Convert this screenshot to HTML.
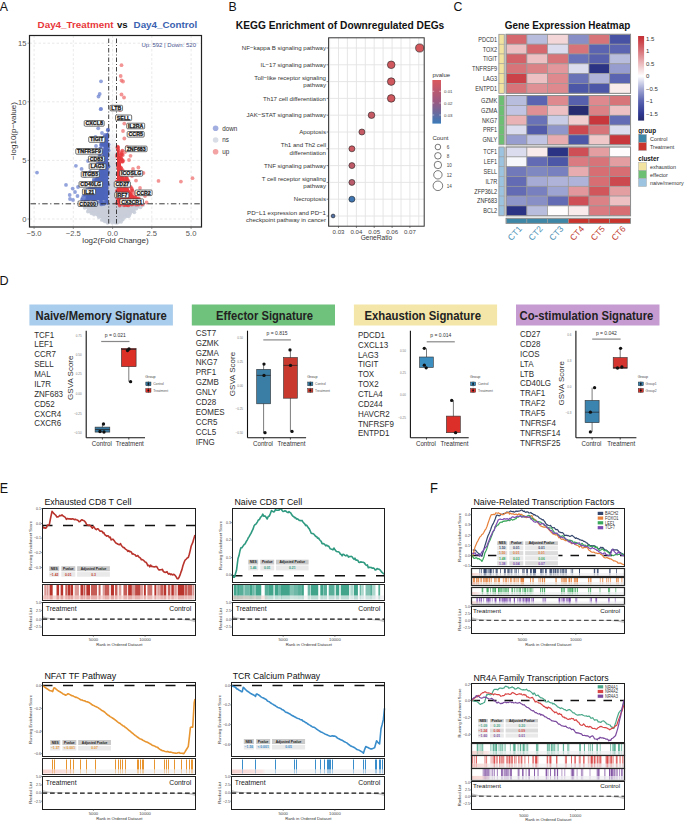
<!DOCTYPE html>
<html><head><meta charset="utf-8"><style>
html,body{margin:0;padding:0;background:#fff;width:685px;height:821px;overflow:hidden}
svg{display:block}
text{font-family:"Liberation Sans", sans-serif}
</style></head><body>
<svg width="685" height="821" viewBox="0 0 685 821" font-family="Liberation Sans, sans-serif">
<rect width="685" height="821" fill="#fff"/>
<text transform="translate(-0.3 10.9) scale(1 1.0)" font-size="12.3" fill="#111">A</text>
<text x="37.6" y="28.1" font-size="9.82" fill="#e8373a" font-weight="bold">Day4_Treatment</text>
<text x="116.9" y="28.1" font-size="9.62" fill="#111" font-weight="bold">vs</text>
<text x="133.6" y="28.1" font-size="9.81" fill="#3a62b0" font-weight="bold">Day4_Control</text>
<line x1="34.1" y1="35.5" x2="34.1" y2="227" stroke="#dadada" stroke-width="0.6" stroke-dasharray="2.5,2"/>
<line x1="73.3" y1="35.5" x2="73.3" y2="227" stroke="#dadada" stroke-width="0.6" stroke-dasharray="2.5,2"/>
<line x1="112.6" y1="35.5" x2="112.6" y2="227" stroke="#dadada" stroke-width="0.6" stroke-dasharray="2.5,2"/>
<line x1="151.8" y1="35.5" x2="151.8" y2="227" stroke="#dadada" stroke-width="0.6" stroke-dasharray="2.5,2"/>
<line x1="191.1" y1="35.5" x2="191.1" y2="227" stroke="#dadada" stroke-width="0.6" stroke-dasharray="2.5,2"/>
<line x1="29.5" y1="219" x2="201.5" y2="219" stroke="#dadada" stroke-width="0.6" stroke-dasharray="2.5,2"/>
<line x1="29.5" y1="160.4" x2="201.5" y2="160.4" stroke="#dadada" stroke-width="0.6" stroke-dasharray="2.5,2"/>
<line x1="29.5" y1="101.8" x2="201.5" y2="101.8" stroke="#dadada" stroke-width="0.6" stroke-dasharray="2.5,2"/>
<line x1="29.5" y1="43.2" x2="201.5" y2="43.2" stroke="#dadada" stroke-width="0.6" stroke-dasharray="2.5,2"/>
<polygon points="86,204.5 141,204.5 139,208 131,214 121,219.5 112.5,221 103,219.5 93,214 88,209" fill="#c9ced9" />
<defs><linearGradient id="bandg" x1="0" y1="1" x2="0" y2="0"><stop offset="0" stop-color="#ccd1dc"/><stop offset="0.55" stop-color="#d6dae3"/><stop offset="1" stop-color="#ffffff" stop-opacity="0"/></linearGradient></defs>
<polygon points="109.3,120 116,120 116,205 109.3,205" fill="url(#bandg)" />
<polygon points="108.3,132 108.3,205 86,205 84,200 87,194 91,188 95,181 98,173 100.5,165 102.5,155 104,143 105.5,134" fill="#4d64bb" />
<polygon points="117,150 117,205 140,205 135,198 129.5,190 125,181 122,171 120,160 119,150" fill="#e8393d" />
<g fill="#c9ced9" fill-opacity="0.9"><circle cx="102.8" cy="204.9" r="1.9"/><circle cx="122.7" cy="203.1" r="1.9"/><circle cx="87.3" cy="203.5" r="1.9"/><circle cx="108.9" cy="220.1" r="1.9"/><circle cx="90.6" cy="206.5" r="1.9"/><circle cx="135.4" cy="208" r="1.9"/><circle cx="91.8" cy="204.2" r="1.9"/><circle cx="101.8" cy="219.9" r="1.9"/><circle cx="94" cy="214.6" r="1.9"/><circle cx="116.4" cy="202.9" r="1.9"/><circle cx="86.6" cy="206.1" r="1.9"/><circle cx="97.9" cy="214.4" r="1.9"/><circle cx="115" cy="221.2" r="1.9"/><circle cx="108.5" cy="218.5" r="1.9"/><circle cx="92.3" cy="212.5" r="1.9"/><circle cx="129.6" cy="214.4" r="1.9"/><circle cx="136.4" cy="208.6" r="1.9"/><circle cx="125.4" cy="214.9" r="1.9"/><circle cx="93.3" cy="204.1" r="1.9"/><circle cx="90.9" cy="207.1" r="1.9"/><circle cx="106.8" cy="221.1" r="1.9"/><circle cx="87.9" cy="211.6" r="1.9"/><circle cx="116.5" cy="221.4" r="1.9"/><circle cx="104.9" cy="221.4" r="1.9"/><circle cx="141.4" cy="204.9" r="1.9"/><circle cx="93.7" cy="206.7" r="1.9"/><circle cx="118.9" cy="207.4" r="1.9"/><circle cx="124.2" cy="202.7" r="1.9"/><circle cx="86.8" cy="203" r="1.9"/><circle cx="95.7" cy="205.2" r="1.9"/><circle cx="103.7" cy="202.7" r="1.9"/><circle cx="89.2" cy="209.7" r="1.9"/><circle cx="120.5" cy="204.8" r="1.9"/><circle cx="105.2" cy="204.3" r="1.9"/><circle cx="88.2" cy="203.8" r="1.9"/><circle cx="103.9" cy="207.5" r="1.9"/><circle cx="133.6" cy="205.1" r="1.9"/><circle cx="115.2" cy="204.8" r="1.9"/><circle cx="116.1" cy="202.1" r="1.9"/><circle cx="115.5" cy="219" r="1.9"/><circle cx="103.1" cy="206.5" r="1.9"/><circle cx="96.8" cy="213.1" r="1.9"/><circle cx="104.7" cy="202.2" r="1.9"/><circle cx="84.7" cy="207.8" r="1.9"/><circle cx="98.8" cy="217.1" r="1.9"/><circle cx="96.4" cy="206.6" r="1.9"/><circle cx="95" cy="206.1" r="1.9"/><circle cx="121.1" cy="221.8" r="1.9"/><circle cx="134.3" cy="212.3" r="1.9"/><circle cx="122.8" cy="219.5" r="1.9"/><circle cx="128.8" cy="212.3" r="1.9"/><circle cx="103.3" cy="219.5" r="1.9"/><circle cx="107.5" cy="222.8" r="1.9"/><circle cx="127.2" cy="205.3" r="1.9"/><circle cx="90.7" cy="204.9" r="1.9"/><circle cx="91" cy="201.8" r="1.9"/><circle cx="115.1" cy="222.5" r="1.9"/><circle cx="109.5" cy="221.1" r="1.9"/><circle cx="133.4" cy="206.2" r="1.9"/><circle cx="97.7" cy="214.7" r="1.9"/><circle cx="118.6" cy="221.8" r="1.9"/><circle cx="108.7" cy="222.1" r="1.9"/><circle cx="114.9" cy="201.9" r="1.9"/><circle cx="109.8" cy="205.6" r="1.9"/><circle cx="93.5" cy="212.2" r="1.9"/><circle cx="127.2" cy="214" r="1.9"/><circle cx="116.9" cy="219.1" r="1.9"/><circle cx="130.1" cy="212.9" r="1.9"/><circle cx="117.3" cy="218.6" r="1.9"/><circle cx="112.2" cy="222.7" r="1.9"/><circle cx="140.5" cy="207.3" r="1.9"/><circle cx="117.1" cy="222.7" r="1.9"/><circle cx="134.2" cy="204.6" r="1.9"/><circle cx="90.4" cy="211.4" r="1.9"/><circle cx="87.4" cy="206.9" r="1.9"/><circle cx="123.3" cy="204.7" r="1.9"/><circle cx="92.8" cy="211.2" r="1.9"/><circle cx="127.1" cy="201.9" r="1.9"/><circle cx="89.4" cy="207.5" r="1.9"/><circle cx="99.5" cy="204.4" r="1.9"/><circle cx="108.8" cy="222" r="1.9"/><circle cx="133" cy="207.3" r="1.9"/><circle cx="117.8" cy="217.3" r="1.9"/><circle cx="88.5" cy="202.8" r="1.9"/><circle cx="121.7" cy="219.5" r="1.9"/><circle cx="116.7" cy="222.4" r="1.9"/><circle cx="99.3" cy="204.4" r="1.9"/><circle cx="115.1" cy="206.9" r="1.9"/><circle cx="89.7" cy="205.1" r="1.9"/><circle cx="86.1" cy="206" r="1.9"/><circle cx="113.5" cy="205.5" r="1.9"/><circle cx="104.2" cy="201.9" r="1.9"/><circle cx="98.3" cy="201.8" r="1.9"/><circle cx="127.7" cy="213.9" r="1.9"/><circle cx="94.6" cy="212.2" r="1.9"/><circle cx="133" cy="211.2" r="1.9"/><circle cx="113.2" cy="220.3" r="1.9"/><circle cx="103.9" cy="220.2" r="1.9"/><circle cx="126.1" cy="215.8" r="1.9"/><circle cx="98.6" cy="205.2" r="1.9"/><circle cx="100.2" cy="206.9" r="1.9"/><circle cx="92.6" cy="211.5" r="1.9"/><circle cx="95.3" cy="212.9" r="1.9"/><circle cx="88.5" cy="210.5" r="1.9"/><circle cx="101.6" cy="206.7" r="1.9"/><circle cx="128.8" cy="216.3" r="1.9"/><circle cx="143.1" cy="204.9" r="1.9"/><circle cx="127.2" cy="216" r="1.9"/><circle cx="91.5" cy="213.3" r="1.9"/><circle cx="113.8" cy="220.3" r="1.9"/><circle cx="118.6" cy="221.6" r="1.9"/><circle cx="124.7" cy="217.1" r="1.9"/><circle cx="97" cy="202.2" r="1.9"/><circle cx="91.1" cy="209.6" r="1.9"/><circle cx="121.2" cy="216.8" r="1.9"/><circle cx="112.8" cy="201.6" r="1.9"/><circle cx="123.2" cy="203" r="1.9"/><circle cx="127.9" cy="207.2" r="1.9"/><circle cx="87.5" cy="207.5" r="1.9"/><circle cx="127.5" cy="206.1" r="1.9"/></g>
<g fill="#5067bd" fill-opacity="0.7"><circle cx="95.5" cy="183.2" r="1.9"/><circle cx="103.8" cy="152.9" r="1.9"/><circle cx="101.6" cy="151.8" r="1.9"/><circle cx="108.5" cy="144.4" r="1.9"/><circle cx="87.1" cy="204.1" r="1.9"/><circle cx="106.2" cy="169.2" r="1.9"/><circle cx="108.3" cy="184.8" r="1.9"/><circle cx="106.8" cy="138.1" r="1.9"/><circle cx="83.7" cy="195.3" r="1.9"/><circle cx="89.4" cy="203.3" r="1.9"/><circle cx="92.2" cy="205" r="1.9"/><circle cx="108.2" cy="193.5" r="1.9"/><circle cx="100.2" cy="201.6" r="1.9"/><circle cx="103.4" cy="164.6" r="1.9"/><circle cx="89.8" cy="187.6" r="1.9"/><circle cx="101" cy="152.6" r="1.9"/><circle cx="87" cy="201" r="1.9"/><circle cx="104" cy="161.5" r="1.9"/><circle cx="96.3" cy="178.9" r="1.9"/><circle cx="107.5" cy="145.8" r="1.9"/><circle cx="107.8" cy="130.2" r="1.9"/><circle cx="108.5" cy="166.4" r="1.9"/><circle cx="92.8" cy="202.6" r="1.9"/><circle cx="106.3" cy="196.9" r="1.9"/><circle cx="96.9" cy="183.1" r="1.9"/><circle cx="94.8" cy="172.6" r="1.9"/><circle cx="87.8" cy="202.1" r="1.9"/><circle cx="100.7" cy="152.8" r="1.9"/><circle cx="96.9" cy="175.1" r="1.9"/><circle cx="108.2" cy="166.5" r="1.9"/><circle cx="96.1" cy="182.5" r="1.9"/><circle cx="101.4" cy="202.5" r="1.9"/><circle cx="101.9" cy="144.3" r="1.9"/><circle cx="105.4" cy="187.6" r="1.9"/><circle cx="106.2" cy="147" r="1.9"/><circle cx="87.4" cy="189.3" r="1.9"/><circle cx="89.7" cy="204.7" r="1.9"/><circle cx="101.3" cy="204.4" r="1.9"/><circle cx="86.3" cy="203.4" r="1.9"/><circle cx="101.3" cy="158.8" r="1.9"/><circle cx="106.2" cy="163.1" r="1.9"/><circle cx="92.2" cy="202.1" r="1.9"/><circle cx="105.6" cy="187.6" r="1.9"/><circle cx="106.3" cy="190.3" r="1.9"/><circle cx="99.5" cy="154.7" r="1.9"/><circle cx="105" cy="134.8" r="1.9"/><circle cx="102.7" cy="164.3" r="1.9"/><circle cx="106.8" cy="152" r="1.9"/><circle cx="103.6" cy="144.4" r="1.9"/><circle cx="85.3" cy="199.2" r="1.9"/><circle cx="105.8" cy="180.8" r="1.9"/><circle cx="106.8" cy="201.7" r="1.9"/><circle cx="107.6" cy="164.4" r="1.9"/><circle cx="88.6" cy="190.7" r="1.9"/><circle cx="99.2" cy="178.1" r="1.9"/><circle cx="100.9" cy="144.8" r="1.9"/><circle cx="101.7" cy="143.3" r="1.9"/><circle cx="105.4" cy="172.3" r="1.9"/><circle cx="90.1" cy="204.8" r="1.9"/><circle cx="103.3" cy="144.8" r="1.9"/><circle cx="96.8" cy="202.5" r="1.9"/><circle cx="106.3" cy="141.3" r="1.9"/><circle cx="105.1" cy="146.3" r="1.9"/><circle cx="106.5" cy="143.1" r="1.9"/><circle cx="106.7" cy="137.9" r="1.9"/><circle cx="99.3" cy="172.5" r="1.9"/><circle cx="100.1" cy="153" r="1.9"/><circle cx="93.8" cy="181.2" r="1.9"/><circle cx="95.9" cy="205" r="1.9"/><circle cx="105.2" cy="202.9" r="1.9"/><circle cx="104.2" cy="141.2" r="1.9"/><circle cx="108.6" cy="150.5" r="1.9"/><circle cx="106" cy="140" r="1.9"/><circle cx="96.2" cy="202.1" r="1.9"/><circle cx="85.5" cy="203.4" r="1.9"/><circle cx="85.8" cy="191.3" r="1.9"/><circle cx="100.4" cy="157.3" r="1.9"/><circle cx="107.8" cy="172.9" r="1.9"/><circle cx="100.2" cy="160" r="1.9"/><circle cx="105.5" cy="149.7" r="1.9"/><circle cx="91.8" cy="189.7" r="1.9"/><circle cx="106.2" cy="148.8" r="1.9"/><circle cx="99.8" cy="163.1" r="1.9"/><circle cx="100" cy="166.5" r="1.9"/><circle cx="84.7" cy="203.4" r="1.9"/><circle cx="107.8" cy="191.1" r="1.9"/><circle cx="100.7" cy="164" r="1.9"/><circle cx="96.4" cy="179.8" r="1.9"/><circle cx="106" cy="142.5" r="1.9"/><circle cx="82" cy="199.6" r="1.9"/><circle cx="105" cy="185.7" r="1.9"/><circle cx="103.7" cy="164.7" r="1.9"/><circle cx="91" cy="188.5" r="1.9"/><circle cx="102.8" cy="149.8" r="1.9"/><circle cx="97.8" cy="163.4" r="1.9"/><circle cx="105.2" cy="170.4" r="1.9"/><circle cx="108" cy="129.7" r="1.9"/><circle cx="103.8" cy="204.1" r="1.9"/><circle cx="103.9" cy="154.6" r="1.9"/><circle cx="108" cy="154.8" r="1.9"/><circle cx="94.2" cy="186.5" r="1.9"/><circle cx="82.9" cy="201.4" r="1.9"/><circle cx="83.8" cy="202.8" r="1.9"/><circle cx="106.2" cy="199.8" r="1.9"/><circle cx="82.6" cy="197.9" r="1.9"/><circle cx="107" cy="193.5" r="1.9"/><circle cx="100.3" cy="151.5" r="1.9"/><circle cx="104.2" cy="144.9" r="1.9"/><circle cx="89.3" cy="185.8" r="1.9"/><circle cx="107.1" cy="178" r="1.9"/><circle cx="91.4" cy="184.9" r="1.9"/><circle cx="107.5" cy="135.8" r="1.9"/><circle cx="106.2" cy="142.1" r="1.9"/><circle cx="88.7" cy="204" r="1.9"/><circle cx="102.4" cy="168.4" r="1.9"/><circle cx="100.2" cy="156.9" r="1.9"/><circle cx="85.4" cy="195.9" r="1.9"/><circle cx="108.2" cy="147.5" r="1.9"/><circle cx="103.5" cy="163.3" r="1.9"/><circle cx="102.2" cy="168.5" r="1.9"/><circle cx="100.3" cy="165.6" r="1.9"/><circle cx="93.2" cy="187.8" r="1.9"/><circle cx="107.2" cy="182.9" r="1.9"/><circle cx="100.6" cy="164.8" r="1.9"/><circle cx="105" cy="185.6" r="1.9"/><circle cx="100.2" cy="148.5" r="1.9"/><circle cx="100" cy="161.2" r="1.9"/><circle cx="101.6" cy="202.9" r="1.9"/><circle cx="104.9" cy="159.6" r="1.9"/><circle cx="85.5" cy="191" r="1.9"/><circle cx="96.5" cy="179.6" r="1.9"/><circle cx="106.4" cy="170.2" r="1.9"/><circle cx="93.3" cy="204.3" r="1.9"/><circle cx="92.8" cy="189.5" r="1.9"/><circle cx="93.7" cy="184.4" r="1.9"/><circle cx="87.4" cy="192.6" r="1.9"/><circle cx="105.8" cy="179.2" r="1.9"/><circle cx="95.2" cy="173.5" r="1.9"/><circle cx="106.1" cy="193.8" r="1.9"/><circle cx="106.6" cy="156.9" r="1.9"/><circle cx="107.1" cy="149.9" r="1.9"/><circle cx="93.9" cy="179.5" r="1.9"/><circle cx="101.1" cy="157.5" r="1.9"/><circle cx="84.9" cy="195" r="1.9"/><circle cx="101" cy="148.5" r="1.9"/><circle cx="87.8" cy="190.6" r="1.9"/><circle cx="85.8" cy="199.8" r="1.9"/><circle cx="105.2" cy="195.6" r="1.9"/><circle cx="95.1" cy="173.5" r="1.9"/><circle cx="101.9" cy="203" r="1.9"/><circle cx="96.5" cy="167.3" r="1.9"/><circle cx="106.4" cy="151.9" r="1.9"/><circle cx="106.4" cy="160.8" r="1.9"/><circle cx="108.2" cy="172.1" r="1.9"/><circle cx="101.8" cy="145.5" r="1.9"/><circle cx="101.4" cy="165.1" r="1.9"/><circle cx="104.4" cy="136.6" r="1.9"/><circle cx="104.7" cy="201.6" r="1.9"/><circle cx="101" cy="158" r="1.9"/><circle cx="106.2" cy="191.4" r="1.9"/></g>
<g fill="#e8393d" fill-opacity="0.7"><circle cx="122.6" cy="172.7" r="1.9"/><circle cx="123.1" cy="173.2" r="1.9"/><circle cx="132.8" cy="204.4" r="1.9"/><circle cx="131.3" cy="204.6" r="1.9"/><circle cx="118.1" cy="147.5" r="1.9"/><circle cx="117.4" cy="147.6" r="1.9"/><circle cx="134.9" cy="199.5" r="1.9"/><circle cx="132.4" cy="190.5" r="1.9"/><circle cx="127.3" cy="204.3" r="1.9"/><circle cx="118.5" cy="199.9" r="1.9"/><circle cx="124.5" cy="182.1" r="1.9"/><circle cx="126.7" cy="188.5" r="1.9"/><circle cx="117.8" cy="195.9" r="1.9"/><circle cx="124.4" cy="186.5" r="1.9"/><circle cx="134.6" cy="197.8" r="1.9"/><circle cx="123.5" cy="184.1" r="1.9"/><circle cx="126.4" cy="201.6" r="1.9"/><circle cx="131.6" cy="202.1" r="1.9"/><circle cx="126.2" cy="182.9" r="1.9"/><circle cx="138" cy="201.5" r="1.9"/><circle cx="137.9" cy="200.3" r="1.9"/><circle cx="134" cy="203.2" r="1.9"/><circle cx="130.1" cy="195.9" r="1.9"/><circle cx="119.5" cy="193" r="1.9"/><circle cx="131.7" cy="188.5" r="1.9"/><circle cx="130.9" cy="202.1" r="1.9"/><circle cx="127.8" cy="183" r="1.9"/><circle cx="119.2" cy="158.4" r="1.9"/><circle cx="118.9" cy="190" r="1.9"/><circle cx="124.4" cy="181.5" r="1.9"/><circle cx="125.6" cy="178.6" r="1.9"/><circle cx="118" cy="149.3" r="1.9"/><circle cx="119.5" cy="157.7" r="1.9"/><circle cx="127.2" cy="205.2" r="1.9"/><circle cx="121.2" cy="168.3" r="1.9"/><circle cx="140.6" cy="202.6" r="1.9"/><circle cx="136.1" cy="204.7" r="1.9"/><circle cx="131.2" cy="193.5" r="1.9"/><circle cx="121.2" cy="154.2" r="1.9"/><circle cx="120.7" cy="155.4" r="1.9"/><circle cx="120.1" cy="204.4" r="1.9"/><circle cx="139.5" cy="201.6" r="1.9"/><circle cx="117.7" cy="174.2" r="1.9"/><circle cx="117.8" cy="200.5" r="1.9"/><circle cx="121.5" cy="172" r="1.9"/><circle cx="118.2" cy="163.3" r="1.9"/><circle cx="118.5" cy="176.9" r="1.9"/><circle cx="123" cy="202.5" r="1.9"/><circle cx="121.2" cy="159" r="1.9"/><circle cx="117.7" cy="146.6" r="1.9"/><circle cx="119.1" cy="173.5" r="1.9"/><circle cx="118.9" cy="194.3" r="1.9"/><circle cx="121.7" cy="159.3" r="1.9"/><circle cx="131.9" cy="190.4" r="1.9"/><circle cx="138.8" cy="200.1" r="1.9"/><circle cx="119.1" cy="198.1" r="1.9"/><circle cx="124.6" cy="183.4" r="1.9"/><circle cx="126.9" cy="178.5" r="1.9"/><circle cx="117.1" cy="190.8" r="1.9"/><circle cx="138" cy="200.2" r="1.9"/><circle cx="119" cy="152.9" r="1.9"/><circle cx="121.9" cy="154.1" r="1.9"/><circle cx="117.9" cy="182" r="1.9"/><circle cx="138.3" cy="204.6" r="1.9"/><circle cx="125.2" cy="172.6" r="1.9"/><circle cx="125.4" cy="204.9" r="1.9"/><circle cx="120.7" cy="167.3" r="1.9"/><circle cx="137.6" cy="203.1" r="1.9"/><circle cx="138" cy="199.1" r="1.9"/><circle cx="142.2" cy="204.4" r="1.9"/><circle cx="121" cy="172.7" r="1.9"/><circle cx="126.5" cy="177.8" r="1.9"/><circle cx="137.8" cy="201.3" r="1.9"/><circle cx="129.8" cy="203.8" r="1.9"/><circle cx="117.1" cy="183.3" r="1.9"/><circle cx="121.6" cy="175.4" r="1.9"/><circle cx="117.2" cy="154.6" r="1.9"/><circle cx="122.3" cy="171.7" r="1.9"/><circle cx="122.1" cy="161.6" r="1.9"/><circle cx="130.6" cy="186.8" r="1.9"/><circle cx="119.5" cy="190.5" r="1.9"/><circle cx="127.3" cy="180.5" r="1.9"/><circle cx="122.8" cy="161.5" r="1.9"/><circle cx="120.1" cy="178.3" r="1.9"/><circle cx="125" cy="182.8" r="1.9"/><circle cx="118.3" cy="150.6" r="1.9"/><circle cx="118.1" cy="167.4" r="1.9"/><circle cx="137" cy="200.6" r="1.9"/><circle cx="125.2" cy="180.9" r="1.9"/><circle cx="137.1" cy="199.2" r="1.9"/><circle cx="119" cy="165.4" r="1.9"/><circle cx="117.8" cy="182.2" r="1.9"/><circle cx="138.8" cy="198.5" r="1.9"/><circle cx="126.3" cy="203" r="1.9"/><circle cx="124.2" cy="183.4" r="1.9"/><circle cx="124" cy="205.3" r="1.9"/><circle cx="125.5" cy="181.3" r="1.9"/><circle cx="126.7" cy="185.2" r="1.9"/><circle cx="118.6" cy="166.2" r="1.9"/><circle cx="118.2" cy="164.5" r="1.9"/><circle cx="119.1" cy="157.8" r="1.9"/><circle cx="128.4" cy="180.8" r="1.9"/><circle cx="117.1" cy="156.2" r="1.9"/><circle cx="131.9" cy="196.5" r="1.9"/><circle cx="118.6" cy="163" r="1.9"/><circle cx="126.7" cy="185" r="1.9"/><circle cx="122.9" cy="202.2" r="1.9"/><circle cx="128.4" cy="205.4" r="1.9"/><circle cx="120.8" cy="170.7" r="1.9"/><circle cx="120.8" cy="157.3" r="1.9"/><circle cx="117.2" cy="197.7" r="1.9"/><circle cx="119.2" cy="164.1" r="1.9"/><circle cx="118.2" cy="190.3" r="1.9"/><circle cx="119.7" cy="205.5" r="1.9"/><circle cx="125" cy="187.3" r="1.9"/><circle cx="118.8" cy="199.3" r="1.9"/><circle cx="116.8" cy="181.3" r="1.9"/><circle cx="124.3" cy="177.5" r="1.9"/><circle cx="122.4" cy="150.6" r="1.9"/><circle cx="122.8" cy="160.5" r="1.9"/><circle cx="117.3" cy="190.9" r="1.9"/><circle cx="122" cy="171.5" r="1.9"/><circle cx="117.5" cy="163.6" r="1.9"/><circle cx="125.9" cy="187.4" r="1.9"/><circle cx="117" cy="203.1" r="1.9"/><circle cx="118.4" cy="158.8" r="1.9"/><circle cx="122.6" cy="170.1" r="1.9"/><circle cx="126.5" cy="188.9" r="1.9"/><circle cx="116.8" cy="195.6" r="1.9"/><circle cx="119.8" cy="203.2" r="1.9"/><circle cx="135.9" cy="197.9" r="1.9"/><circle cx="121.9" cy="152.1" r="1.9"/><circle cx="135.7" cy="198" r="1.9"/><circle cx="126.4" cy="178.2" r="1.9"/><circle cx="134.6" cy="196.5" r="1.9"/><circle cx="121.3" cy="180.4" r="1.9"/><circle cx="122.8" cy="155" r="1.9"/><circle cx="120.6" cy="161.5" r="1.9"/><circle cx="117.8" cy="181.4" r="1.9"/><circle cx="129.9" cy="193.7" r="1.9"/></g>
<g fill="#6f84d0" fill-opacity="0.75"><circle cx="101" cy="81.3" r="1.9"/><circle cx="99.7" cy="94" r="1.9"/><circle cx="98.5" cy="96.5" r="1.9"/><circle cx="101" cy="108.8" r="1.9"/><circle cx="100.7" cy="109.2" r="1.9"/><circle cx="98.2" cy="128.3" r="1.9"/><circle cx="102" cy="133" r="1.9"/><circle cx="95.5" cy="137" r="1.9"/><circle cx="94" cy="124" r="1.9"/><circle cx="75.9" cy="165.8" r="1.9"/><circle cx="81.6" cy="168.9" r="1.9"/><circle cx="37" cy="172.6" r="1.9"/><circle cx="66" cy="184.9" r="1.9"/><circle cx="72.7" cy="188.6" r="1.9"/><circle cx="69.7" cy="195" r="1.9"/><circle cx="77.5" cy="196" r="1.9"/><circle cx="73" cy="200" r="1.9"/><circle cx="85" cy="176" r="1.9"/><circle cx="88" cy="161" r="1.9"/><circle cx="92" cy="150" r="1.9"/><circle cx="75" cy="192" r="1.9"/><circle cx="78" cy="187" r="1.9"/><circle cx="70" cy="199" r="1.9"/><circle cx="80" cy="203" r="1.9"/><circle cx="84" cy="198" r="1.9"/><circle cx="90" cy="172" r="1.9"/><circle cx="93" cy="158" r="1.9"/><circle cx="96" cy="146" r="1.9"/></g>
<g fill="#ef7272" fill-opacity="0.75"><circle cx="121.5" cy="65.2" r="1.9"/><circle cx="120.7" cy="76" r="1.9"/><circle cx="121.5" cy="80.5" r="1.9"/><circle cx="123" cy="81.5" r="1.9"/><circle cx="121.5" cy="94.5" r="1.9"/><circle cx="124" cy="97.5" r="1.9"/><circle cx="124.3" cy="123.6" r="1.9"/><circle cx="123" cy="131" r="1.9"/><circle cx="124.3" cy="138.5" r="1.9"/><circle cx="130.5" cy="155.8" r="1.9"/><circle cx="138.4" cy="167.5" r="1.9"/><circle cx="133" cy="169" r="1.9"/><circle cx="143.4" cy="173" r="1.9"/><circle cx="136" cy="180.6" r="1.9"/><circle cx="158.5" cy="180.9" r="1.9"/><circle cx="180.9" cy="181.6" r="1.9"/><circle cx="192.5" cy="178.2" r="1.9"/><circle cx="146.6" cy="202.5" r="1.9"/><circle cx="120" cy="110" r="1.9"/><circle cx="119" cy="118" r="1.9"/><circle cx="127" cy="147" r="1.9"/><circle cx="129" cy="160" r="1.9"/><circle cx="132" cy="176" r="1.9"/><circle cx="140" cy="188" r="1.9"/><circle cx="145" cy="196" r="1.9"/><circle cx="128" cy="186" r="1.9"/><circle cx="134" cy="193" r="1.9"/><circle cx="125" cy="152" r="1.9"/></g>
<line x1="108.7" y1="38.5" x2="108.7" y2="224" stroke="#2a2a2a" stroke-width="0.9" stroke-dasharray="4.5,2,1,2"/>
<line x1="116.5" y1="38.5" x2="116.5" y2="224" stroke="#2a2a2a" stroke-width="0.9" stroke-dasharray="4.5,2,1,2"/>
<line x1="30.5" y1="203.8" x2="200.5" y2="203.8" stroke="#222" stroke-width="0.9" stroke-dasharray="5.5,2.5,1.2,2.5"/>
<rect x="29.50" y="35.50" width="172.00" height="191.50" fill="none" stroke="#222" stroke-width="1.2"/>
<line x1="27.5" y1="219" x2="29.5" y2="219" stroke="#555" stroke-width="0.6" />
<text x="26.5" y="221.7" font-size="7.60" fill="#555" text-anchor="end">0</text>
<line x1="27.5" y1="160.4" x2="29.5" y2="160.4" stroke="#555" stroke-width="0.6" />
<text x="26.5" y="163.1" font-size="7.60" fill="#555" text-anchor="end">5</text>
<line x1="27.5" y1="101.8" x2="29.5" y2="101.8" stroke="#555" stroke-width="0.6" />
<text x="26.5" y="104.5" font-size="7.60" fill="#555" text-anchor="end">10</text>
<line x1="27.5" y1="43.2" x2="29.5" y2="43.2" stroke="#555" stroke-width="0.6" />
<text x="26.5" y="45.9" font-size="7.60" fill="#555" text-anchor="end">15</text>
<line x1="34.1" y1="227" x2="34.1" y2="229" stroke="#555" stroke-width="0.6" />
<text x="34.1" y="235.9" font-size="7.60" fill="#555" text-anchor="middle">−5.0</text>
<line x1="73.3" y1="227" x2="73.3" y2="229" stroke="#555" stroke-width="0.6" />
<text x="73.3" y="235.9" font-size="7.60" fill="#555" text-anchor="middle">−2.5</text>
<line x1="112.6" y1="227" x2="112.6" y2="229" stroke="#555" stroke-width="0.6" />
<text x="112.6" y="235.9" font-size="7.60" fill="#555" text-anchor="middle">0.0</text>
<line x1="151.8" y1="227" x2="151.8" y2="229" stroke="#555" stroke-width="0.6" />
<text x="151.8" y="235.9" font-size="7.60" fill="#555" text-anchor="middle">2.5</text>
<line x1="191.1" y1="227" x2="191.1" y2="229" stroke="#555" stroke-width="0.6" />
<text x="191.1" y="235.9" font-size="7.60" fill="#555" text-anchor="middle">5.0</text>
<text x="115.5" y="242.7" font-size="8.00" fill="#333" text-anchor="middle">log2(Fold Change)</text>
<text x="16.3" y="131" font-size="8.00" fill="#333" text-anchor="middle" transform="rotate(-90 16.3 131)">−log10(p−value)</text>
<text x="196" y="46.6" font-size="6.00" fill="#4a5590" text-anchor="end">Up: 592 | Down: 520</text>
<rect x="110.05" y="105.30" width="12.51" height="5.60" fill="#fff" stroke="#333" stroke-width="0.7" rx="1"/>
<text x="116.3" y="110" font-size="5.30" fill="#1a1a1a" text-anchor="middle" font-weight="bold" stroke="#1a1a1a" stroke-width="0.3">LTB</text>
<rect x="115.53" y="115.00" width="16.14" height="5.60" fill="#fff" stroke="#333" stroke-width="0.7" rx="1"/>
<text x="123.6" y="119.7" font-size="5.30" fill="#1a1a1a" text-anchor="middle" font-weight="bold" stroke="#1a1a1a" stroke-width="0.3">SELL</text>
<rect x="126.74" y="123.20" width="17.91" height="5.60" fill="#fff" stroke="#333" stroke-width="0.7" rx="1"/>
<text x="135.7" y="127.9" font-size="5.30" fill="#1a1a1a" text-anchor="middle" font-weight="bold" stroke="#1a1a1a" stroke-width="0.3">IL2RA</text>
<rect x="127.18" y="131.50" width="17.03" height="5.60" fill="#fff" stroke="#333" stroke-width="0.7" rx="1"/>
<text x="135.7" y="136.2" font-size="5.30" fill="#1a1a1a" text-anchor="middle" font-weight="bold" stroke="#1a1a1a" stroke-width="0.3">CCR5</text>
<rect x="84.21" y="120.60" width="19.97" height="5.60" fill="#fff" stroke="#333" stroke-width="0.7" rx="1"/>
<text x="94.2" y="125.3" font-size="5.30" fill="#1a1a1a" text-anchor="middle" font-weight="bold" stroke="#1a1a1a" stroke-width="0.3">CXCL8</text>
<rect x="88.73" y="136.70" width="16.14" height="5.60" fill="#fff" stroke="#333" stroke-width="0.7" rx="1"/>
<text x="96.8" y="141.4" font-size="5.30" fill="#1a1a1a" text-anchor="middle" font-weight="bold" stroke="#1a1a1a" stroke-width="0.3">TIGIT</text>
<rect x="125.33" y="146.10" width="21.74" height="5.60" fill="#fff" stroke="#333" stroke-width="0.7" rx="1"/>
<text x="136.2" y="150.8" font-size="5.30" fill="#1a1a1a" text-anchor="middle" font-weight="bold" stroke="#1a1a1a" stroke-width="0.3">ZNF683</text>
<rect x="75.78" y="148.60" width="26.45" height="5.60" fill="#fff" stroke="#333" stroke-width="0.7" rx="1"/>
<text x="89" y="153.3" font-size="5.30" fill="#1a1a1a" text-anchor="middle" font-weight="bold" stroke="#1a1a1a" stroke-width="0.3">TNFRSF9</text>
<rect x="88.43" y="156.20" width="16.15" height="5.60" fill="#fff" stroke="#333" stroke-width="0.7" rx="1"/>
<text x="96.5" y="160.9" font-size="5.30" fill="#1a1a1a" text-anchor="middle" font-weight="bold" stroke="#1a1a1a" stroke-width="0.3">CD83</text>
<rect x="89.13" y="163.70" width="16.73" height="5.60" fill="#fff" stroke="#333" stroke-width="0.7" rx="1"/>
<text x="97.5" y="168.4" font-size="5.30" fill="#1a1a1a" text-anchor="middle" font-weight="bold" stroke="#1a1a1a" stroke-width="0.3">LAG3</text>
<rect x="119.74" y="170.60" width="22.92" height="5.60" fill="#fff" stroke="#333" stroke-width="0.7" rx="1"/>
<text x="131.2" y="175.3" font-size="5.30" fill="#1a1a1a" text-anchor="middle" font-weight="bold" stroke="#1a1a1a" stroke-width="0.3">ICOSLG</text>
<rect x="81.20" y="171.60" width="18.21" height="5.60" fill="#fff" stroke="#333" stroke-width="0.7" rx="1"/>
<text x="90.3" y="176.3" font-size="5.30" fill="#1a1a1a" text-anchor="middle" font-weight="bold" stroke="#1a1a1a" stroke-width="0.3">ITGB5</text>
<rect x="79.05" y="181.60" width="23.51" height="5.60" fill="#fff" stroke="#333" stroke-width="0.7" rx="1"/>
<text x="90.8" y="186.3" font-size="5.30" fill="#1a1a1a" text-anchor="middle" font-weight="bold" stroke="#1a1a1a" stroke-width="0.3">CD40LG</text>
<rect x="114.23" y="181.60" width="16.15" height="5.60" fill="#fff" stroke="#333" stroke-width="0.7" rx="1"/>
<text x="122.3" y="186.3" font-size="5.30" fill="#1a1a1a" text-anchor="middle" font-weight="bold" stroke="#1a1a1a" stroke-width="0.3">CD27</text>
<rect x="82.40" y="189.00" width="13.20" height="5.60" fill="#fff" stroke="#333" stroke-width="0.7" rx="1"/>
<text x="89" y="193.7" font-size="5.30" fill="#1a1a1a" text-anchor="middle" font-weight="bold" stroke="#1a1a1a" stroke-width="0.3">IL21</text>
<rect x="135.08" y="190.00" width="17.03" height="5.60" fill="#fff" stroke="#333" stroke-width="0.7" rx="1"/>
<text x="143.6" y="194.7" font-size="5.30" fill="#1a1a1a" text-anchor="middle" font-weight="bold" stroke="#1a1a1a" stroke-width="0.3">CCR2</text>
<rect x="114.76" y="192.20" width="14.08" height="5.60" fill="#fff" stroke="#333" stroke-width="0.7" rx="1"/>
<text x="121.8" y="196.9" font-size="5.30" fill="#1a1a1a" text-anchor="middle" font-weight="bold" stroke="#1a1a1a" stroke-width="0.3">IRF7</text>
<rect x="119.94" y="198.90" width="23.51" height="5.60" fill="#fff" stroke="#333" stroke-width="0.7" rx="1"/>
<text x="131.7" y="203.6" font-size="5.30" fill="#1a1a1a" text-anchor="middle" font-weight="bold" stroke="#1a1a1a" stroke-width="0.3">CX3CR1</text>
<rect x="78.05" y="200.90" width="19.10" height="5.60" fill="#fff" stroke="#333" stroke-width="0.7" rx="1"/>
<text x="87.6" y="205.6" font-size="5.30" fill="#1a1a1a" text-anchor="middle" font-weight="bold" stroke="#1a1a1a" stroke-width="0.3">CD200</text>
<circle cx="215.6" cy="128.2" r="2.80" fill="#a3aee0"/>
<text x="222.3" y="130.5" font-size="6.30" fill="#333">down</text>
<circle cx="215.6" cy="140" r="2.80" fill="#d9dde6"/>
<text x="222.3" y="142.3" font-size="6.30" fill="#333">ns</text>
<circle cx="215.6" cy="151.7" r="2.80" fill="#f3a3a3"/>
<text x="222.3" y="154" font-size="6.30" fill="#333">up</text>
<text transform="translate(228.6 10.6) scale(1 1.0)" font-size="12.3" fill="#111">B</text>
<text x="235.8" y="28.8" font-size="10.20" fill="#111" font-weight="bold" textLength="208.5" lengthAdjust="spacingAndGlyphs">KEGG Enrichment of Downregulated DEGs</text>
<rect x="328.60" y="37.80" width="95.60" height="188.40" fill="#ffffff"/>
<line x1="329.6" y1="37.8" x2="329.6" y2="226.2" stroke="#e3e3e3" stroke-width="0.9" />
<line x1="338.5" y1="37.8" x2="338.5" y2="226.2" stroke="#e3e3e3" stroke-width="0.9" />
<line x1="347.4" y1="37.8" x2="347.4" y2="226.2" stroke="#e3e3e3" stroke-width="0.9" />
<line x1="356.4" y1="37.8" x2="356.4" y2="226.2" stroke="#e3e3e3" stroke-width="0.9" />
<line x1="365.3" y1="37.8" x2="365.3" y2="226.2" stroke="#e3e3e3" stroke-width="0.9" />
<line x1="374.2" y1="37.8" x2="374.2" y2="226.2" stroke="#e3e3e3" stroke-width="0.9" />
<line x1="383.1" y1="37.8" x2="383.1" y2="226.2" stroke="#e3e3e3" stroke-width="0.9" />
<line x1="392.1" y1="37.8" x2="392.1" y2="226.2" stroke="#e3e3e3" stroke-width="0.9" />
<line x1="401" y1="37.8" x2="401" y2="226.2" stroke="#e3e3e3" stroke-width="0.9" />
<line x1="409.9" y1="37.8" x2="409.9" y2="226.2" stroke="#e3e3e3" stroke-width="0.9" />
<line x1="418.8" y1="37.8" x2="418.8" y2="226.2" stroke="#e3e3e3" stroke-width="0.9" />
<line x1="328.6" y1="48" x2="424.2" y2="48" stroke="#e3e3e3" stroke-width="0.9" />
<line x1="328.6" y1="64.8" x2="424.2" y2="64.8" stroke="#e3e3e3" stroke-width="0.9" />
<line x1="328.6" y1="81.6" x2="424.2" y2="81.6" stroke="#e3e3e3" stroke-width="0.9" />
<line x1="328.6" y1="98.4" x2="424.2" y2="98.4" stroke="#e3e3e3" stroke-width="0.9" />
<line x1="328.6" y1="115.2" x2="424.2" y2="115.2" stroke="#e3e3e3" stroke-width="0.9" />
<line x1="328.6" y1="132" x2="424.2" y2="132" stroke="#e3e3e3" stroke-width="0.9" />
<line x1="328.6" y1="148.8" x2="424.2" y2="148.8" stroke="#e3e3e3" stroke-width="0.9" />
<line x1="328.6" y1="165.6" x2="424.2" y2="165.6" stroke="#e3e3e3" stroke-width="0.9" />
<line x1="328.6" y1="182.4" x2="424.2" y2="182.4" stroke="#e3e3e3" stroke-width="0.9" />
<line x1="328.6" y1="199.2" x2="424.2" y2="199.2" stroke="#e3e3e3" stroke-width="0.9" />
<line x1="328.6" y1="216" x2="424.2" y2="216" stroke="#e3e3e3" stroke-width="0.9" />
<circle cx="419.7" cy="48" r="4.10" fill="#d4575c" stroke="#222" stroke-width="0.6"/>
<circle cx="391.2" cy="64.8" r="3.80" fill="#cf585f" stroke="#222" stroke-width="0.6"/>
<circle cx="391.2" cy="81.6" r="3.80" fill="#cf585f" stroke="#222" stroke-width="0.6"/>
<circle cx="391.2" cy="98.4" r="3.80" fill="#cf585f" stroke="#222" stroke-width="0.6"/>
<circle cx="371.5" cy="115.2" r="3.30" fill="#c55a65" stroke="#222" stroke-width="0.6"/>
<circle cx="361.9" cy="132" r="3.00" fill="#c55a65" stroke="#222" stroke-width="0.6"/>
<circle cx="351.9" cy="148.8" r="3.00" fill="#ca5962" stroke="#222" stroke-width="0.6"/>
<circle cx="351.9" cy="165.6" r="3.00" fill="#bf5b68" stroke="#222" stroke-width="0.6"/>
<circle cx="351.9" cy="182.4" r="3.00" fill="#ba5c6b" stroke="#222" stroke-width="0.6"/>
<circle cx="351.9" cy="199.2" r="3.00" fill="#3f76b2" stroke="#222" stroke-width="0.6"/>
<circle cx="333.1" cy="216" r="1.90" fill="#5472a6" stroke="#222" stroke-width="0.6"/>
<rect x="328.60" y="37.80" width="95.60" height="188.40" fill="none" stroke="#333" stroke-width="1.0"/>
<line x1="326.6" y1="48" x2="328.6" y2="48" stroke="#333" stroke-width="0.6" />
<text x="326" y="50.2" font-size="6.10" fill="#333" text-anchor="end">NF−kappa B signaling pathway</text>
<line x1="326.6" y1="64.8" x2="328.6" y2="64.8" stroke="#333" stroke-width="0.6" />
<text x="326" y="67" font-size="6.10" fill="#333" text-anchor="end">IL−17 signaling pathway</text>
<line x1="326.6" y1="81.6" x2="328.6" y2="81.6" stroke="#333" stroke-width="0.6" />
<text x="326" y="80.2" font-size="6.10" fill="#333" text-anchor="end">Toll−like receptor signaling</text>
<text x="326" y="87.4" font-size="6.10" fill="#333" text-anchor="end">pathway</text>
<line x1="326.6" y1="98.4" x2="328.6" y2="98.4" stroke="#333" stroke-width="0.6" />
<text x="326" y="100.6" font-size="6.10" fill="#333" text-anchor="end">Th17 cell differentiation</text>
<line x1="326.6" y1="115.2" x2="328.6" y2="115.2" stroke="#333" stroke-width="0.6" />
<text x="326" y="117.4" font-size="6.10" fill="#333" text-anchor="end">JAK−STAT signaling pathway</text>
<line x1="326.6" y1="132" x2="328.6" y2="132" stroke="#333" stroke-width="0.6" />
<text x="326" y="134.2" font-size="6.10" fill="#333" text-anchor="end">Apoptosis</text>
<line x1="326.6" y1="148.8" x2="328.6" y2="148.8" stroke="#333" stroke-width="0.6" />
<text x="326" y="147.4" font-size="6.10" fill="#333" text-anchor="end">Th1 and Th2 cell</text>
<text x="326" y="154.6" font-size="6.10" fill="#333" text-anchor="end">differentiation</text>
<line x1="326.6" y1="165.6" x2="328.6" y2="165.6" stroke="#333" stroke-width="0.6" />
<text x="326" y="167.8" font-size="6.10" fill="#333" text-anchor="end">TNF signaling pathway</text>
<line x1="326.6" y1="182.4" x2="328.6" y2="182.4" stroke="#333" stroke-width="0.6" />
<text x="326" y="181" font-size="6.10" fill="#333" text-anchor="end">T cell receptor signaling</text>
<text x="326" y="188.2" font-size="6.10" fill="#333" text-anchor="end">pathway</text>
<line x1="326.6" y1="199.2" x2="328.6" y2="199.2" stroke="#333" stroke-width="0.6" />
<text x="326" y="201.4" font-size="6.10" fill="#333" text-anchor="end">Necroptosis</text>
<line x1="326.6" y1="216" x2="328.6" y2="216" stroke="#333" stroke-width="0.6" />
<text x="326" y="214.6" font-size="6.10" fill="#333" text-anchor="end">PD−L1 expression and PD−1</text>
<text x="326" y="221.8" font-size="6.10" fill="#333" text-anchor="end">checkpoint pathway in cancer</text>
<line x1="338.5" y1="226.2" x2="338.5" y2="228" stroke="#333" stroke-width="0.6" />
<text x="338.5" y="233.5" font-size="6.10" fill="#444" text-anchor="middle">0.03</text>
<line x1="356.4" y1="226.2" x2="356.4" y2="228" stroke="#333" stroke-width="0.6" />
<text x="356.4" y="233.5" font-size="6.10" fill="#444" text-anchor="middle">0.04</text>
<line x1="374.2" y1="226.2" x2="374.2" y2="228" stroke="#333" stroke-width="0.6" />
<text x="374.2" y="233.5" font-size="6.10" fill="#444" text-anchor="middle">0.05</text>
<line x1="392.1" y1="226.2" x2="392.1" y2="228" stroke="#333" stroke-width="0.6" />
<text x="392.1" y="233.5" font-size="6.10" fill="#444" text-anchor="middle">0.06</text>
<line x1="409.9" y1="226.2" x2="409.9" y2="228" stroke="#333" stroke-width="0.6" />
<text x="409.9" y="233.5" font-size="6.10" fill="#444" text-anchor="middle">0.07</text>
<text x="376.4" y="240.3" font-size="6.60" fill="#333" text-anchor="middle">GeneRatio</text>
<text x="432.4" y="77.2" font-size="6.00" fill="#333">pvalue</text>
<defs><linearGradient id="pvg" x1="0" y1="0" x2="0" y2="1"><stop offset="0" stop-color="#d9585d"/><stop offset="0.5" stop-color="#9b5a82"/><stop offset="1" stop-color="#3a7ab8"/></linearGradient></defs>
<rect x="432.40" y="80.00" width="8.60" height="43.60" fill="url(#pvg)"/>
<line x1="432.4" y1="91.3" x2="434.2" y2="91.3" stroke="#fff" stroke-width="0.5" />
<line x1="439.2" y1="91.3" x2="441" y2="91.3" stroke="#fff" stroke-width="0.5" />
<text x="444" y="92.9" font-size="4.40" fill="#444">0.01</text>
<line x1="432.4" y1="103" x2="434.2" y2="103" stroke="#fff" stroke-width="0.5" />
<line x1="439.2" y1="103" x2="441" y2="103" stroke="#fff" stroke-width="0.5" />
<text x="444" y="104.6" font-size="4.40" fill="#444">0.02</text>
<line x1="432.4" y1="115" x2="434.2" y2="115" stroke="#fff" stroke-width="0.5" />
<line x1="439.2" y1="115" x2="441" y2="115" stroke="#fff" stroke-width="0.5" />
<text x="444" y="116.6" font-size="4.40" fill="#444">0.03</text>
<text x="432.4" y="139.6" font-size="6.00" fill="#333">Count</text>
<circle cx="437.9" cy="147" r="2.80" fill="#fff" stroke="#222" stroke-width="0.6"/>
<text x="446.7" y="148.7" font-size="4.60" fill="#444">6</text>
<circle cx="437.9" cy="155.8" r="3.25" fill="#fff" stroke="#222" stroke-width="0.6"/>
<text x="446.7" y="157.5" font-size="4.60" fill="#444">8</text>
<circle cx="437.9" cy="165" r="3.70" fill="#fff" stroke="#222" stroke-width="0.6"/>
<text x="446.7" y="166.7" font-size="4.60" fill="#444">10</text>
<circle cx="437.9" cy="174.8" r="4.20" fill="#fff" stroke="#222" stroke-width="0.6"/>
<text x="446.7" y="176.5" font-size="4.60" fill="#444">12</text>
<circle cx="437.9" cy="185.8" r="4.80" fill="#fff" stroke="#222" stroke-width="0.6"/>
<text x="446.7" y="187.5" font-size="4.60" fill="#444">14</text>
<text transform="translate(453.6 10.7) scale(1 1.0)" font-size="12.3" fill="#111">C</text>
<text x="504.7" y="28.8" font-size="10.20" fill="#111" font-weight="bold" textLength="125.5" lengthAdjust="spacingAndGlyphs">Gene Expression Heatmap</text>
<rect x="499.00" y="34.40" width="5.10" height="9.80" fill="#f3e3a0" stroke="#9a9a9a" stroke-width="0.5"/>
<rect x="499.00" y="44.20" width="5.10" height="9.80" fill="#f3e3a0" stroke="#9a9a9a" stroke-width="0.5"/>
<rect x="499.00" y="54.00" width="5.10" height="9.80" fill="#f3e3a0" stroke="#9a9a9a" stroke-width="0.5"/>
<rect x="499.00" y="63.80" width="5.10" height="9.80" fill="#f3e3a0" stroke="#9a9a9a" stroke-width="0.5"/>
<rect x="499.00" y="73.60" width="5.10" height="9.80" fill="#f3e3a0" stroke="#9a9a9a" stroke-width="0.5"/>
<rect x="499.00" y="83.40" width="5.10" height="9.80" fill="#f3e3a0" stroke="#9a9a9a" stroke-width="0.5"/>
<rect x="499.00" y="95.70" width="5.10" height="9.80" fill="#6cbf73" stroke="#9a9a9a" stroke-width="0.5"/>
<rect x="499.00" y="105.50" width="5.10" height="9.80" fill="#6cbf73" stroke="#9a9a9a" stroke-width="0.5"/>
<rect x="499.00" y="115.30" width="5.10" height="9.80" fill="#6cbf73" stroke="#9a9a9a" stroke-width="0.5"/>
<rect x="499.00" y="125.10" width="5.10" height="9.80" fill="#6cbf73" stroke="#9a9a9a" stroke-width="0.5"/>
<rect x="499.00" y="134.90" width="5.10" height="9.80" fill="#6cbf73" stroke="#9a9a9a" stroke-width="0.5"/>
<rect x="499.00" y="147.10" width="5.10" height="9.80" fill="#9cc3e0" stroke="#9a9a9a" stroke-width="0.5"/>
<rect x="499.00" y="156.90" width="5.10" height="9.80" fill="#9cc3e0" stroke="#9a9a9a" stroke-width="0.5"/>
<rect x="499.00" y="166.70" width="5.10" height="9.80" fill="#9cc3e0" stroke="#9a9a9a" stroke-width="0.5"/>
<rect x="499.00" y="176.50" width="5.10" height="9.80" fill="#9cc3e0" stroke="#9a9a9a" stroke-width="0.5"/>
<rect x="499.00" y="186.30" width="5.10" height="9.80" fill="#9cc3e0" stroke="#9a9a9a" stroke-width="0.5"/>
<rect x="499.00" y="196.10" width="5.10" height="9.80" fill="#9cc3e0" stroke="#9a9a9a" stroke-width="0.5"/>
<rect x="499.00" y="205.90" width="5.10" height="9.80" fill="#9cc3e0" stroke="#9a9a9a" stroke-width="0.5"/>
<rect x="506.20" y="34.40" width="20.70" height="9.80" fill="#d4686e" stroke="#999999" stroke-width="0.7"/>
<rect x="526.90" y="34.40" width="20.70" height="9.80" fill="#b8bcdd" stroke="#999999" stroke-width="0.7"/>
<rect x="547.60" y="34.40" width="20.70" height="9.80" fill="#f3d6d7" stroke="#999999" stroke-width="0.7"/>
<rect x="568.30" y="34.40" width="20.70" height="9.80" fill="#888fc6" stroke="#999999" stroke-width="0.7"/>
<rect x="589.00" y="34.40" width="20.70" height="9.80" fill="#d7747a" stroke="#999999" stroke-width="0.7"/>
<rect x="609.70" y="34.40" width="20.70" height="9.80" fill="#4852a4" stroke="#999999" stroke-width="0.7"/>
<text transform="translate(497.2 41.7) scale(1 1.18)" font-size="5.60" fill="#333" text-anchor="end">PDCD1</text>
<rect x="506.20" y="44.20" width="20.70" height="9.80" fill="#edc1c4" stroke="#999999" stroke-width="0.7"/>
<rect x="526.90" y="44.20" width="20.70" height="9.80" fill="#d4686e" stroke="#999999" stroke-width="0.7"/>
<rect x="547.60" y="44.20" width="20.70" height="9.80" fill="#dbddee" stroke="#999999" stroke-width="0.7"/>
<rect x="568.30" y="44.20" width="20.70" height="9.80" fill="#d7747a" stroke="#999999" stroke-width="0.7"/>
<rect x="589.00" y="44.20" width="20.70" height="9.80" fill="#5a64b0" stroke="#999999" stroke-width="0.7"/>
<rect x="609.70" y="44.20" width="20.70" height="9.80" fill="#5a64b0" stroke="#999999" stroke-width="0.7"/>
<text transform="translate(497.2 51.5) scale(1 1.18)" font-size="5.60" fill="#333" text-anchor="end">TOX2</text>
<rect x="506.20" y="54.00" width="20.70" height="9.80" fill="#d26267" stroke="#999999" stroke-width="0.7"/>
<rect x="526.90" y="54.00" width="20.70" height="9.80" fill="#edc1c4" stroke="#999999" stroke-width="0.7"/>
<rect x="547.60" y="54.00" width="20.70" height="9.80" fill="#d7747a" stroke="#999999" stroke-width="0.7"/>
<rect x="568.30" y="54.00" width="20.70" height="9.80" fill="#6972b7" stroke="#999999" stroke-width="0.7"/>
<rect x="589.00" y="54.00" width="20.70" height="9.80" fill="#5660ad" stroke="#999999" stroke-width="0.7"/>
<rect x="609.70" y="54.00" width="20.70" height="9.80" fill="#b8bcdd" stroke="#999999" stroke-width="0.7"/>
<text transform="translate(497.2 61.3) scale(1 1.18)" font-size="5.60" fill="#333" text-anchor="end">TIGIT</text>
<rect x="506.20" y="63.80" width="20.70" height="9.80" fill="#d7747a" stroke="#999999" stroke-width="0.7"/>
<rect x="526.90" y="63.80" width="20.70" height="9.80" fill="#db8287" stroke="#999999" stroke-width="0.7"/>
<rect x="547.60" y="63.80" width="20.70" height="9.80" fill="#e1979c" stroke="#999999" stroke-width="0.7"/>
<rect x="568.30" y="63.80" width="20.70" height="9.80" fill="#dbddee" stroke="#999999" stroke-width="0.7"/>
<rect x="589.00" y="63.80" width="20.70" height="9.80" fill="#2b3384" stroke="#999999" stroke-width="0.7"/>
<rect x="609.70" y="63.80" width="20.70" height="9.80" fill="#979dce" stroke="#999999" stroke-width="0.7"/>
<text transform="translate(497.2 71.1) scale(1 1.18)" font-size="5.60" fill="#333" text-anchor="end">TNFRSF9</text>
<rect x="506.20" y="73.60" width="20.70" height="9.80" fill="#cb4348" stroke="#999999" stroke-width="0.7"/>
<rect x="526.90" y="73.60" width="20.70" height="9.80" fill="#edc1c4" stroke="#999999" stroke-width="0.7"/>
<rect x="547.60" y="73.60" width="20.70" height="9.80" fill="#dd898e" stroke="#999999" stroke-width="0.7"/>
<rect x="568.30" y="73.60" width="20.70" height="9.80" fill="#6972b7" stroke="#999999" stroke-width="0.7"/>
<rect x="589.00" y="73.60" width="20.70" height="9.80" fill="#afb3d9" stroke="#999999" stroke-width="0.7"/>
<rect x="609.70" y="73.60" width="20.70" height="9.80" fill="#5a64b0" stroke="#999999" stroke-width="0.7"/>
<text transform="translate(497.2 80.9) scale(1 1.18)" font-size="5.60" fill="#333" text-anchor="end">LAG3</text>
<rect x="506.20" y="83.40" width="20.70" height="9.80" fill="#d7747a" stroke="#999999" stroke-width="0.7"/>
<rect x="526.90" y="83.40" width="20.70" height="9.80" fill="#df9095" stroke="#999999" stroke-width="0.7"/>
<rect x="547.60" y="83.40" width="20.70" height="9.80" fill="#dd898e" stroke="#999999" stroke-width="0.7"/>
<rect x="568.30" y="83.40" width="20.70" height="9.80" fill="#4d57a7" stroke="#999999" stroke-width="0.7"/>
<rect x="589.00" y="83.40" width="20.70" height="9.80" fill="#4d57a7" stroke="#999999" stroke-width="0.7"/>
<rect x="609.70" y="83.40" width="20.70" height="9.80" fill="#f9eaeb" stroke="#999999" stroke-width="0.7"/>
<text transform="translate(497.2 90.7) scale(1 1.18)" font-size="5.60" fill="#333" text-anchor="end">ENTPD1</text>
<rect x="506.20" y="95.70" width="20.70" height="9.80" fill="#b8bcdd" stroke="#999999" stroke-width="0.7"/>
<rect x="526.90" y="95.70" width="20.70" height="9.80" fill="#5a64b0" stroke="#999999" stroke-width="0.7"/>
<rect x="547.60" y="95.70" width="20.70" height="9.80" fill="#dd898e" stroke="#999999" stroke-width="0.7"/>
<rect x="568.30" y="95.70" width="20.70" height="9.80" fill="#5660ad" stroke="#999999" stroke-width="0.7"/>
<rect x="589.00" y="95.70" width="20.70" height="9.80" fill="#dd898e" stroke="#999999" stroke-width="0.7"/>
<rect x="609.70" y="95.70" width="20.70" height="9.80" fill="#d7747a" stroke="#999999" stroke-width="0.7"/>
<text transform="translate(497.2 103) scale(1 1.18)" font-size="5.60" fill="#333" text-anchor="end">GZMK</text>
<rect x="506.20" y="105.50" width="20.70" height="9.80" fill="#c1c4e2" stroke="#999999" stroke-width="0.7"/>
<rect x="526.90" y="105.50" width="20.70" height="9.80" fill="#df9095" stroke="#999999" stroke-width="0.7"/>
<rect x="547.60" y="105.50" width="20.70" height="9.80" fill="#edc1c4" stroke="#999999" stroke-width="0.7"/>
<rect x="568.30" y="105.50" width="20.70" height="9.80" fill="#272c70" stroke="#999999" stroke-width="0.7"/>
<rect x="589.00" y="105.50" width="20.70" height="9.80" fill="#db8287" stroke="#999999" stroke-width="0.7"/>
<rect x="609.70" y="105.50" width="20.70" height="9.80" fill="#edc1c4" stroke="#999999" stroke-width="0.7"/>
<text transform="translate(497.2 112.8) scale(1 1.18)" font-size="5.60" fill="#333" text-anchor="end">GZMA</text>
<rect x="506.20" y="115.30" width="20.70" height="9.80" fill="#e9b3b6" stroke="#999999" stroke-width="0.7"/>
<rect x="526.90" y="115.30" width="20.70" height="9.80" fill="#6972b7" stroke="#999999" stroke-width="0.7"/>
<rect x="547.60" y="115.30" width="20.70" height="9.80" fill="#cacde6" stroke="#999999" stroke-width="0.7"/>
<rect x="568.30" y="115.30" width="20.70" height="9.80" fill="#f1cfd1" stroke="#999999" stroke-width="0.7"/>
<rect x="589.00" y="115.30" width="20.70" height="9.80" fill="#c8373c" stroke="#999999" stroke-width="0.7"/>
<rect x="609.70" y="115.30" width="20.70" height="9.80" fill="#626bb4" stroke="#999999" stroke-width="0.7"/>
<text transform="translate(497.2 122.6) scale(1 1.18)" font-size="5.60" fill="#333" text-anchor="end">NKG7</text>
<rect x="506.20" y="125.10" width="20.70" height="9.80" fill="#dbddee" stroke="#999999" stroke-width="0.7"/>
<rect x="526.90" y="125.10" width="20.70" height="9.80" fill="#515baa" stroke="#999999" stroke-width="0.7"/>
<rect x="547.60" y="125.10" width="20.70" height="9.80" fill="#8f96ca" stroke="#999999" stroke-width="0.7"/>
<rect x="568.30" y="125.10" width="20.70" height="9.80" fill="#cc494f" stroke="#999999" stroke-width="0.7"/>
<rect x="589.00" y="125.10" width="20.70" height="9.80" fill="#d7747a" stroke="#999999" stroke-width="0.7"/>
<rect x="609.70" y="125.10" width="20.70" height="9.80" fill="#dbddee" stroke="#999999" stroke-width="0.7"/>
<text transform="translate(497.2 132.4) scale(1 1.18)" font-size="5.60" fill="#333" text-anchor="end">PRF1</text>
<rect x="506.20" y="134.90" width="20.70" height="9.80" fill="#979dce" stroke="#999999" stroke-width="0.7"/>
<rect x="526.90" y="134.90" width="20.70" height="9.80" fill="#c1c4e2" stroke="#999999" stroke-width="0.7"/>
<rect x="547.60" y="134.90" width="20.70" height="9.80" fill="#e7acb0" stroke="#999999" stroke-width="0.7"/>
<rect x="568.30" y="134.90" width="20.70" height="9.80" fill="#4d57a7" stroke="#999999" stroke-width="0.7"/>
<rect x="589.00" y="134.90" width="20.70" height="9.80" fill="#efc8ca" stroke="#999999" stroke-width="0.7"/>
<rect x="609.70" y="134.90" width="20.70" height="9.80" fill="#c8373c" stroke="#999999" stroke-width="0.7"/>
<text transform="translate(497.2 142.2) scale(1 1.18)" font-size="5.60" fill="#333" text-anchor="end">GNLY</text>
<rect x="506.20" y="147.10" width="20.70" height="9.80" fill="#dbddee" stroke="#999999" stroke-width="0.7"/>
<rect x="526.90" y="147.10" width="20.70" height="9.80" fill="#f9eaeb" stroke="#999999" stroke-width="0.7"/>
<rect x="547.60" y="147.10" width="20.70" height="9.80" fill="#2b3384" stroke="#999999" stroke-width="0.7"/>
<rect x="568.30" y="147.10" width="20.70" height="9.80" fill="#ce4f55" stroke="#999999" stroke-width="0.7"/>
<rect x="589.00" y="147.10" width="20.70" height="9.80" fill="#e39ea2" stroke="#999999" stroke-width="0.7"/>
<rect x="609.70" y="147.10" width="20.70" height="9.80" fill="#fefcfc" stroke="#999999" stroke-width="0.7"/>
<text transform="translate(497.2 154.4) scale(1 1.18)" font-size="5.60" fill="#333" text-anchor="end">TCF1</text>
<rect x="506.20" y="156.90" width="20.70" height="9.80" fill="#f6f7fb" stroke="#999999" stroke-width="0.7"/>
<rect x="526.90" y="156.90" width="20.70" height="9.80" fill="#626bb4" stroke="#999999" stroke-width="0.7"/>
<rect x="547.60" y="156.90" width="20.70" height="9.80" fill="#4d57a7" stroke="#999999" stroke-width="0.7"/>
<rect x="568.30" y="156.90" width="20.70" height="9.80" fill="#d97b81" stroke="#999999" stroke-width="0.7"/>
<rect x="589.00" y="156.90" width="20.70" height="9.80" fill="#d7747a" stroke="#999999" stroke-width="0.7"/>
<rect x="609.70" y="156.90" width="20.70" height="9.80" fill="#e39ea2" stroke="#999999" stroke-width="0.7"/>
<text transform="translate(497.2 164.2) scale(1 1.18)" font-size="5.60" fill="#333" text-anchor="end">LEF1</text>
<rect x="506.20" y="166.70" width="20.70" height="9.80" fill="#7179bb" stroke="#999999" stroke-width="0.7"/>
<rect x="526.90" y="166.70" width="20.70" height="9.80" fill="#8088c2" stroke="#999999" stroke-width="0.7"/>
<rect x="547.60" y="166.70" width="20.70" height="9.80" fill="#7880bf" stroke="#999999" stroke-width="0.7"/>
<rect x="568.30" y="166.70" width="20.70" height="9.80" fill="#e7acb0" stroke="#999999" stroke-width="0.7"/>
<rect x="589.00" y="166.70" width="20.70" height="9.80" fill="#d66e74" stroke="#999999" stroke-width="0.7"/>
<rect x="609.70" y="166.70" width="20.70" height="9.80" fill="#d66e74" stroke="#999999" stroke-width="0.7"/>
<text transform="translate(497.2 174) scale(1 1.18)" font-size="5.60" fill="#333" text-anchor="end">SELL</text>
<rect x="506.20" y="176.50" width="20.70" height="9.80" fill="#626bb4" stroke="#999999" stroke-width="0.7"/>
<rect x="526.90" y="176.50" width="20.70" height="9.80" fill="#a6abd5" stroke="#999999" stroke-width="0.7"/>
<rect x="547.60" y="176.50" width="20.70" height="9.80" fill="#afb3d9" stroke="#999999" stroke-width="0.7"/>
<rect x="568.30" y="176.50" width="20.70" height="9.80" fill="#afb3d9" stroke="#999999" stroke-width="0.7"/>
<rect x="589.00" y="176.50" width="20.70" height="9.80" fill="#d66e74" stroke="#999999" stroke-width="0.7"/>
<rect x="609.70" y="176.50" width="20.70" height="9.80" fill="#cc494f" stroke="#999999" stroke-width="0.7"/>
<text transform="translate(497.2 183.8) scale(1 1.18)" font-size="5.60" fill="#333" text-anchor="end">IL7R</text>
<rect x="506.20" y="186.30" width="20.70" height="9.80" fill="#626bb4" stroke="#999999" stroke-width="0.7"/>
<rect x="526.90" y="186.30" width="20.70" height="9.80" fill="#7880bf" stroke="#999999" stroke-width="0.7"/>
<rect x="547.60" y="186.30" width="20.70" height="9.80" fill="#9ea4d1" stroke="#999999" stroke-width="0.7"/>
<rect x="568.30" y="186.30" width="20.70" height="9.80" fill="#e1979c" stroke="#999999" stroke-width="0.7"/>
<rect x="589.00" y="186.30" width="20.70" height="9.80" fill="#d0565b" stroke="#999999" stroke-width="0.7"/>
<rect x="609.70" y="186.30" width="20.70" height="9.80" fill="#e39ea2" stroke="#999999" stroke-width="0.7"/>
<text transform="translate(497.2 193.6) scale(1 1.18)" font-size="5.60" fill="#333" text-anchor="end">ZFP36L2</text>
<rect x="506.20" y="196.10" width="20.70" height="9.80" fill="#8f96ca" stroke="#999999" stroke-width="0.7"/>
<rect x="526.90" y="196.10" width="20.70" height="9.80" fill="#888fc6" stroke="#999999" stroke-width="0.7"/>
<rect x="547.60" y="196.10" width="20.70" height="9.80" fill="#626bb4" stroke="#999999" stroke-width="0.7"/>
<rect x="568.30" y="196.10" width="20.70" height="9.80" fill="#ce4f55" stroke="#999999" stroke-width="0.7"/>
<rect x="589.00" y="196.10" width="20.70" height="9.80" fill="#db8287" stroke="#999999" stroke-width="0.7"/>
<rect x="609.70" y="196.10" width="20.70" height="9.80" fill="#edc1c4" stroke="#999999" stroke-width="0.7"/>
<text transform="translate(497.2 203.4) scale(1 1.18)" font-size="5.60" fill="#333" text-anchor="end">ZNF683</text>
<rect x="506.20" y="205.90" width="20.70" height="9.80" fill="#2b3384" stroke="#999999" stroke-width="0.7"/>
<rect x="526.90" y="205.90" width="20.70" height="9.80" fill="#b8bcdd" stroke="#999999" stroke-width="0.7"/>
<rect x="547.60" y="205.90" width="20.70" height="9.80" fill="#fefcfc" stroke="#999999" stroke-width="0.7"/>
<rect x="568.30" y="205.90" width="20.70" height="9.80" fill="#f9eaeb" stroke="#999999" stroke-width="0.7"/>
<rect x="589.00" y="205.90" width="20.70" height="9.80" fill="#d97b81" stroke="#999999" stroke-width="0.7"/>
<rect x="609.70" y="205.90" width="20.70" height="9.80" fill="#d66e74" stroke="#999999" stroke-width="0.7"/>
<text transform="translate(497.2 213.2) scale(1 1.18)" font-size="5.60" fill="#333" text-anchor="end">BCL2</text>
<rect x="506.00" y="34.20" width="124.60" height="59.20" fill="none" stroke="#8a8a8a" stroke-width="0.9"/>
<rect x="498.80" y="34.20" width="5.50" height="59.20" fill="none" stroke="#9a9a9a" stroke-width="0.6"/>
<rect x="506.00" y="95.50" width="124.60" height="49.40" fill="none" stroke="#8a8a8a" stroke-width="0.9"/>
<rect x="498.80" y="95.50" width="5.50" height="49.40" fill="none" stroke="#9a9a9a" stroke-width="0.6"/>
<rect x="506.00" y="146.90" width="124.60" height="69.00" fill="none" stroke="#8a8a8a" stroke-width="0.9"/>
<rect x="498.80" y="146.90" width="5.50" height="69.00" fill="none" stroke="#9a9a9a" stroke-width="0.6"/>
<rect x="506.20" y="218.40" width="20.70" height="4.80" fill="#3d86a6" stroke="#999" stroke-width="0.6"/>
<rect x="526.90" y="218.40" width="20.70" height="4.80" fill="#3d86a6" stroke="#999" stroke-width="0.6"/>
<rect x="547.60" y="218.40" width="20.70" height="4.80" fill="#3d86a6" stroke="#999" stroke-width="0.6"/>
<rect x="568.30" y="218.40" width="20.70" height="4.80" fill="#c9352d" stroke="#999" stroke-width="0.6"/>
<rect x="589.00" y="218.40" width="20.70" height="4.80" fill="#c9352d" stroke="#999" stroke-width="0.6"/>
<rect x="609.70" y="218.40" width="20.70" height="4.80" fill="#c9352d" stroke="#999" stroke-width="0.6"/>
<rect x="506.00" y="218.20" width="124.60" height="5.20" fill="none" stroke="#8a8a8a" stroke-width="0.8"/>
<text x="522.5" y="229.2" font-size="8.60" fill="#4a90b5" text-anchor="end" transform="rotate(-48 522.5 229.2)">CT1</text>
<text x="543.2" y="229.2" font-size="8.60" fill="#4a90b5" text-anchor="end" transform="rotate(-48 543.2 229.2)">CT2</text>
<text x="564" y="229.2" font-size="8.60" fill="#4a90b5" text-anchor="end" transform="rotate(-48 564 229.2)">CT3</text>
<text x="584.6" y="229.2" font-size="8.60" fill="#c0392b" text-anchor="end" transform="rotate(-48 584.6 229.2)">CT4</text>
<text x="605.4" y="229.2" font-size="8.60" fill="#c0392b" text-anchor="end" transform="rotate(-48 605.4 229.2)">CT5</text>
<text x="626.1" y="229.2" font-size="8.60" fill="#c0392b" text-anchor="end" transform="rotate(-48 626.1 229.2)">CT6</text>
<defs><linearGradient id="hmg" x1="0" y1="0" x2="0" y2="1"><stop offset="0.000" stop-color="#c23238"/><stop offset="0.032" stop-color="#c8373c"/><stop offset="0.179" stop-color="#d7747a"/><stop offset="0.326" stop-color="#ebbabd"/><stop offset="0.474" stop-color="#ffffff"/><stop offset="0.621" stop-color="#a6abd5"/><stop offset="0.768" stop-color="#5a64b0"/><stop offset="0.915" stop-color="#2e3891"/><stop offset="1.000" stop-color="#262a6b"/></linearGradient></defs>
<rect x="638.10" y="36.00" width="6.00" height="84.60" fill="url(#hmg)"/>
<text x="646" y="40.9" font-size="6.00" fill="#333">1.5</text>
<text x="646" y="53.4" font-size="6.00" fill="#333">1</text>
<text x="646" y="65.8" font-size="6.00" fill="#333">0.5</text>
<text x="646" y="78.3" font-size="6.00" fill="#333">0</text>
<text x="646" y="90.7" font-size="6.00" fill="#333">−0.5</text>
<text x="646" y="103.2" font-size="6.00" fill="#333">−1</text>
<text x="646" y="115.6" font-size="6.00" fill="#333">−1.5</text>
<text x="638.2" y="133.3" font-size="6.30" fill="#111" font-weight="bold">group</text>
<rect x="638.50" y="134.50" width="8.00" height="8.00" fill="#3d86a6" stroke="#aaa" stroke-width="0.5"/>
<rect x="638.50" y="142.50" width="8.00" height="8.00" fill="#c9352d" stroke="#aaa" stroke-width="0.5"/>
<text transform="translate(650 140.8) scale(1 1.15)" font-size="5.40" fill="#333">Control</text>
<text transform="translate(650 149.2) scale(1 1.15)" font-size="5.40" fill="#333">Treatment</text>
<text x="638.2" y="161.3" font-size="6.30" fill="#111" font-weight="bold">cluster</text>
<rect x="638.50" y="162.50" width="8.00" height="8.00" fill="#f3e3a0" stroke="#aaa" stroke-width="0.5"/>
<text transform="translate(650 169) scale(1 1.15)" font-size="5.40" fill="#333">exhaustion</text>
<rect x="638.50" y="170.50" width="8.00" height="8.00" fill="#6cbf73" stroke="#aaa" stroke-width="0.5"/>
<text transform="translate(650 177) scale(1 1.15)" font-size="5.40" fill="#333">effector</text>
<rect x="638.50" y="178.50" width="8.00" height="8.00" fill="#9cc3e0" stroke="#aaa" stroke-width="0.5"/>
<text transform="translate(650 185) scale(1 1.15)" font-size="5.40" fill="#333">naive/memory</text>
<text transform="translate(-0.6 284.5) scale(1 1.0)" font-size="12.6" fill="#111">D</text>
<rect x="29.40" y="304.50" width="143.50" height="21.00" fill="#a9cdec"/>
<text transform="translate(35.5 319.8) scale(1 1.18)" font-size="11.27" fill="#222" font-weight="bold">Naive/Memory Signature</text>
<text transform="translate(34.2 337.5) scale(1 1.22)" font-size="8.00" fill="#2e2e2e">TCF1</text>
<text transform="translate(34.2 347.4) scale(1 1.22)" font-size="8.00" fill="#2e2e2e">LEF1</text>
<text transform="translate(34.2 357.3) scale(1 1.22)" font-size="8.00" fill="#2e2e2e">CCR7</text>
<text transform="translate(34.2 367.1) scale(1 1.22)" font-size="8.00" fill="#2e2e2e">SELL</text>
<text transform="translate(34.2 377) scale(1 1.22)" font-size="8.00" fill="#2e2e2e">MAL</text>
<text transform="translate(34.2 386.9) scale(1 1.22)" font-size="8.00" fill="#2e2e2e">IL7R</text>
<text transform="translate(34.2 396.7) scale(1 1.22)" font-size="8.00" fill="#2e2e2e">ZNF683</text>
<text transform="translate(34.2 406.6) scale(1 1.22)" font-size="8.00" fill="#2e2e2e">CD52</text>
<text transform="translate(34.2 416.5) scale(1 1.22)" font-size="8.00" fill="#2e2e2e">CXCR4</text>
<text transform="translate(34.2 426.3) scale(1 1.22)" font-size="8.00" fill="#2e2e2e">CXCR6</text>
<line x1="86.2" y1="330.7" x2="86.2" y2="437.7" stroke="#111" stroke-width="1.1" />
<line x1="86.2" y1="437.7" x2="145" y2="437.7" stroke="#111" stroke-width="1.1" />
<text x="81.7" y="336.8" font-size="3.00" fill="#777" text-anchor="end">0.75</text>
<text x="81.7" y="355.7" font-size="3.00" fill="#777" text-anchor="end">0.50</text>
<text x="81.7" y="375.4" font-size="3.00" fill="#777" text-anchor="end">0.25</text>
<text x="81.7" y="395.1" font-size="3.00" fill="#777" text-anchor="end">0.00</text>
<text x="81.7" y="414.8" font-size="3.00" fill="#777" text-anchor="end">−0.25</text>
<text x="81.7" y="434" font-size="3.00" fill="#777" text-anchor="end">−0.50</text>
<text x="73.3" y="377.7" font-size="8.00" fill="#333" text-anchor="middle" transform="rotate(-90 73.3 377.7)">GSVA Score</text>
<line x1="102.4" y1="423.7" x2="102.4" y2="432.1" stroke="#222" stroke-width="0.6" />
<rect x="95.10" y="427.10" width="14.70" height="5.00" fill="#35779f" stroke="#333" stroke-width="0.6"/>
<line x1="95.1" y1="429.5" x2="109.8" y2="429.5" stroke="#222" stroke-width="0.7" />
<circle cx="103.5" cy="424" r="1.65" fill="#111"/>
<circle cx="100" cy="431.5" r="1.65" fill="#111"/>
<circle cx="104" cy="432" r="1.65" fill="#111"/>
<line x1="128.8" y1="348" x2="128.8" y2="381.7" stroke="#222" stroke-width="0.6" />
<rect x="121.40" y="348.30" width="14.70" height="18.40" fill="#dc3027" stroke="#333" stroke-width="0.6"/>
<line x1="121.4" y1="349.5" x2="136.1" y2="349.5" stroke="#222" stroke-width="0.7" />
<circle cx="129" cy="349" r="1.65" fill="#111"/>
<circle cx="127.5" cy="350.5" r="1.65" fill="#111"/>
<circle cx="130.6" cy="381.7" r="1.65" fill="#111"/>
<line x1="101.2" y1="341.5" x2="129.5" y2="341.5" stroke="#888" stroke-width="1.2" />
<text x="115.3" y="337" font-size="5.00" fill="#333" text-anchor="middle">p = 0.021</text>
<line x1="102.4" y1="437.7" x2="102.4" y2="439.6" stroke="#222" stroke-width="0.8" />
<line x1="128.8" y1="437.7" x2="128.8" y2="439.6" stroke="#222" stroke-width="0.8" />
<text transform="translate(101.8 446.4) scale(1 1.12)" font-size="6.20" fill="#333" text-anchor="middle">Control</text>
<text transform="translate(129.8 446.4) scale(1 1.12)" font-size="6.20" fill="#333" text-anchor="middle">Treatment</text>
<text x="145.3" y="378.2" font-size="3.70" fill="#444">Group</text>
<rect x="145.80" y="382.00" width="5.20" height="3.80" fill="#35779f" stroke="#222" stroke-width="0.4"/>
<line x1="148.4" y1="381.3" x2="148.4" y2="386.5" stroke="#111" stroke-width="0.4" />
<circle cx="148.4" cy="383.9" r="0.90" fill="#111"/>
<text x="153.2" y="385.1" font-size="3.30" fill="#555">Control</text>
<rect x="145.80" y="388.50" width="5.20" height="3.80" fill="#dc3027" stroke="#222" stroke-width="0.4"/>
<line x1="148.4" y1="387.8" x2="148.4" y2="393" stroke="#111" stroke-width="0.4" />
<circle cx="148.4" cy="390.4" r="0.90" fill="#111"/>
<text x="153.2" y="391.6" font-size="3.30" fill="#555">Treatment</text>
<rect x="191.80" y="304.50" width="143.20" height="21.00" fill="#6fc27c"/>
<text transform="translate(216 319.8) scale(1 1.18)" font-size="11.21" fill="#222" font-weight="bold">Effector Signature</text>
<text transform="translate(195.7 335.7) scale(1 1.22)" font-size="8.00" fill="#2e2e2e">CST7</text>
<text transform="translate(195.7 345.6) scale(1 1.22)" font-size="8.00" fill="#2e2e2e">GZMK</text>
<text transform="translate(195.7 355.5) scale(1 1.22)" font-size="8.00" fill="#2e2e2e">GZMA</text>
<text transform="translate(195.7 365.4) scale(1 1.22)" font-size="8.00" fill="#2e2e2e">NKG7</text>
<text transform="translate(195.7 375.3) scale(1 1.22)" font-size="8.00" fill="#2e2e2e">PRF1</text>
<text transform="translate(195.7 385.2) scale(1 1.22)" font-size="8.00" fill="#2e2e2e">GZMB</text>
<text transform="translate(195.7 395.1) scale(1 1.22)" font-size="8.00" fill="#2e2e2e">GNLY</text>
<text transform="translate(195.7 405) scale(1 1.22)" font-size="8.00" fill="#2e2e2e">CD28</text>
<text transform="translate(195.7 414.9) scale(1 1.22)" font-size="8.00" fill="#2e2e2e">EOMES</text>
<text transform="translate(195.7 424.8) scale(1 1.22)" font-size="8.00" fill="#2e2e2e">CCR5</text>
<text transform="translate(195.7 434.7) scale(1 1.22)" font-size="8.00" fill="#2e2e2e">CCL5</text>
<text transform="translate(195.7 444.6) scale(1 1.22)" font-size="8.00" fill="#2e2e2e">IFNG</text>
<line x1="247.5" y1="330.7" x2="247.5" y2="437.7" stroke="#111" stroke-width="1.1" />
<line x1="247.5" y1="437.7" x2="306.1" y2="437.7" stroke="#111" stroke-width="1.1" />
<text x="243" y="339.2" font-size="3.00" fill="#777" text-anchor="end">0.50</text>
<text x="243" y="362.6" font-size="3.00" fill="#777" text-anchor="end">0.25</text>
<text x="243" y="386.5" font-size="3.00" fill="#777" text-anchor="end">0.00</text>
<text x="243" y="410.1" font-size="3.00" fill="#777" text-anchor="end">−0.25</text>
<text x="243" y="434.3" font-size="3.00" fill="#777" text-anchor="end">−0.50</text>
<text x="234.6" y="374" font-size="8.00" fill="#333" text-anchor="middle" transform="rotate(-90 234.6 374)">GSVA Score</text>
<line x1="263.6" y1="364.1" x2="263.6" y2="432.7" stroke="#222" stroke-width="0.6" />
<rect x="256.70" y="369.30" width="13.90" height="34.50" fill="#3a7ea6" stroke="#333" stroke-width="0.6"/>
<line x1="256.7" y1="375.4" x2="270.6" y2="375.4" stroke="#222" stroke-width="0.7" />
<circle cx="264" cy="364.1" r="1.65" fill="#111"/>
<circle cx="264" cy="375.4" r="1.65" fill="#111"/>
<circle cx="265" cy="432.7" r="1.65" fill="#111"/>
<line x1="290.4" y1="349.9" x2="290.4" y2="431.4" stroke="#222" stroke-width="0.6" />
<rect x="283.50" y="357.50" width="13.90" height="40.70" fill="#c9382d" stroke="#333" stroke-width="0.6"/>
<line x1="283.5" y1="365.4" x2="297.4" y2="365.4" stroke="#222" stroke-width="0.7" />
<circle cx="290" cy="349.9" r="1.65" fill="#111"/>
<circle cx="290.5" cy="365.4" r="1.65" fill="#111"/>
<circle cx="292" cy="431.4" r="1.65" fill="#111"/>
<line x1="263.3" y1="339.9" x2="290.9" y2="339.9" stroke="#888" stroke-width="1.2" />
<text x="277.1" y="335.4" font-size="5.00" fill="#333" text-anchor="middle">p = 0.815</text>
<line x1="263.6" y1="437.7" x2="263.6" y2="439.6" stroke="#222" stroke-width="0.8" />
<line x1="290.4" y1="437.7" x2="290.4" y2="439.6" stroke="#222" stroke-width="0.8" />
<text transform="translate(263 446.4) scale(1 1.12)" font-size="6.20" fill="#333" text-anchor="middle">Control</text>
<text transform="translate(291.4 446.4) scale(1 1.12)" font-size="6.20" fill="#333" text-anchor="middle">Treatment</text>
<text x="307.2" y="378.2" font-size="3.70" fill="#444">Group</text>
<rect x="307.70" y="382.00" width="5.20" height="3.80" fill="#3a7ea6" stroke="#222" stroke-width="0.4"/>
<line x1="310.3" y1="381.3" x2="310.3" y2="386.5" stroke="#111" stroke-width="0.4" />
<circle cx="310.3" cy="383.9" r="0.90" fill="#111"/>
<text x="315.1" y="385.1" font-size="3.30" fill="#555">Control</text>
<rect x="307.70" y="388.50" width="5.20" height="3.80" fill="#c9382d" stroke="#222" stroke-width="0.4"/>
<line x1="310.3" y1="387.8" x2="310.3" y2="393" stroke="#111" stroke-width="0.4" />
<circle cx="310.3" cy="390.4" r="0.90" fill="#111"/>
<text x="315.1" y="391.6" font-size="3.30" fill="#555">Treatment</text>
<rect x="353.90" y="304.50" width="143.20" height="21.00" fill="#f3e6a8"/>
<text transform="translate(364.4 319.8) scale(1 1.18)" font-size="11.35" fill="#222" font-weight="bold">Exhaustion Signature</text>
<text transform="translate(357.9 337.8) scale(1 1.22)" font-size="8.00" fill="#2e2e2e">PDCD1</text>
<text transform="translate(357.9 347.7) scale(1 1.22)" font-size="8.00" fill="#2e2e2e">CXCL13</text>
<text transform="translate(357.9 357.5) scale(1 1.22)" font-size="8.00" fill="#2e2e2e">LAG3</text>
<text transform="translate(357.9 367.4) scale(1 1.22)" font-size="8.00" fill="#2e2e2e">TIGIT</text>
<text transform="translate(357.9 377.2) scale(1 1.22)" font-size="8.00" fill="#2e2e2e">TOX</text>
<text transform="translate(357.9 387.1) scale(1 1.22)" font-size="8.00" fill="#2e2e2e">TOX2</text>
<text transform="translate(357.9 396.9) scale(1 1.22)" font-size="8.00" fill="#2e2e2e">CTLA4</text>
<text transform="translate(357.9 406.8) scale(1 1.22)" font-size="8.00" fill="#2e2e2e">CD244</text>
<text transform="translate(357.9 416.6) scale(1 1.22)" font-size="8.00" fill="#2e2e2e">HAVCR2</text>
<text transform="translate(357.9 426.5) scale(1 1.22)" font-size="8.00" fill="#2e2e2e">TNFRSF9</text>
<text transform="translate(357.9 436.3) scale(1 1.22)" font-size="8.00" fill="#2e2e2e">ENTPD1</text>
<line x1="410.4" y1="330.7" x2="410.4" y2="437.7" stroke="#111" stroke-width="1.1" />
<line x1="410.4" y1="437.7" x2="468.7" y2="437.7" stroke="#111" stroke-width="1.1" />
<text x="405.9" y="351.5" font-size="3.00" fill="#777" text-anchor="end">0.50</text>
<text x="405.9" y="373.9" font-size="3.00" fill="#777" text-anchor="end">0.25</text>
<text x="405.9" y="396.2" font-size="3.00" fill="#777" text-anchor="end">0.00</text>
<text x="405.9" y="419.1" font-size="3.00" fill="#777" text-anchor="end">−0.25</text>
<line x1="426.5" y1="348.3" x2="426.5" y2="367.5" stroke="#222" stroke-width="0.6" />
<rect x="419.60" y="357.00" width="13.70" height="10.50" fill="#3b8ec0" stroke="#333" stroke-width="0.6"/>
<circle cx="424.3" cy="348.3" r="1.65" fill="#111"/>
<circle cx="424.3" cy="365.2" r="1.65" fill="#111"/>
<circle cx="426.2" cy="367.8" r="1.65" fill="#111"/>
<line x1="453.4" y1="400.4" x2="453.4" y2="432.7" stroke="#222" stroke-width="0.6" />
<rect x="446.40" y="416.10" width="13.90" height="16.60" fill="#dd2f2a" stroke="#333" stroke-width="0.6"/>
<circle cx="451.7" cy="400.4" r="1.65" fill="#111"/>
<circle cx="455.6" cy="432.7" r="1.65" fill="#111"/>
<line x1="426.7" y1="341.8" x2="454.8" y2="341.8" stroke="#888" stroke-width="1.2" />
<text x="440.8" y="337.3" font-size="5.00" fill="#333" text-anchor="middle">p = 0.014</text>
<line x1="426.5" y1="437.7" x2="426.5" y2="439.6" stroke="#222" stroke-width="0.8" />
<line x1="453.4" y1="437.7" x2="453.4" y2="439.6" stroke="#222" stroke-width="0.8" />
<text transform="translate(425.9 446.4) scale(1 1.12)" font-size="6.20" fill="#333" text-anchor="middle">Control</text>
<text transform="translate(454.4 446.4) scale(1 1.12)" font-size="6.20" fill="#333" text-anchor="middle">Treatment</text>
<text x="470" y="378.2" font-size="3.70" fill="#444">Group</text>
<rect x="470.50" y="382.00" width="5.20" height="3.80" fill="#3b8ec0" stroke="#222" stroke-width="0.4"/>
<line x1="473.1" y1="381.3" x2="473.1" y2="386.5" stroke="#111" stroke-width="0.4" />
<circle cx="473.1" cy="383.9" r="0.90" fill="#111"/>
<text x="477.9" y="385.1" font-size="3.30" fill="#555">Control</text>
<rect x="470.50" y="388.50" width="5.20" height="3.80" fill="#dd2f2a" stroke="#222" stroke-width="0.4"/>
<line x1="473.1" y1="387.8" x2="473.1" y2="393" stroke="#111" stroke-width="0.4" />
<circle cx="473.1" cy="390.4" r="0.90" fill="#111"/>
<text x="477.9" y="391.6" font-size="3.30" fill="#555">Treatment</text>
<rect x="516.00" y="304.50" width="143.50" height="21.00" fill="#c69bd1"/>
<text transform="translate(519.5 319.8) scale(1 1.18)" font-size="11.27" fill="#222" font-weight="bold">Co-stimulation Signature</text>
<text transform="translate(520 337) scale(1 1.22)" font-size="8.00" fill="#2e2e2e">CD27</text>
<text transform="translate(520 346.9) scale(1 1.22)" font-size="8.00" fill="#2e2e2e">CD28</text>
<text transform="translate(520 356.7) scale(1 1.22)" font-size="8.00" fill="#2e2e2e">ICOS</text>
<text transform="translate(520 366.6) scale(1 1.22)" font-size="8.00" fill="#2e2e2e">LTA</text>
<text transform="translate(520 376.5) scale(1 1.22)" font-size="8.00" fill="#2e2e2e">LTB</text>
<text transform="translate(520 386.3) scale(1 1.22)" font-size="8.00" fill="#2e2e2e">CD40LG</text>
<text transform="translate(520 396.2) scale(1 1.22)" font-size="8.00" fill="#2e2e2e">TRAF1</text>
<text transform="translate(520 406) scale(1 1.22)" font-size="8.00" fill="#2e2e2e">TRAF2</text>
<text transform="translate(520 415.9) scale(1 1.22)" font-size="8.00" fill="#2e2e2e">TRAF5</text>
<text transform="translate(520 425.8) scale(1 1.22)" font-size="8.00" fill="#2e2e2e">TNFRSF4</text>
<text transform="translate(520 435.6) scale(1 1.22)" font-size="8.00" fill="#2e2e2e">TNFRSF14</text>
<text transform="translate(520 445.5) scale(1 1.22)" font-size="8.00" fill="#2e2e2e">TNFRSF25</text>
<line x1="575.9" y1="330.7" x2="575.9" y2="437.7" stroke="#111" stroke-width="1.1" />
<line x1="575.9" y1="437.7" x2="636.4" y2="437.7" stroke="#111" stroke-width="1.1" />
<text x="571.4" y="335.8" font-size="3.00" fill="#777" text-anchor="end">0.6</text>
<text x="571.4" y="361.5" font-size="3.00" fill="#777" text-anchor="end">0.3</text>
<text x="571.4" y="388.3" font-size="3.00" fill="#777" text-anchor="end">0.0</text>
<text x="571.4" y="414.1" font-size="3.00" fill="#777" text-anchor="end">−0.3</text>
<text x="563.9" y="383.3" font-size="8.00" fill="#333" text-anchor="middle" transform="rotate(-90 563.9 383.3)">GSVA Score</text>
<line x1="592.1" y1="387.7" x2="592.1" y2="431.9" stroke="#222" stroke-width="0.6" />
<rect x="585.10" y="400.40" width="14.00" height="22.30" fill="#3c84b0" stroke="#333" stroke-width="0.6"/>
<line x1="585.1" y1="412.2" x2="599.1" y2="412.2" stroke="#222" stroke-width="0.7" />
<circle cx="594.6" cy="387.7" r="1.65" fill="#111"/>
<circle cx="590.4" cy="412.2" r="1.65" fill="#111"/>
<circle cx="590.4" cy="431.9" r="1.65" fill="#111"/>
<line x1="620.2" y1="348.3" x2="620.2" y2="368.3" stroke="#222" stroke-width="0.6" />
<rect x="613.20" y="357.50" width="14.00" height="10.80" fill="#d5332d" stroke="#333" stroke-width="0.6"/>
<line x1="613.2" y1="367.5" x2="627.2" y2="367.5" stroke="#222" stroke-width="0.7" />
<circle cx="620.6" cy="348.3" r="1.65" fill="#111"/>
<circle cx="617.5" cy="368" r="1.65" fill="#111"/>
<circle cx="621.9" cy="367" r="1.65" fill="#111"/>
<line x1="592.2" y1="339.1" x2="620.6" y2="339.1" stroke="#888" stroke-width="1.2" />
<text x="606.4" y="334.6" font-size="5.00" fill="#333" text-anchor="middle">p = 0.042</text>
<line x1="592.1" y1="437.7" x2="592.1" y2="439.6" stroke="#222" stroke-width="0.8" />
<line x1="620.2" y1="437.7" x2="620.2" y2="439.6" stroke="#222" stroke-width="0.8" />
<text transform="translate(591.5 446.4) scale(1 1.12)" font-size="6.20" fill="#333" text-anchor="middle">Control</text>
<text transform="translate(621.2 446.4) scale(1 1.12)" font-size="6.20" fill="#333" text-anchor="middle">Treatment</text>
<text x="637.7" y="378.2" font-size="3.70" fill="#444">Group</text>
<rect x="638.20" y="382.00" width="5.20" height="3.80" fill="#3c84b0" stroke="#222" stroke-width="0.4"/>
<line x1="640.8" y1="381.3" x2="640.8" y2="386.5" stroke="#111" stroke-width="0.4" />
<circle cx="640.8" cy="383.9" r="0.90" fill="#111"/>
<text x="645.6" y="385.1" font-size="3.30" fill="#555">Group1</text>
<rect x="638.20" y="388.50" width="5.20" height="3.80" fill="#d5332d" stroke="#222" stroke-width="0.4"/>
<line x1="640.8" y1="387.8" x2="640.8" y2="393" stroke="#111" stroke-width="0.4" />
<circle cx="640.8" cy="390.4" r="0.90" fill="#111"/>
<text x="645.6" y="391.6" font-size="3.30" fill="#555">Group2</text>
<text transform="translate(-0.2 492.8) scale(1 1.15)" font-size="12.5" fill="#111">E</text>
<text x="44.4" y="505.4" font-size="8.83" fill="#111">Exhausted CD8 T Cell</text>
<line x1="42.5" y1="525.4" x2="195.5" y2="525.4" stroke="#111" stroke-width="1.5" stroke-dasharray="10,10.5"/>
<polyline points="42.6,526 43.5,527.9 44.5,527.8 45.4,528.3 46.5,527.5 47.5,525 49.3,524.9 50.2,520 52,511.4 53,512.5 54,513.7 54.9,514.5 55.9,515.4 56.8,517 57.7,516.9 58.8,516.4 59.9,515.4 60.9,515.8 62,514.9 63.1,516 64.2,516.7 65.3,517.4 66.4,519.3 67.6,518.5 68.8,518.9 70,518.7 71.1,519.3 72.3,518.7 73.4,519.1 74.3,519.7 75.3,519.3 76.2,519.8 77.2,520 78.1,520.4 79.1,521.8 80,521.5 81,520.4 81.9,519.7 82.8,520.2 83.8,520.6 84.8,521.4 85.7,522.6 86.6,524.5 87.6,524.9 88.6,525.4 89.6,525 90.5,525.8 91.5,527.1 92.5,528.2 93.5,526.5 94.4,527.6 95.4,529 96.4,529.6 97.3,528.7 98.3,529.1 99.2,530.2 100.1,531.2 101,531.1 102,531.2 102.9,532.9 103.8,532.5 104.7,534.6 105.7,535.2 106.6,536.1 107.5,535.7 108.5,536.1 109.4,537.6 110.3,537.2 111.2,539.9 112.2,539.4 113.1,539.3 114,540.4 114.9,541.8 115.9,543.1 116.8,543.5 117.7,544 118.6,544.5 119.5,544.7 120.5,543.5 121.4,545.5 122.3,546.5 123.2,547.4 124.1,547.6 125,548.6 125.9,549.3 126.8,549.9 127.8,551.4 128.7,550.6 129.6,551.6 130.5,551.5 131.4,552.1 132.3,554.1 133.2,553.8 134.1,554.4 135.1,554.7 136,556.2 136.9,556 137.8,555.5 138.7,556.9 139.6,557.5 140.5,558.1 141.4,559.8 142.3,559.6 143.3,560.1 144.2,561 145.1,562 146,562.2 146.9,563.5 147.8,565.6 148.7,565.2 149.7,566.8 150.6,565 151.5,566.5 152.4,566.4 153.3,566.8 154.2,566.9 155.1,566.8 156,566.4 156.9,566.8 157.9,568.6 158.8,569.9 159.7,569.9 160.6,569.8 161.5,569.7 162.4,569.3 163.3,571.3 164.2,572.1 165.2,572.4 166.1,572.2 167,571.7 167.9,573.3 168.8,574.1 169.7,573.5 170.6,574.6 171.5,574 172.5,574.9 173.4,574.4 174.3,574.6 175.2,575.5 176.2,576.9 177.1,578.6 178.1,578.7 179.1,577.2 180,575.2 181,572.1 182,569.4 182.9,565.8 183.9,562.9 185,560.3 186.1,559.2 187.2,558 188.3,557.6 189.3,554.2 190.2,550.6 191.2,546 192.7,542.7 193.8,538.7 195,534.9" fill="none" stroke="#b8342d" stroke-width="1.6" stroke-linejoin="round" />
<rect x="48.70" y="565.70" width="61.70" height="11.10" fill="#fff"/>
<rect x="49.20" y="566.20" width="10.02" height="5.00" fill="#c9c9c9"/>
<text x="54.2" y="569.9" font-size="3.30" fill="#222" text-anchor="middle" font-weight="bold">NES</text>
<rect x="61.34" y="566.20" width="13.96" height="5.00" fill="#c9c9c9"/>
<text x="68.3" y="569.9" font-size="3.30" fill="#222" text-anchor="middle" font-weight="bold">Pvalue</text>
<rect x="77.12" y="566.20" width="32.78" height="5.00" fill="#c9c9c9"/>
<text x="93.5" y="569.9" font-size="3.30" fill="#222" text-anchor="middle" font-weight="bold">Adjusted Pvalue</text>
<rect x="49.20" y="572.10" width="10.02" height="4.60" fill="#e9e9e9"/>
<text x="54.2" y="575.6" font-size="3.40" fill="#c0392b" text-anchor="middle" font-weight="bold">−1.42</text>
<rect x="61.34" y="572.10" width="13.96" height="4.60" fill="#e9e9e9"/>
<text x="68.3" y="575.6" font-size="3.40" fill="#c0392b" text-anchor="middle" font-weight="bold">0.01</text>
<rect x="77.12" y="572.10" width="32.78" height="4.60" fill="#e9e9e9"/>
<text x="93.5" y="575.6" font-size="3.40" fill="#c0392b" text-anchor="middle" font-weight="bold">0.3</text>
<rect x="42.50" y="508.50" width="153.00" height="74.00" fill="none" stroke="#1e1e1e" stroke-width="1.0"/>
<line x1="41" y1="508.6" x2="42.5" y2="508.6" stroke="#444" stroke-width="0.5" />
<text x="41.1" y="509.9" font-size="3.60" fill="#444" text-anchor="end">0.1</text>
<line x1="41" y1="523.5" x2="42.5" y2="523.5" stroke="#444" stroke-width="0.5" />
<text x="41.1" y="524.8" font-size="3.60" fill="#444" text-anchor="end">0.0</text>
<line x1="41" y1="538.1" x2="42.5" y2="538.1" stroke="#444" stroke-width="0.5" />
<text x="41.1" y="539.4" font-size="3.60" fill="#444" text-anchor="end">−0.1</text>
<line x1="41" y1="552.6" x2="42.5" y2="552.6" stroke="#444" stroke-width="0.5" />
<text x="41.1" y="553.9" font-size="3.60" fill="#444" text-anchor="end">−0.2</text>
<line x1="41" y1="567.5" x2="42.5" y2="567.5" stroke="#444" stroke-width="0.5" />
<text x="41.1" y="568.8" font-size="3.60" fill="#444" text-anchor="end">−0.3</text>
<text x="31.7" y="545.5" font-size="4.10" fill="#333" text-anchor="middle" transform="rotate(-90 31.7 545.5)">Running Enrichment Score</text>
<rect x="42.50" y="584.50" width="153.00" height="16.00" fill="#fff"/>
<defs><linearGradient id="pg5845_42" x1="0" x2="1"><stop offset="0" stop-color="#f6d2cf"/><stop offset="0.99" stop-color="#f8e6e4"/><stop offset="1" stop-color="#f5f5f5"/><stop offset="1" stop-color="#f2f2f5"/></linearGradient></defs>
<rect x="43.00" y="595.50" width="152.00" height="4.00" fill="url(#pg5845_42)"/>
<path d="M44.27 585h1.97v10.5h-1.97zM46.61 585h1.97v10.5h-1.97zM74.64 585h4.30v10.5h-4.30zM102.67 585h2.55v10.5h-2.55zM118.77 585h2.55v10.5h-2.55zM131.61 585h3.72v10.5h-3.72zM140.96 585h1.97v10.5h-1.97zM157.31 585h2.55v10.5h-2.55zM174.24 585h2.55v10.5h-2.55zM192.34 585h1.97v10.5h-1.97z" fill="#b8342d" fill-opacity="0.5"/>
<path d="M44.27 595.5h1.97v4h-1.97zM46.61 595.5h1.97v4h-1.97zM74.64 595.5h4.30v4h-4.30zM102.67 595.5h2.55v4h-2.55zM118.77 595.5h2.55v4h-2.55zM131.61 595.5h3.72v4h-3.72zM140.96 595.5h1.97v4h-1.97zM157.31 595.5h2.55v4h-2.55zM174.24 595.5h2.55v4h-2.55zM192.34 595.5h1.97v4h-1.97z" fill="#b8342d" fill-opacity="0.15"/>
<path d="M147.38 585h4.89v10.5h-4.89z" fill="#b8342d" fill-opacity="0.7"/>
<path d="M147.38 595.5h4.89v4h-4.89z" fill="#b8342d" fill-opacity="0.21"/>
<path d="M65.29 585h1.97v10.5h-1.97zM83.40 585h1.97v10.5h-1.97zM90.99 585h1.97v10.5h-1.97zM92.74 585h4.30v10.5h-4.30zM98.58 585h1.97v10.5h-1.97zM105.00 585h4.30v10.5h-4.30zM114.93 585h2.55v10.5h-2.55zM123.44 585h3.72v10.5h-3.72zM160.23 585h3.14v10.5h-3.14zM167.82 585h2.55v10.5h-2.55zM184.75 585h2.55v10.5h-2.55zM187.67 585h4.30v10.5h-4.30z" fill="#b8342d" fill-opacity="0.8"/>
<path d="M65.29 595.5h1.97v4h-1.97zM83.40 595.5h1.97v4h-1.97zM90.99 595.5h1.97v4h-1.97zM92.74 595.5h4.30v4h-4.30zM98.58 595.5h1.97v4h-1.97zM105.00 595.5h4.30v4h-4.30zM114.93 595.5h2.55v4h-2.55zM123.44 595.5h3.72v4h-3.72zM160.23 595.5h3.14v4h-3.14zM167.82 595.5h2.55v4h-2.55zM184.75 595.5h2.55v4h-2.55zM187.67 595.5h4.30v4h-4.30z" fill="#b8342d" fill-opacity="0.24"/>
<path d="M135.12 585h5.47v10.5h-5.47z" fill="#b8342d" fill-opacity="0.9"/>
<path d="M135.12 595.5h5.47v4h-5.47z" fill="#b8342d" fill-opacity="0.27"/>
<path d="M49.53 585h3.14v10.5h-3.14zM56.53 585h2.55v10.5h-2.55zM60.62 585h2.55v10.5h-2.55zM67.63 585h2.55v10.5h-2.55zM70.55 585h2.55v10.5h-2.55zM80.48 585h2.55v10.5h-2.55zM86.32 585h3.72v10.5h-3.72zM110.84 585h3.14v10.5h-3.14zM128.11 585h3.72v10.5h-3.72zM143.88 585h1.97v10.5h-1.97zM154.39 585h1.97v10.5h-1.97zM163.73 585h2.55v10.5h-2.55zM171.32 585h2.55v10.5h-2.55zM177.75 585h6.64v10.5h-6.64z" fill="#b8342d" fill-opacity="1"/>
<path d="M49.53 595.5h3.14v4h-3.14zM56.53 595.5h2.55v4h-2.55zM60.62 595.5h2.55v4h-2.55zM67.63 595.5h2.55v4h-2.55zM70.55 595.5h2.55v4h-2.55zM80.48 595.5h2.55v4h-2.55zM86.32 595.5h3.72v4h-3.72zM110.84 595.5h3.14v4h-3.14zM128.11 595.5h3.72v4h-3.72zM143.88 595.5h1.97v4h-1.97zM154.39 595.5h1.97v4h-1.97zM163.73 595.5h2.55v4h-2.55zM171.32 595.5h2.55v4h-2.55zM177.75 595.5h6.64v4h-6.64z" fill="#b8342d" fill-opacity="0.30"/>
<rect x="42.50" y="584.50" width="153.00" height="16.00" fill="none" stroke="#262626" stroke-width="1.0"/>
<path d="M43.0,619.2 L43.0,616.2 C46.5,617.7 52.5,618.6 72.5,619.0 L165.5,619.4000000000001 C185.5,619.8000000000001 191.5,620.7 195.0,622.2 L195.0,619.2 Z" fill="#c8c8c8"/>
<line x1="42.5" y1="619.2" x2="195.5" y2="619.2" stroke="#111" stroke-width="1.2" stroke-dasharray="4.7,2.8"/>
<rect x="42.50" y="602.50" width="153.00" height="33.00" fill="none" stroke="#1e1e1e" stroke-width="1.0"/>
<line x1="41" y1="602.5" x2="42.5" y2="602.5" stroke="#444" stroke-width="0.5" />
<text x="41.1" y="603.8" font-size="3.60" fill="#444" text-anchor="end">5.0</text>
<line x1="41" y1="610.4" x2="42.5" y2="610.4" stroke="#444" stroke-width="0.5" />
<text x="41.1" y="611.7" font-size="3.60" fill="#444" text-anchor="end">2.5</text>
<line x1="41" y1="619.2" x2="42.5" y2="619.2" stroke="#444" stroke-width="0.5" />
<text x="41.1" y="620.5" font-size="3.60" fill="#444" text-anchor="end">0.0</text>
<line x1="41" y1="627" x2="42.5" y2="627" stroke="#444" stroke-width="0.5" />
<text x="41.1" y="628.3" font-size="3.60" fill="#444" text-anchor="end">−2.5</text>
<text x="31.7" y="619" font-size="4.10" fill="#333" text-anchor="middle" transform="rotate(-90 31.7 619)">Ranked List</text>
<text x="45.8" y="611.4" font-size="6.80" fill="#222">Treatment</text>
<text x="191.2" y="611.4" font-size="6.80" fill="#222" text-anchor="end">Control</text>
<line x1="93.4" y1="635.5" x2="93.4" y2="637" stroke="#444" stroke-width="0.5" />
<text x="93.4" y="641.3" font-size="4.20" fill="#444" text-anchor="middle">5000</text>
<line x1="145.1" y1="635.5" x2="145.1" y2="637" stroke="#444" stroke-width="0.5" />
<text x="145.1" y="641.3" font-size="4.20" fill="#444" text-anchor="middle">10000</text>
<text x="119.3" y="646.1" font-size="4.20" fill="#333" text-anchor="middle">Rank in Ordered Dataset</text>
<text x="234.5" y="505.2" font-size="8.81" fill="#111">Naive CD8 T Cell</text>
<line x1="232.5" y1="575.7" x2="384.5" y2="575.7" stroke="#111" stroke-width="1.5" stroke-dasharray="10,10.5"/>
<polyline points="231.5,575.5 232.5,575 233.5,577.1 234.5,577.1 235.5,573.5 236.5,570.3 238,558.5 239,555.6 239.9,551.1 240.9,547.8 241.9,547.7 243,546.1 244,544.7 245.1,543.9 246.1,541.8 247.2,540.1 248.2,538 249.1,536.6 250.1,534.8 251,533.4 252,531.2 253,529.2 254,525.9 255.1,524.6 256.2,523.8 257.3,522.1 258.4,519.9 259.5,519.4 260.6,517.1 261.7,516.4 262.8,514.1 263.9,516.3 265,515.9 266.1,517.3 267.2,519 268.3,516.4 269.4,515.9 270.4,513.5 271.5,510.5 272.5,511.3 273.5,511.9 274.4,511.7 275.4,509.7 276.4,510.1 277.4,510.2 278.3,510.1 279.3,510 280.2,508.7 281.1,508.7 282.1,510.5 283,511.5 284,511.2 285,510.7 286,511.2 287,512.1 288,512.6 289,511.6 289.9,512.3 290.9,513.1 291.8,514.8 292.7,516 293.7,516.6 294.6,517.8 295.6,517.6 296.5,519.1 297.4,518.8 298.4,519.5 299.3,520.5 300.2,520.4 301.1,520.7 302,520.4 302.9,521.9 303.9,523.1 304.8,524 305.7,525.6 306.6,525.1 307.5,526.5 308.4,527.9 309.3,528.9 310.2,530.8 311.2,533.2 312.1,533.5 313,533.6 313.9,534.2 314.8,535.2 315.7,536.5 316.6,536.5 317.5,538.1 318.5,538 319.4,539.5 320.3,540.5 321.2,541.4 322.1,543.6 323,543.6 323.9,543.8 324.9,544.7 325.8,545.8 326.7,545.1 327.6,546 328.5,546.1 329.4,547.3 330.3,548.8 331.2,549.1 332.1,549.3 333,549.9 333.9,548 334.8,549.6 335.8,550.8 336.7,551.5 337.6,551.7 338.5,551.8 339.4,552.4 340.3,554 341.2,554.4 342.1,555.9 343,554.2 343.9,554.5 344.8,555.4 345.8,555.9 346.7,555.1 347.6,555.4 348.5,557.1 349.4,556.6 350.4,556.5 351.3,556.4 352.2,556.9 353.1,558.3 354,559.3 354.9,558.2 355.9,560.2 356.8,560.1 357.7,560.2 358.7,562.2 359.6,562.5 360.6,561.9 361.6,562.1 362.5,562.3 363.5,562.3 364.5,563 365.4,564.5 366.4,565.4 367.4,564.9 368.3,567.8 369.3,567.2 370.3,567.4 371.3,567.5 372.2,568.2 373.2,567.9 374.2,568.4 375.2,570 376.1,569.7 377.1,568.6 378.1,568.9 379.1,569.2 380.1,569.9 381.1,571.2 382,572.4 383,573.2 384,574.3" fill="none" stroke="#2f9a80" stroke-width="1.6" stroke-linejoin="round" />
<rect x="247.70" y="559.20" width="61.40" height="11.30" fill="#fff"/>
<rect x="248.20" y="559.70" width="9.97" height="4.80" fill="#c9c9c9"/>
<text x="253.2" y="563.3" font-size="3.30" fill="#222" text-anchor="middle" font-weight="bold">NES</text>
<rect x="260.28" y="559.70" width="13.89" height="4.80" fill="#c9c9c9"/>
<text x="267.2" y="563.3" font-size="3.30" fill="#222" text-anchor="middle" font-weight="bold">Pvalue</text>
<rect x="275.98" y="559.70" width="32.62" height="4.80" fill="#c9c9c9"/>
<text x="292.3" y="563.3" font-size="3.30" fill="#222" text-anchor="middle" font-weight="bold">Adjusted Pvalue</text>
<rect x="248.20" y="565.40" width="9.97" height="5.00" fill="#e9e9e9"/>
<text x="253.2" y="569.1" font-size="3.40" fill="#2f9a80" text-anchor="middle" font-weight="bold">1.46</text>
<rect x="260.28" y="565.40" width="13.89" height="5.00" fill="#e9e9e9"/>
<text x="267.2" y="569.1" font-size="3.40" fill="#2f9a80" text-anchor="middle" font-weight="bold">0.01</text>
<rect x="275.98" y="565.40" width="32.62" height="5.00" fill="#e9e9e9"/>
<text x="292.3" y="569.1" font-size="3.40" fill="#2f9a80" text-anchor="middle" font-weight="bold">0.21</text>
<rect x="232.50" y="508.50" width="152.00" height="74.00" fill="none" stroke="#1e1e1e" stroke-width="1.0"/>
<line x1="231" y1="522.6" x2="232.5" y2="522.6" stroke="#444" stroke-width="0.5" />
<text x="231.1" y="523.9" font-size="3.60" fill="#444" text-anchor="end">0.3</text>
<line x1="231" y1="540.1" x2="232.5" y2="540.1" stroke="#444" stroke-width="0.5" />
<text x="231.1" y="541.4" font-size="3.60" fill="#444" text-anchor="end">0.2</text>
<line x1="231" y1="557.6" x2="232.5" y2="557.6" stroke="#444" stroke-width="0.5" />
<text x="231.1" y="558.9" font-size="3.60" fill="#444" text-anchor="end">0.1</text>
<line x1="231" y1="575.1" x2="232.5" y2="575.1" stroke="#444" stroke-width="0.5" />
<text x="231.1" y="576.4" font-size="3.60" fill="#444" text-anchor="end">0.0</text>
<text x="221.7" y="545.5" font-size="4.10" fill="#333" text-anchor="middle" transform="rotate(-90 221.7 545.5)">Running Enrichment Score</text>
<rect x="232.50" y="584.50" width="152.00" height="16.00" fill="#fff"/>
<defs><linearGradient id="pg5845_232" x1="0" x2="1"><stop offset="0" stop-color="#f6d2cf"/><stop offset="0.22" stop-color="#f8e6e4"/><stop offset="0.24" stop-color="#f5f5f5"/><stop offset="1" stop-color="#f2f2f5"/></linearGradient></defs>
<rect x="233.00" y="595.50" width="151.00" height="4.00" fill="url(#pg5845_232)"/>
<path d="M350.33 585h2.94v10.5h-2.94zM361.19 585h2.59v10.5h-2.59zM372.52 585h2.94v10.5h-2.94z" fill="#2f9a80" fill-opacity="0.4"/>
<path d="M350.33 595.5h2.94v4h-2.94zM361.19 595.5h2.59v4h-2.59zM372.52 595.5h2.94v4h-2.94z" fill="#2f9a80" fill-opacity="0.12"/>
<path d="M243.13 585h1.42v10.5h-1.42zM289.85 585h4.10v10.5h-4.10zM365.51 585h4.69v10.5h-4.69z" fill="#2f9a80" fill-opacity="0.6"/>
<path d="M243.13 595.5h1.42v4h-1.42zM289.85 595.5h4.10v4h-4.10zM365.51 595.5h4.69v4h-4.69z" fill="#2f9a80" fill-opacity="0.18"/>
<path d="M236.12 585h1.42v10.5h-1.42zM244.65 585h2.00v10.5h-2.00zM246.05 585h3.52v10.5h-3.52zM252.47 585h2.35v10.5h-2.35zM278.17 585h3.52v10.5h-3.52zM293.93 585h4.10v10.5h-4.10zM307.70 585h2.35v10.5h-2.35zM359.67 585h1.42v10.5h-1.42z" fill="#2f9a80" fill-opacity="0.7"/>
<path d="M236.12 595.5h1.42v4h-1.42zM244.65 595.5h2.00v4h-2.00zM246.05 595.5h3.52v4h-3.52zM252.47 595.5h2.35v4h-2.35zM278.17 595.5h3.52v4h-3.52zM293.93 595.5h4.10v4h-4.10zM307.70 595.5h2.35v4h-2.35zM359.67 595.5h1.42v4h-1.42z" fill="#2f9a80" fill-opacity="0.21"/>
<path d="M239.04 585h4.10v10.5h-4.10zM264.74 585h4.10v10.5h-4.10zM298.02 585h2.94v10.5h-2.94zM323.47 585h3.52v10.5h-3.52zM328.72 585h5.86v10.5h-5.86zM370.18 585h2.12v10.5h-2.12zM378.36 585h1.77v10.5h-1.77z" fill="#2f9a80" fill-opacity="0.8"/>
<path d="M239.04 595.5h4.10v4h-4.10zM264.74 595.5h4.10v4h-4.10zM298.02 595.5h2.94v4h-2.94zM323.47 595.5h3.52v4h-3.52zM328.72 595.5h5.86v4h-5.86zM370.18 595.5h2.12v4h-2.12zM378.36 595.5h1.77v4h-1.77z" fill="#2f9a80" fill-opacity="0.24"/>
<path d="M233.79 585h2.35v10.5h-2.35zM237.29 585h1.77v10.5h-1.77zM249.55 585h2.94v10.5h-2.94zM255.39 585h5.86v10.5h-5.86zM268.82 585h4.69v10.5h-4.69zM274.66 585h3.52v10.5h-3.52zM281.09 585h8.78v10.5h-8.78zM301.17 585h2.70v10.5h-2.70zM310.62 585h3.52v10.5h-3.52zM314.12 585h4.10v10.5h-4.10zM320.31 585h2.94v10.5h-2.94zM335.73 585h3.52v10.5h-3.52zM340.75 585h3.75v10.5h-3.75zM344.49 585h4.69v10.5h-4.69zM353.83 585h4.10v10.5h-4.10z" fill="#2f9a80" fill-opacity="0.9"/>
<path d="M233.79 595.5h2.35v4h-2.35zM237.29 595.5h1.77v4h-1.77zM249.55 595.5h2.94v4h-2.94zM255.39 595.5h5.86v4h-5.86zM268.82 595.5h4.69v4h-4.69zM274.66 595.5h3.52v4h-3.52zM281.09 595.5h8.78v4h-8.78zM301.17 595.5h2.70v4h-2.70zM310.62 595.5h3.52v4h-3.52zM314.12 595.5h4.10v4h-4.10zM320.31 595.5h2.94v4h-2.94zM335.73 595.5h3.52v4h-3.52zM340.75 595.5h3.75v4h-3.75zM344.49 595.5h4.69v4h-4.69zM353.83 595.5h4.10v4h-4.10z" fill="#2f9a80" fill-opacity="0.27"/>
<rect x="232.50" y="584.50" width="152.00" height="16.00" fill="none" stroke="#262626" stroke-width="1.0"/>
<path d="M233.0,619.2 L233.0,616.2 C236.5,617.7 242.5,618.6 262.5,619.0 L354.5,619.4000000000001 C374.5,619.8000000000001 380.5,620.7 384.0,622.2 L384.0,619.2 Z" fill="#c8c8c8"/>
<line x1="232.5" y1="619.2" x2="384.5" y2="619.2" stroke="#111" stroke-width="1.2" stroke-dasharray="4.7,2.8"/>
<rect x="232.50" y="602.50" width="152.00" height="33.00" fill="none" stroke="#1e1e1e" stroke-width="1.0"/>
<line x1="231" y1="602.5" x2="232.5" y2="602.5" stroke="#444" stroke-width="0.5" />
<text x="231.1" y="603.8" font-size="3.60" fill="#444" text-anchor="end">5.0</text>
<line x1="231" y1="610.4" x2="232.5" y2="610.4" stroke="#444" stroke-width="0.5" />
<text x="231.1" y="611.7" font-size="3.60" fill="#444" text-anchor="end">2.5</text>
<line x1="231" y1="619.2" x2="232.5" y2="619.2" stroke="#444" stroke-width="0.5" />
<text x="231.1" y="620.5" font-size="3.60" fill="#444" text-anchor="end">0.0</text>
<line x1="231" y1="627" x2="232.5" y2="627" stroke="#444" stroke-width="0.5" />
<text x="231.1" y="628.3" font-size="3.60" fill="#444" text-anchor="end">−2.5</text>
<text x="221.7" y="619" font-size="4.10" fill="#333" text-anchor="middle" transform="rotate(-90 221.7 619)">Ranked List</text>
<text x="235.8" y="611.4" font-size="6.80" fill="#222">Treatment</text>
<text x="380.2" y="611.4" font-size="6.80" fill="#222" text-anchor="end">Control</text>
<line x1="283.2" y1="635.5" x2="283.2" y2="637" stroke="#444" stroke-width="0.5" />
<text x="283.2" y="641.3" font-size="4.20" fill="#444" text-anchor="middle">5000</text>
<line x1="334.9" y1="635.5" x2="334.9" y2="637" stroke="#444" stroke-width="0.5" />
<text x="334.9" y="641.3" font-size="4.20" fill="#444" text-anchor="middle">10000</text>
<text x="308.8" y="646.1" font-size="4.20" fill="#333" text-anchor="middle">Rank in Ordered Dataset</text>
<text x="44.4" y="678.9" font-size="8.91" fill="#111">NFAT TF Pathway</text>
<line x1="42.5" y1="685.6" x2="195.5" y2="685.6" stroke="#111" stroke-width="1.5" stroke-dasharray="10,10.5"/>
<polyline points="42.3,685.8 43.2,686.3 44.2,686.6 45.1,687.5 46,688 47,688.8 47.9,689.3 48.9,690 49.8,690.6 50.7,690.7 51.7,691.1 52.6,691.6 54,687.8 54.9,688 55.8,688.9 56.7,689.7 57.6,690.4 58.5,691 59.4,691.4 60.3,692 61.2,692.6 62.1,693.2 63,693.9 63.9,694.3 64.8,694.7 65.7,695.2 66.8,694.6 68,693.7 69,694.1 70,694.6 71,695.2 72,695.8 73,695.9 73.9,696.4 74.8,696.8 75.7,697.4 76.7,697.4 77.6,697.9 78.5,698.4 79.4,698.9 80.3,699.5 81.2,700 82.1,700 83,700.5 83.9,700.7 84.9,700.9 85.8,701.5 86.7,701.7 87.6,701.9 88.5,702.3 89.4,702.7 90.3,703.4 91.2,704 92.1,704.8 93,705.3 93.9,705.6 94.8,706.2 95.7,706.5 96.6,706.9 97.5,707.4 98.4,707.9 99.3,708.6 100.2,709.1 101.1,709.9 102,710.5 102.9,710.9 103.8,711.5 104.7,712.2 105.6,713 106.5,713.8 107.4,714.6 108.3,715.3 109.2,715.8 110.1,716.6 111,717.1 111.9,717.6 112.8,718.3 113.7,718.8 114.6,719.5 115.5,720.1 116.4,720.8 117.3,721.6 118.2,722.3 119.2,723 120.1,723.4 121,724.3 121.9,724.9 122.8,725.8 123.7,726 124.6,726.7 125.5,727.6 126.4,728 127.3,728.8 128.2,729.7 129.1,730.5 130,731 130.9,731.9 131.8,732.7 132.7,733.2 133.6,734.1 134.5,734.8 135.4,735.6 136.3,736.2 137.2,737 138.1,737.5 139,738.2 139.9,738.7 140.8,739.1 141.8,739.5 142.7,740.2 143.6,740.5 144.5,741.1 145.4,741.6 146.3,742 147.2,742.1 148.2,742.7 149.1,743.3 150,743.8 150.9,744.2 151.8,745 152.8,745.4 153.8,745.8 154.7,746.1 155.7,746.7 156.7,747 157.7,747.4 158.6,748.4 159.6,749.1 160.6,749.7 161.6,750.3 162.5,750.8 163.5,750.8 164.5,751.2 165.4,751.5 166.4,751.7 167.4,751.4 168.4,751.8 169.3,752.2 170.3,752.1 171.3,752.3 172.3,752.6 173.2,752.7 174.2,753 175.2,753.1 176.2,753.2 177.1,753.1 178.1,752.7 179.1,752.5 180,753.2 181,753.2 182,753.3 182.9,753.4 183.9,753.6 185,751.9 186.1,750 187.2,748.3 188.3,746.3 189.4,736.8 190.4,727.5 191.6,727 192.7,727.2 194.2,702.6 195,699" fill="none" stroke="#e8952f" stroke-width="1.6" stroke-linejoin="round" />
<rect x="49.70" y="739.50" width="61.80" height="11.10" fill="#fff"/>
<rect x="50.20" y="740.00" width="10.03" height="5.00" fill="#c9c9c9"/>
<text x="55.2" y="743.7" font-size="3.30" fill="#222" text-anchor="middle" font-weight="bold">NES</text>
<rect x="62.36" y="740.00" width="13.98" height="5.00" fill="#c9c9c9"/>
<text x="69.4" y="743.7" font-size="3.30" fill="#222" text-anchor="middle" font-weight="bold">Pvalue</text>
<rect x="78.17" y="740.00" width="32.83" height="5.00" fill="#c9c9c9"/>
<text x="94.6" y="743.7" font-size="3.30" fill="#222" text-anchor="middle" font-weight="bold">Adjusted Pvalue</text>
<rect x="50.20" y="745.90" width="10.03" height="4.60" fill="#e9e9e9"/>
<text x="55.2" y="749.4" font-size="3.40" fill="#e8952f" text-anchor="middle" font-weight="bold">−1.37</text>
<rect x="62.36" y="745.90" width="13.98" height="4.60" fill="#e9e9e9"/>
<text x="69.4" y="749.4" font-size="3.40" fill="#e8952f" text-anchor="middle" font-weight="bold">&lt; 0.001</text>
<rect x="78.17" y="745.90" width="32.83" height="4.60" fill="#e9e9e9"/>
<text x="94.6" y="749.4" font-size="3.40" fill="#e8952f" text-anchor="middle" font-weight="bold">0.07</text>
<rect x="42.50" y="682.50" width="153.00" height="74.00" fill="none" stroke="#1e1e1e" stroke-width="1.0"/>
<line x1="41" y1="685.6" x2="42.5" y2="685.6" stroke="#444" stroke-width="0.5" />
<text x="41.1" y="686.9" font-size="3.60" fill="#444" text-anchor="end">0.0</text>
<line x1="41" y1="708.4" x2="42.5" y2="708.4" stroke="#444" stroke-width="0.5" />
<text x="41.1" y="709.7" font-size="3.60" fill="#444" text-anchor="end">−0.2</text>
<line x1="41" y1="731.2" x2="42.5" y2="731.2" stroke="#444" stroke-width="0.5" />
<text x="41.1" y="732.5" font-size="3.60" fill="#444" text-anchor="end">−0.4</text>
<line x1="41" y1="753.6" x2="42.5" y2="753.6" stroke="#444" stroke-width="0.5" />
<text x="41.1" y="754.9" font-size="3.60" fill="#444" text-anchor="end">−0.6</text>
<text x="31.7" y="719.5" font-size="4.10" fill="#333" text-anchor="middle" transform="rotate(-90 31.7 719.5)">Running Enrichment Score</text>
<rect x="42.50" y="758.50" width="153.00" height="16.00" fill="#fff"/>
<defs><linearGradient id="pg7585_42" x1="0" x2="1"><stop offset="0" stop-color="#f6d2cf"/><stop offset="0.19" stop-color="#f8e6e4"/><stop offset="0.21" stop-color="#f5f5f5"/><stop offset="1" stop-color="#f2f2f5"/></linearGradient></defs>
<rect x="43.00" y="769.50" width="152.00" height="4.00" fill="url(#pg7585_42)"/>
<path d="M52.5 759.5V769.5M54.5 759.5V769.5M66.5 759.5V769.5M70.5 759.5V769.5M73.5 759.5V769.5M80.5 759.5V769.5M86.5 759.5V769.5M95.5 759.5V769.5M115.5 759.5V769.5M118.5 759.5V769.5M120.5 759.5V769.5M122.5 759.5V769.5M125.5 759.5V769.5M137.5 759.5V769.5M138.5 759.5V769.5M140.5 759.5V769.5M142.5 759.5V769.5M143.5 759.5V769.5M154.5 759.5V769.5M164.5 759.5V769.5M166.5 759.5V769.5M168.5 759.5V769.5M174.5 759.5V769.5M181.5 759.5V769.5M186.5 759.5V769.5M189.5 759.5V769.5M191.5 759.5V769.5M192.5 759.5V769.5" stroke="#e8952f" stroke-width="1.0" fill="none"/>
<path d="M52.5 769.5V773.5M54.5 769.5V773.5M66.5 769.5V773.5M70.5 769.5V773.5M73.5 769.5V773.5M80.5 769.5V773.5M86.5 769.5V773.5M95.5 769.5V773.5M115.5 769.5V773.5M118.5 769.5V773.5M120.5 769.5V773.5M122.5 769.5V773.5M125.5 769.5V773.5M137.5 769.5V773.5M138.5 769.5V773.5M140.5 769.5V773.5M142.5 769.5V773.5M143.5 769.5V773.5M154.5 769.5V773.5M164.5 769.5V773.5M166.5 769.5V773.5M168.5 769.5V773.5M174.5 769.5V773.5M181.5 769.5V773.5M186.5 769.5V773.5M189.5 769.5V773.5M191.5 769.5V773.5M192.5 769.5V773.5" stroke="#e8952f" stroke-width="1.0" stroke-opacity="0.4" fill="none"/>
<rect x="42.50" y="758.50" width="153.00" height="16.00" fill="none" stroke="#262626" stroke-width="1.0"/>
<path d="M43.0,793.1 L43.0,790.1 C46.5,791.6 52.5,792.5 72.5,792.9 L165.5,793.3000000000001 C185.5,793.7 191.5,794.6 195.0,796.1 L195.0,793.1 Z" fill="#c8c8c8"/>
<line x1="42.5" y1="793.1" x2="195.5" y2="793.1" stroke="#111" stroke-width="1.2" stroke-dasharray="4.7,2.8"/>
<rect x="42.50" y="776.50" width="153.00" height="33.00" fill="none" stroke="#1e1e1e" stroke-width="1.0"/>
<line x1="41" y1="776.4" x2="42.5" y2="776.4" stroke="#444" stroke-width="0.5" />
<text x="41.1" y="777.7" font-size="3.60" fill="#444" text-anchor="end">5.0</text>
<line x1="41" y1="784.9" x2="42.5" y2="784.9" stroke="#444" stroke-width="0.5" />
<text x="41.1" y="786.2" font-size="3.60" fill="#444" text-anchor="end">2.5</text>
<line x1="41" y1="793.1" x2="42.5" y2="793.1" stroke="#444" stroke-width="0.5" />
<text x="41.1" y="794.4" font-size="3.60" fill="#444" text-anchor="end">0.0</text>
<line x1="41" y1="801.2" x2="42.5" y2="801.2" stroke="#444" stroke-width="0.5" />
<text x="41.1" y="802.5" font-size="3.60" fill="#444" text-anchor="end">−2.5</text>
<text x="31.7" y="793" font-size="4.10" fill="#333" text-anchor="middle" transform="rotate(-90 31.7 793)">Ranked List</text>
<text x="45.8" y="785.4" font-size="6.80" fill="#222">Treatment</text>
<text x="191.2" y="785.4" font-size="6.80" fill="#222" text-anchor="end">Control</text>
<line x1="93.4" y1="809.5" x2="93.4" y2="811" stroke="#444" stroke-width="0.5" />
<text x="93.4" y="815.3" font-size="4.20" fill="#444" text-anchor="middle">5000</text>
<line x1="145.1" y1="809.5" x2="145.1" y2="811" stroke="#444" stroke-width="0.5" />
<text x="145.1" y="815.3" font-size="4.20" fill="#444" text-anchor="middle">10000</text>
<text x="119.3" y="819.7" font-size="4.20" fill="#333" text-anchor="middle">Rank in Ordered Dataset</text>
<text x="232.7" y="678.8" font-size="8.71" fill="#111">TCR Calcium Pathway</text>
<line x1="231.5" y1="685.6" x2="384.5" y2="685.6" stroke="#111" stroke-width="1.5" stroke-dasharray="10,10.5"/>
<polyline points="231.5,685.9 232.4,686.1 233.3,686.5 234.2,686.7 235.1,687.1 236,687.9 236.9,688.9 237.8,689.1 238.7,689.9 239.6,690.5 240.5,690.8 241.4,691.8 242.3,691.7 243.2,687.3 244.1,688 245.1,689.1 246,690 247,691 247.9,691.5 248.9,692.1 249.8,692.9 250.8,693.5 251.7,694 252.7,694.5 253.6,695 254.6,695.4 255.5,696.4 256.4,694 257.3,694.1 258.3,694.8 259.2,695.3 260.1,696 261,696.9 262,697.4 262.9,697.8 263.8,698.2 264.8,698.8 265.7,699.2 266.6,699.9 267.5,701.1 268.5,701.5 269.4,701.8 270.3,702.7 271.3,703.3 272.2,703.9 273.1,704.4 274,705 275,705.5 275.9,706.2 276.8,706.8 277.8,707.4 278.7,707.7 279.6,708.1 280.6,708.4 281.5,709.1 282.4,709.8 283.4,710.1 284.3,710.8 285.2,711.8 286.1,712.4 287.1,712.5 288,713 288.9,713.6 289.9,714 290.8,714.6 291.7,715.3 292.7,715.9 293.6,716.1 294.5,716.8 295.5,717.3 296.4,717.8 297.3,718.2 298.2,718.5 299.2,718.8 300.1,719.4 301,719.8 301.9,719.9 302.8,720.9 303.7,721.3 304.7,721.9 305.6,722.6 306.5,722.8 307.4,723.7 308.3,724.2 309.2,724.9 310.2,725.4 311.1,726 312,726.6 312.9,727.1 313.8,727.3 314.7,727.6 315.7,728.3 316.6,729.2 317.5,729.6 318.4,730.3 319.3,730.9 320.2,731.5 321.2,732.2 322.1,732.3 323,732.9 323.9,733.4 324.8,733.9 325.7,734.3 326.7,734.7 327.6,735.1 328.5,735.6 329.6,736 330.6,736.2 331.7,735.9 332.8,735.9 333.7,736.1 334.7,736.1 335.6,736.4 336.5,737.1 337.5,738.1 338.4,738.6 339.3,739 340.3,739.5 341.2,739.9 342.1,740.3 343.1,740.9 344,741.5 344.9,741.9 345.8,742.4 346.8,742.9 347.7,743.6 348.6,744.5 349.6,745 350.5,746 351.4,746.1 352.4,746.7 353.3,747 354.2,747.5 355.2,748.1 356.1,748.8 357,749.5 357.9,749.8 358.9,750.1 359.8,750.6 360.7,751.2 361.6,751.6 362.6,752.3 363.5,753.1 364.6,749.6 365.8,746.5 366.8,747.2 367.8,747.4 368.8,748 369.8,748.6 370.8,748.9 371.8,748.9 372.7,748.6 373.7,748.1 374.6,747.8 375.6,744.3 376.6,740.8 377.6,742 378.6,743.1 379.6,744 381,728.7 382.2,724.4 383.4,719.4 384.5,708.4" fill="none" stroke="#3a8dcb" stroke-width="1.6" stroke-linejoin="round" />
<rect x="243.30" y="738.50" width="62.30" height="11.10" fill="#fff"/>
<rect x="243.80" y="739.00" width="10.11" height="5.00" fill="#c9c9c9"/>
<text x="248.9" y="742.7" font-size="3.30" fill="#222" text-anchor="middle" font-weight="bold">NES</text>
<rect x="256.06" y="739.00" width="14.10" height="5.00" fill="#c9c9c9"/>
<text x="263.1" y="742.7" font-size="3.30" fill="#222" text-anchor="middle" font-weight="bold">Pvalue</text>
<rect x="272.00" y="739.00" width="33.10" height="5.00" fill="#c9c9c9"/>
<text x="288.5" y="742.7" font-size="3.30" fill="#222" text-anchor="middle" font-weight="bold">Adjusted Pvalue</text>
<rect x="243.80" y="744.90" width="10.11" height="4.60" fill="#e9e9e9"/>
<text x="248.9" y="748.4" font-size="3.40" fill="#3a8dcb" text-anchor="middle" font-weight="bold">−1.56</text>
<rect x="256.06" y="744.90" width="14.10" height="4.60" fill="#e9e9e9"/>
<text x="263.1" y="748.4" font-size="3.40" fill="#3a8dcb" text-anchor="middle" font-weight="bold">&lt; 0.001</text>
<rect x="272.00" y="744.90" width="33.10" height="4.60" fill="#e9e9e9"/>
<text x="288.5" y="748.4" font-size="3.40" fill="#3a8dcb" text-anchor="middle" font-weight="bold">0.05</text>
<rect x="231.50" y="682.50" width="153.00" height="74.00" fill="none" stroke="#1e1e1e" stroke-width="1.0"/>
<line x1="230" y1="685.6" x2="231.5" y2="685.6" stroke="#444" stroke-width="0.5" />
<text x="230.1" y="686.9" font-size="3.60" fill="#444" text-anchor="end">0.0</text>
<line x1="230" y1="704.9" x2="231.5" y2="704.9" stroke="#444" stroke-width="0.5" />
<text x="230.1" y="706.2" font-size="3.60" fill="#444" text-anchor="end">−0.2</text>
<line x1="230" y1="724.5" x2="231.5" y2="724.5" stroke="#444" stroke-width="0.5" />
<text x="230.1" y="725.8" font-size="3.60" fill="#444" text-anchor="end">−0.4</text>
<line x1="230" y1="744.3" x2="231.5" y2="744.3" stroke="#444" stroke-width="0.5" />
<text x="230.1" y="745.6" font-size="3.60" fill="#444" text-anchor="end">−0.6</text>
<text x="220.7" y="719.5" font-size="4.10" fill="#333" text-anchor="middle" transform="rotate(-90 220.7 719.5)">Running Enrichment Score</text>
<rect x="231.50" y="758.50" width="153.00" height="16.00" fill="#fff"/>
<defs><linearGradient id="pg7585_231" x1="0" x2="1"><stop offset="0" stop-color="#f6d2cf"/><stop offset="0.2" stop-color="#f8e6e4"/><stop offset="0.22" stop-color="#f5f5f5"/><stop offset="1" stop-color="#f2f2f5"/></linearGradient></defs>
<rect x="232.00" y="769.50" width="152.00" height="4.00" fill="url(#pg7585_231)"/>
<path d="M242.5 759.5V769.5M255.5 759.5V769.5M275.5 759.5V769.5M294.5 759.5V769.5M296.5 759.5V769.5M315.5 759.5V769.5M320.5 759.5V769.5M324.5 759.5V769.5M327.5 759.5V769.5M328.5 759.5V769.5M329.5 759.5V769.5M330.5 759.5V769.5M332.5 759.5V769.5M353.5 759.5V769.5M363.5 759.5V769.5M365.5 759.5V769.5M375.5 759.5V769.5M376.5 759.5V769.5M379.5 759.5V769.5M380.5 759.5V769.5M382.5 759.5V769.5" stroke="#3a8dcb" stroke-width="1.0" fill="none"/>
<path d="M242.5 769.5V773.5M255.5 769.5V773.5M275.5 769.5V773.5M294.5 769.5V773.5M296.5 769.5V773.5M315.5 769.5V773.5M320.5 769.5V773.5M324.5 769.5V773.5M327.5 769.5V773.5M328.5 769.5V773.5M329.5 769.5V773.5M330.5 769.5V773.5M332.5 769.5V773.5M353.5 769.5V773.5M363.5 769.5V773.5M365.5 769.5V773.5M375.5 769.5V773.5M376.5 769.5V773.5M379.5 769.5V773.5M380.5 769.5V773.5M382.5 769.5V773.5" stroke="#3a8dcb" stroke-width="1.0" stroke-opacity="0.4" fill="none"/>
<rect x="231.50" y="758.50" width="153.00" height="16.00" fill="none" stroke="#262626" stroke-width="1.0"/>
<path d="M232.0,793.1 L232.0,790.1 C235.5,791.6 241.5,792.5 261.5,792.9 L354.5,793.3000000000001 C374.5,793.7 380.5,794.6 384.0,796.1 L384.0,793.1 Z" fill="#c8c8c8"/>
<line x1="231.5" y1="793.1" x2="384.5" y2="793.1" stroke="#111" stroke-width="1.2" stroke-dasharray="4.7,2.8"/>
<rect x="231.50" y="776.50" width="153.00" height="33.00" fill="none" stroke="#1e1e1e" stroke-width="1.0"/>
<line x1="230" y1="776.4" x2="231.5" y2="776.4" stroke="#444" stroke-width="0.5" />
<text x="230.1" y="777.7" font-size="3.60" fill="#444" text-anchor="end">5.0</text>
<line x1="230" y1="784.9" x2="231.5" y2="784.9" stroke="#444" stroke-width="0.5" />
<text x="230.1" y="786.2" font-size="3.60" fill="#444" text-anchor="end">2.5</text>
<line x1="230" y1="793.1" x2="231.5" y2="793.1" stroke="#444" stroke-width="0.5" />
<text x="230.1" y="794.4" font-size="3.60" fill="#444" text-anchor="end">0.0</text>
<line x1="230" y1="801.2" x2="231.5" y2="801.2" stroke="#444" stroke-width="0.5" />
<text x="230.1" y="802.5" font-size="3.60" fill="#444" text-anchor="end">−2.5</text>
<text x="220.7" y="793" font-size="4.10" fill="#333" text-anchor="middle" transform="rotate(-90 220.7 793)">Ranked List</text>
<text x="234.8" y="785.4" font-size="6.80" fill="#222">Treatment</text>
<text x="380.2" y="785.4" font-size="6.80" fill="#222" text-anchor="end">Control</text>
<line x1="283.2" y1="809.5" x2="283.2" y2="811" stroke="#444" stroke-width="0.5" />
<text x="283.2" y="815.3" font-size="4.20" fill="#444" text-anchor="middle">5000</text>
<line x1="334.9" y1="809.5" x2="334.9" y2="811" stroke="#444" stroke-width="0.5" />
<text x="334.9" y="815.3" font-size="4.20" fill="#444" text-anchor="middle">10000</text>
<text x="308.3" y="819.7" font-size="4.20" fill="#333" text-anchor="middle">Rank in Ordered Dataset</text>
<text transform="translate(430 493) scale(1 1.08)" font-size="13" fill="#111">F</text>
<text x="473.4" y="504.7" font-size="8.86" fill="#111">Naive-Related Transcription Factors</text>
<line x1="471.5" y1="555.6" x2="624.5" y2="555.6" stroke="#111" stroke-width="1.5" stroke-dasharray="8.5,8"/>
<polyline points="472.7,549.7 473.6,550.1 474.5,550.2 475.5,550 476.4,551.3 477.3,552.4 478.2,553.1 479.1,553.9 480.1,554.4 481,555.2 481.9,556.3 482.9,552.5 483.9,549.4 484.9,545.7 486,542.2 487,538.8 488,535.8 488.9,533.9 489.8,531.8 490.7,529.5 491.6,526.8 492.6,524.6 493.5,523.1 494.4,521.1 495.3,518.8 496.2,516 497.1,515 498,515.3 498.9,515.8 499.8,515.7 500.7,514.6 501.6,514.4 502.5,514.3 503.4,513.6 504.3,513.7 505.2,513.4 506.1,512.7 507,511.9 507.9,512.4 508.8,512.4 509.7,511.6 510.6,510.9 511.5,511.4 512.4,511.7 513.3,511.4 514.2,512.2 515.1,511.7 516.1,510.9 517,511.5 517.9,511.1 518.8,511.2 519.7,511 520.6,510.5 521.5,510 522.4,510.3 523.3,511.5 524.3,511 525.2,512.1 526.1,512.3 527,511.7 527.9,512 528.9,513 529.8,513 530.8,512.4 531.7,513.5 532.7,513.7 533.6,514.9 534.6,514.5 535.5,515.5 536.5,515.9 537.4,516 538.4,516.9 539.3,518 540.3,518.6 541.2,518.8 542.2,519.9 543.1,519.6 544.1,520.9 545,522 545.9,523.7 546.8,524.6 547.8,525.1 548.7,525.5 549.6,525.8 550.5,525.4 551.5,526.9 552.4,527.6 553.3,527.8 554.3,527.5 555.2,529 556.1,529.7 557,529.4 558,530.3 558.9,531.9 559.8,532.1 560.7,532.6 561.7,532.7 562.6,532.7 563.5,533.6 564.4,535.6 565.4,535.4 566.3,535.2 567.2,535.6 568.1,535.4 569,535.9 569.9,536.5 570.9,535.9 571.8,535.4 572.7,535.8 573.6,536.7 574.5,537.3 575.4,538.4 576.3,537.8 577.2,538.6 578.2,538.7 579.1,539.3 580,540 580.9,539.9 581.8,540.4 582.7,540.4 583.6,541.3 584.5,541.4 585.4,541.9 586.4,542.8 587.3,543 588.2,544.4 589.1,544.6 590,545.6 590.9,546 591.8,545.6 592.7,545.8 593.6,545.7 594.5,545.9 595.4,546.2 596.3,547.7 597.2,547.6 598.1,548.8 599.1,549 600,548.3 600.9,547.2 601.8,548.2 602.7,547.4 603.6,548.5 604.5,549.6 605.4,550.1 606.3,550.1 607.3,550.8 608.3,551.9 609.4,552.5 610.4,553.1 611.4,550.7 612.4,549.3 613.3,549.3 614.2,550 615.1,549.8 616.1,549.9 617,549.8 617.9,550.5 618.8,551.6 619.7,552.4 620.6,552.6 621.6,553.5 622.5,553.7 623.4,554.4 624.3,554.8" fill="none" stroke="#34466d" stroke-width="1.2" stroke-linejoin="round" />
<polyline points="472.2,557.2 473.1,554.7 474.1,550.3 475,547.1 475.9,545.1 476.9,542.5 477.8,541.1 478.8,539.1 479.9,536.9 480.9,536.1 481.9,534.5 482.9,533.9 483.9,532.2 485,530.1 486,528.8 487,526.5 488,523.3 489.1,520.1 490.1,517.2 491.1,514.9 492,514.5 493,514.6 493.9,514.2 494.8,514.7 495.7,512.9 496.7,513 497.6,513.3 498.5,512.8 499.4,513.6 500.4,513.7 501.3,514.4 502.2,514.6 503.1,514.6 504,514.2 504.9,513.2 505.9,513 506.8,512.6 507.7,512.8 508.6,512.4 509.5,514.2 510.4,513.1 511.4,514 512.3,513.8 513.3,513.8 514.2,514.5 515.1,514.6 516.1,514 517,514.6 517.9,514.7 518.9,513.8 519.8,514.5 520.8,514.3 521.7,514.4 522.6,515.2 523.6,515.8 524.5,515.9 525.4,517.4 526.4,517.6 527.3,517.2 528.3,517.5 529.2,517.5 530.1,516.3 531.1,515.9 532,515.7 532.9,518.1 533.9,518.8 534.8,519.4 535.7,519.9 536.6,521.4 537.6,522.1 538.5,523.7 539.4,524.6 540.4,526 541.3,526.1 542.2,526.7 543.1,526.9 544.1,527.3 545,526.9 545.9,527.3 546.9,527.5 547.8,528 548.7,529.6 549.6,530.4 550.6,531.6 551.5,532.5 552.4,533.4 553.3,534.2 554.3,534 555.2,534.8 556.1,534.9 557.1,535 558,536.2 558.9,537.8 559.8,537.4 560.8,538.7 561.7,539.4 562.6,539 563.5,539.5 564.5,540.1 565.4,540.7 566.3,540.7 567.3,540.2 568.2,540.7 569.1,541.6 570.1,542.4 571,543 571.9,543.8 572.9,543.2 573.8,543.5 574.7,544 575.6,544.8 576.6,545.1 577.5,545.5 578.4,545.8 579.4,547.2 580.3,545.8 581.2,546.2 582.2,548 583.1,548.1 584,547.1 585,547.6 585.9,547.2 586.8,547.4 587.8,548.3 588.7,549.9 589.6,550.5 590.5,551.2 591.5,552 592.4,552.3 593.3,552 594.2,552.3 595.2,553 596.1,553.2 597,553.2 598,553.6 598.9,553.3 599.8,553.5 600.7,554.2 601.7,554.8 602.6,555.5 603.5,557 604.4,557.6 605.4,558 606.3,557.7 607.2,557.5 608.1,558.3 609,558.2 609.9,559 610.8,558.8 611.7,559.4 612.6,559.9 613.5,560.9 614.4,560.9 615.3,561 616.2,561.5 617.1,561.9 618,563.2 618.9,563.1 619.8,563 620.7,563.1 621.6,563.7 622.5,564.1 623.4,564.7 624.3,564.4" fill="none" stroke="#e6803a" stroke-width="1.2" stroke-linejoin="round" />
<polyline points="472.2,555.2 473.1,557.2 474,558.4 475,558.3 475.9,557.6 476.8,558 477.8,559 478.8,558.5 479.9,559.7 480.9,559.9 481.9,561.4 482.9,559.4 483.9,557 484.9,552.9 486,550.8 487,548.2 488,544.8 489,542 490,540.3 491.1,537.4 492.1,534.8 493.1,531.9 494.2,530.2 495.2,526.3 496.2,526.6 497.2,525.2 498.3,525 499.3,523.3 500.2,522.5 501.2,522 502.1,522.4 503.1,521.2 504,521.4 504.9,520.8 505.9,521.3 506.8,520.7 507.7,520.6 508.7,520.1 509.6,520.7 510.6,519.8 511.5,519.2 512.4,520.1 513.3,519.7 514.2,519.7 515.1,518.8 516.1,518.6 517,517.1 517.9,517.2 518.8,516.9 519.7,516.1 520.6,515.5 521.5,516.5 522.4,516.8 523.3,515.9 524.3,517.1 525.2,516.5 526.1,516.3 527,516.4 527.9,515.6 528.9,515.4 529.8,515.8 530.8,517.4 531.7,518.6 532.7,518.2 533.6,519.6 534.6,520 535.5,520.8 536.5,521.3 537.4,521.9 538.4,521.7 539.3,521.8 540.3,522.1 541.2,522.6 542.2,523.7 543.1,523.6 544.1,525.3 545,525.5 545.9,525.7 546.8,526.8 547.8,527.6 548.7,527.9 549.6,527.8 550.5,528 551.5,527.8 552.4,529.5 553.3,530.8 554.3,532.4 555.2,533 556.1,533.4 557,534.1 558,534.9 558.9,534.9 559.8,535.5 560.7,537 561.7,536.1 562.6,535.7 563.5,536.2 564.5,537.7 565.4,539.3 566.3,539.3 567.3,539.9 568.2,540 569.1,540.4 570.1,540.2 571,540.5 571.9,540.8 572.9,541.7 573.8,543.1 574.7,541.9 575.6,542.4 576.6,542.6 577.5,543.3 578.4,544 579.4,544.4 580.3,544.8 581.2,544.2 582.2,543.3 583.1,544.7 584,545.5 585,545 585.9,546 586.8,546.4 587.8,545 588.7,545.9 589.6,545.6 590.5,546.7 591.5,546.5 592.4,546.4 593.3,545.9 594.2,546.4 595.2,547.5 596.1,547.5 597,546.8 598,548.7 598.9,550 599.8,550.4 600.7,550.1 601.7,549.5 602.6,548.9 603.5,549.8 604.4,550.9 605.4,550.5 606.3,550.8 607.3,551.5 608.3,552.2 609.4,553.4 610.4,555.4 611.3,554.8 612.3,555.2 613.2,555.7 614.1,555.2 615,555 616,554.1 616.9,554.9 617.8,554.6 618.7,554.3 619.7,554.5 620.6,554.1 621.5,553.7 622.4,553.9 623.4,555 624.3,555" fill="none" stroke="#3aa85a" stroke-width="1.2" stroke-linejoin="round" />
<polyline points="472.2,552.9 473.2,553.7 474.1,553.2 475.1,552.7 476,554.6 477,554.9 478,554.5 478.9,555.2 479.9,556.3 480.9,553.7 481.9,551.9 482.9,550.9 484,549 485,548.1 486,547.2 487,545.8 487.9,543.3 488.8,541.1 489.7,538.6 490.6,536.4 491.6,534.6 492.5,532.2 493.4,530.7 494.3,530 495.2,527 496.2,524.6 497.2,522.4 498.2,520.1 499.1,519.5 500.1,519 501.1,519.4 502,519.5 502.9,519.5 503.9,518.7 504.9,518.9 505.8,519.1 506.8,518.7 507.7,518.9 508.6,519.9 509.6,518.3 510.6,518.5 511.5,517.6 512.4,516.8 513.3,516.9 514.2,517.4 515.1,517.5 516.1,516.8 517,516.2 517.9,516.2 518.8,516.6 519.7,516.3 520.6,515.7 521.5,517.2 522.4,516.8 523.3,516.9 524.3,516.7 525.2,516.5 526.1,516.8 527,516.7 527.9,517.2 528.9,517.1 529.8,516.9 530.8,519 531.7,519.4 532.7,520.4 533.6,521.4 534.6,522 535.5,522.3 536.5,521.7 537.4,521.3 538.4,522.7 539.3,523.7 540.3,524.5 541.2,523.9 542.2,523.3 543.1,523.7 544.1,524.1 545,525.3 545.9,525.7 546.8,527.6 547.8,528 548.7,528.4 549.6,529.7 550.5,530.5 551.5,530.6 552.4,531.8 553.3,533.4 554.3,533 555.2,533.4 556.1,533.4 557,533 558,534.4 558.9,535.6 559.8,536.8 560.7,537.6 561.7,536.8 562.6,537.6 563.5,537.9 564.5,538 565.4,538.3 566.3,539.5 567.3,539.8 568.2,541.5 569.1,542 570.1,541 571,542 571.9,543.1 572.9,543.2 573.8,542.7 574.7,544.2 575.6,543.5 576.6,543.8 577.5,543.1 578.4,543 579.4,542.8 580.3,544.3 581.2,545.6 582.2,545.7 583.1,545.4 584,545.9 585,546.7 585.9,546.2 586.8,546.1 587.7,546.7 588.6,547.8 589.5,548.2 590.4,548.9 591.3,548.4 592.3,547.4 593.2,548.4 594.1,548.5 595,549.1 595.9,549.4 596.8,550.3 597.7,550.3 598.6,551.6 599.5,551.9 600.4,552.5 601.3,553 602.2,553.7 603.1,554 604,553 605,552.9 605.9,554.4 606.8,554.8 607.7,555.3 608.6,555.6 609.5,555.3 610.4,555.1 611.4,551.6 612.4,549.3 613.4,550.2 614.5,551.9 615.5,552.7 616.5,554.2 617.5,553.2 618.6,551.4 619.5,553.1 620.5,553.7 621.5,554.9 622.4,555.4 623.3,555.7 624.3,555.6" fill="none" stroke="#7d4bb2" stroke-width="1.2" stroke-linejoin="round" />
<rect x="496.70" y="540.80" width="61.70" height="25.50" fill="#fff"/>
<rect x="497.20" y="541.30" width="10.02" height="3.90" fill="#c9c9c9"/>
<text x="502.2" y="544.4" font-size="3.30" fill="#222" text-anchor="middle" font-weight="bold">NES</text>
<rect x="509.34" y="541.30" width="13.96" height="3.90" fill="#c9c9c9"/>
<text x="516.3" y="544.4" font-size="3.30" fill="#222" text-anchor="middle" font-weight="bold">Pvalue</text>
<rect x="525.12" y="541.30" width="32.78" height="3.90" fill="#c9c9c9"/>
<text x="541.5" y="544.4" font-size="3.30" fill="#222" text-anchor="middle" font-weight="bold">Adjusted Pvalue</text>
<rect x="497.20" y="546.05" width="10.02" height="4.20" fill="#e9e9e9"/>
<text x="502.2" y="549.4" font-size="3.40" fill="#34466d" text-anchor="middle" font-weight="bold">1.50</text>
<rect x="509.34" y="546.05" width="13.96" height="4.20" fill="#e9e9e9"/>
<text x="516.3" y="549.4" font-size="3.40" fill="#34466d" text-anchor="middle" font-weight="bold">0.01</text>
<rect x="525.12" y="546.05" width="32.78" height="4.20" fill="#e9e9e9"/>
<text x="541.5" y="549.4" font-size="3.40" fill="#34466d" text-anchor="middle" font-weight="bold">0.01</text>
<rect x="497.20" y="551.10" width="10.02" height="4.20" fill="#dcdcdc"/>
<text x="502.2" y="554.4" font-size="3.40" fill="#e6803a" text-anchor="middle" font-weight="bold">1.50</text>
<rect x="509.34" y="551.10" width="13.96" height="4.20" fill="#dcdcdc"/>
<text x="516.3" y="554.4" font-size="3.40" fill="#e6803a" text-anchor="middle" font-weight="bold">0.01</text>
<rect x="525.12" y="551.10" width="32.78" height="4.20" fill="#dcdcdc"/>
<text x="541.5" y="554.4" font-size="3.40" fill="#e6803a" text-anchor="middle" font-weight="bold">0.01</text>
<rect x="497.20" y="556.15" width="10.02" height="4.20" fill="#e9e9e9"/>
<text x="502.2" y="559.5" font-size="3.40" fill="#3aa85a" text-anchor="middle" font-weight="bold">1.48</text>
<rect x="509.34" y="556.15" width="13.96" height="4.20" fill="#e9e9e9"/>
<text x="516.3" y="559.5" font-size="3.40" fill="#3aa85a" text-anchor="middle" font-weight="bold">0.03</text>
<rect x="525.12" y="556.15" width="32.78" height="4.20" fill="#e9e9e9"/>
<text x="541.5" y="559.5" font-size="3.40" fill="#3aa85a" text-anchor="middle" font-weight="bold">0.06</text>
<rect x="497.20" y="561.20" width="10.02" height="4.20" fill="#dcdcdc"/>
<text x="502.2" y="564.5" font-size="3.40" fill="#7d4bb2" text-anchor="middle" font-weight="bold">1.38</text>
<rect x="509.34" y="561.20" width="13.96" height="4.20" fill="#dcdcdc"/>
<text x="516.3" y="564.5" font-size="3.40" fill="#7d4bb2" text-anchor="middle" font-weight="bold">0.04</text>
<rect x="525.12" y="561.20" width="32.78" height="4.20" fill="#dcdcdc"/>
<text x="541.5" y="564.5" font-size="3.40" fill="#7d4bb2" text-anchor="middle" font-weight="bold">0.07</text>
<rect x="471.50" y="508.50" width="153.00" height="58.00" fill="none" stroke="#1e1e1e" stroke-width="1.0"/>
<line x1="470" y1="514.7" x2="471.5" y2="514.7" stroke="#444" stroke-width="0.5" />
<text x="470.1" y="516" font-size="3.60" fill="#444" text-anchor="end">0.4</text>
<line x1="470" y1="524.6" x2="471.5" y2="524.6" stroke="#444" stroke-width="0.5" />
<text x="470.1" y="525.9" font-size="3.60" fill="#444" text-anchor="end">0.3</text>
<line x1="470" y1="535.2" x2="471.5" y2="535.2" stroke="#444" stroke-width="0.5" />
<text x="470.1" y="536.5" font-size="3.60" fill="#444" text-anchor="end">0.2</text>
<line x1="470" y1="545.4" x2="471.5" y2="545.4" stroke="#444" stroke-width="0.5" />
<text x="470.1" y="546.7" font-size="3.60" fill="#444" text-anchor="end">0.1</text>
<line x1="470" y1="555.6" x2="471.5" y2="555.6" stroke="#444" stroke-width="0.5" />
<text x="470.1" y="556.9" font-size="3.60" fill="#444" text-anchor="end">0.0</text>
<line x1="470" y1="565.8" x2="471.5" y2="565.8" stroke="#444" stroke-width="0.5" />
<text x="470.1" y="567.1" font-size="3.60" fill="#444" text-anchor="end">−0.1</text>
<text x="460.7" y="537.5" font-size="4.10" fill="#333" text-anchor="middle" transform="rotate(-90 460.7 537.5)">Running Enrichment Score</text>
<rect x="471.50" y="568.50" width="153.00" height="8.00" fill="#fff"/>
<defs><linearGradient id="pg5685_471" x1="0" x2="1"><stop offset="0" stop-color="#f6d2cf"/><stop offset="0.05" stop-color="#f8e6e4"/><stop offset="0.07" stop-color="#f5f5f5"/><stop offset="1" stop-color="#f2f2f5"/></linearGradient></defs>
<rect x="472.00" y="573.10" width="152.00" height="2.40" fill="url(#pg5685_471)"/>
<path d="M518.10 569h0.90v4.1h-0.90zM488.06 569h0.90v4.1h-0.90zM508.85 569h0.90v4.1h-0.90zM495.43 569h0.90v4.1h-0.90zM479.26 569h0.90v4.1h-0.90zM484.89 569h0.90v4.1h-0.90zM523.91 569h0.90v4.1h-0.90zM495.84 569h0.90v4.1h-0.90zM489.48 569h0.90v4.1h-0.90zM541.71 569h0.90v4.1h-0.90zM542.92 569h0.90v4.1h-0.90zM570.74 569h0.90v4.1h-0.90zM559.72 569h0.90v4.1h-0.90zM562.67 569h0.90v4.1h-0.90zM552.58 569h0.90v4.1h-0.90z" fill="#34466d" fill-opacity="0.6"/>
<path d="M518.10 573.1h0.90v2.4h-0.90zM488.06 573.1h0.90v2.4h-0.90zM508.85 573.1h0.90v2.4h-0.90zM495.43 573.1h0.90v2.4h-0.90zM479.26 573.1h0.90v2.4h-0.90zM484.89 573.1h0.90v2.4h-0.90zM523.91 573.1h0.90v2.4h-0.90zM495.84 573.1h0.90v2.4h-0.90zM489.48 573.1h0.90v2.4h-0.90zM541.71 573.1h0.90v2.4h-0.90zM542.92 573.1h0.90v2.4h-0.90zM570.74 573.1h0.90v2.4h-0.90zM559.72 573.1h0.90v2.4h-0.90zM562.67 573.1h0.90v2.4h-0.90zM552.58 573.1h0.90v2.4h-0.90z" fill="#34466d" fill-opacity="0.18"/>
<path d="M484.51 569h0.90v4.1h-0.90zM489.89 569h0.90v4.1h-0.90zM504.87 569h0.90v4.1h-0.90zM496.90 569h0.90v4.1h-0.90zM522.19 569h0.90v4.1h-0.90zM526.69 569h0.90v4.1h-0.90zM534.19 569h0.90v4.1h-0.90zM522.87 569h0.90v4.1h-0.90zM484.11 569h0.90v4.1h-0.90zM485.84 569h0.90v4.1h-0.90zM485.76 569h0.90v4.1h-0.90zM491.16 569h0.90v4.1h-0.90zM491.04 569h0.90v4.1h-0.90zM491.18 569h0.90v4.1h-0.90zM522.55 569h0.90v4.1h-0.90zM563.24 569h0.90v4.1h-0.90zM550.91 569h0.90v4.1h-0.90zM563.66 569h0.90v4.1h-0.90zM549.69 569h0.90v4.1h-0.90zM553.42 569h0.90v4.1h-0.90zM609.16 569h0.90v4.1h-0.90z" fill="#34466d" fill-opacity="0.7"/>
<path d="M484.51 573.1h0.90v2.4h-0.90zM489.89 573.1h0.90v2.4h-0.90zM504.87 573.1h0.90v2.4h-0.90zM496.90 573.1h0.90v2.4h-0.90zM522.19 573.1h0.90v2.4h-0.90zM526.69 573.1h0.90v2.4h-0.90zM534.19 573.1h0.90v2.4h-0.90zM522.87 573.1h0.90v2.4h-0.90zM484.11 573.1h0.90v2.4h-0.90zM485.84 573.1h0.90v2.4h-0.90zM485.76 573.1h0.90v2.4h-0.90zM491.16 573.1h0.90v2.4h-0.90zM491.04 573.1h0.90v2.4h-0.90zM491.18 573.1h0.90v2.4h-0.90zM522.55 573.1h0.90v2.4h-0.90zM563.24 573.1h0.90v2.4h-0.90zM550.91 573.1h0.90v2.4h-0.90zM563.66 573.1h0.90v2.4h-0.90zM549.69 573.1h0.90v2.4h-0.90zM553.42 573.1h0.90v2.4h-0.90zM609.16 573.1h0.90v2.4h-0.90z" fill="#34466d" fill-opacity="0.21"/>
<path d="M504.59 569h0.90v4.1h-0.90zM531.04 569h0.90v4.1h-0.90zM507.70 569h0.90v4.1h-0.90zM489.58 569h0.90v4.1h-0.90zM515.89 569h0.90v4.1h-0.90zM480.92 569h0.90v4.1h-0.90zM508.33 569h0.90v4.1h-0.90zM507.25 569h0.90v4.1h-0.90zM530.26 569h0.90v4.1h-0.90zM483.32 569h0.90v4.1h-0.90zM510.58 569h0.90v4.1h-0.90zM486.57 569h0.90v4.1h-0.90zM527.13 569h0.90v4.1h-0.90zM484.28 569h0.90v4.1h-0.90zM492.85 569h0.90v4.1h-0.90zM500.07 569h0.90v4.1h-0.90zM533.00 569h0.90v4.1h-0.90zM546.15 569h0.90v4.1h-0.90zM572.21 569h0.90v4.1h-0.90zM565.45 569h0.90v4.1h-0.90zM549.80 569h0.90v4.1h-0.90zM551.06 569h0.90v4.1h-0.90zM609.72 569h0.90v4.1h-0.90zM616.07 569h0.90v4.1h-0.90z" fill="#34466d" fill-opacity="0.8"/>
<path d="M504.59 573.1h0.90v2.4h-0.90zM531.04 573.1h0.90v2.4h-0.90zM507.70 573.1h0.90v2.4h-0.90zM489.58 573.1h0.90v2.4h-0.90zM515.89 573.1h0.90v2.4h-0.90zM480.92 573.1h0.90v2.4h-0.90zM508.33 573.1h0.90v2.4h-0.90zM507.25 573.1h0.90v2.4h-0.90zM530.26 573.1h0.90v2.4h-0.90zM483.32 573.1h0.90v2.4h-0.90zM510.58 573.1h0.90v2.4h-0.90zM486.57 573.1h0.90v2.4h-0.90zM527.13 573.1h0.90v2.4h-0.90zM484.28 573.1h0.90v2.4h-0.90zM492.85 573.1h0.90v2.4h-0.90zM500.07 573.1h0.90v2.4h-0.90zM533.00 573.1h0.90v2.4h-0.90zM546.15 573.1h0.90v2.4h-0.90zM572.21 573.1h0.90v2.4h-0.90zM565.45 573.1h0.90v2.4h-0.90zM549.80 573.1h0.90v2.4h-0.90zM551.06 573.1h0.90v2.4h-0.90zM609.72 573.1h0.90v2.4h-0.90zM616.07 573.1h0.90v2.4h-0.90z" fill="#34466d" fill-opacity="0.24"/>
<path d="M514.54 569h0.90v4.1h-0.90zM484.31 569h0.90v4.1h-0.90zM503.93 569h0.90v4.1h-0.90zM526.33 569h0.90v4.1h-0.90zM532.94 569h0.90v4.1h-0.90zM533.28 569h0.90v4.1h-0.90zM489.92 569h0.90v4.1h-0.90zM533.66 569h0.90v4.1h-0.90zM496.28 569h0.90v4.1h-0.90zM511.44 569h0.90v4.1h-0.90zM530.16 569h0.90v4.1h-0.90zM554.88 569h0.90v4.1h-0.90zM555.31 569h0.90v4.1h-0.90zM553.40 569h0.90v4.1h-0.90zM562.37 569h0.90v4.1h-0.90zM557.77 569h0.90v4.1h-0.90zM560.57 569h0.90v4.1h-0.90zM579.06 569h0.90v4.1h-0.90zM593.82 569h0.90v4.1h-0.90zM597.67 569h0.90v4.1h-0.90zM594.28 569h0.90v4.1h-0.90z" fill="#34466d" fill-opacity="0.9"/>
<path d="M514.54 573.1h0.90v2.4h-0.90zM484.31 573.1h0.90v2.4h-0.90zM503.93 573.1h0.90v2.4h-0.90zM526.33 573.1h0.90v2.4h-0.90zM532.94 573.1h0.90v2.4h-0.90zM533.28 573.1h0.90v2.4h-0.90zM489.92 573.1h0.90v2.4h-0.90zM533.66 573.1h0.90v2.4h-0.90zM496.28 573.1h0.90v2.4h-0.90zM511.44 573.1h0.90v2.4h-0.90zM530.16 573.1h0.90v2.4h-0.90zM554.88 573.1h0.90v2.4h-0.90zM555.31 573.1h0.90v2.4h-0.90zM553.40 573.1h0.90v2.4h-0.90zM562.37 573.1h0.90v2.4h-0.90zM557.77 573.1h0.90v2.4h-0.90zM560.57 573.1h0.90v2.4h-0.90zM579.06 573.1h0.90v2.4h-0.90zM593.82 573.1h0.90v2.4h-0.90zM597.67 573.1h0.90v2.4h-0.90zM594.28 573.1h0.90v2.4h-0.90z" fill="#34466d" fill-opacity="0.27"/>
<path d="M534.29 569h0.90v4.1h-0.90zM535.16 569h0.90v4.1h-0.90zM484.85 569h0.90v4.1h-0.90zM545.14 569h0.90v4.1h-0.90zM541.34 569h0.90v4.1h-0.90zM540.23 569h0.90v4.1h-0.90zM549.72 569h0.90v4.1h-0.90zM565.68 569h0.90v4.1h-0.90zM556.76 569h0.90v4.1h-0.90zM579.06 569h0.90v4.1h-0.90zM596.91 569h0.90v4.1h-0.90z" fill="#34466d" fill-opacity="1.0"/>
<path d="M534.29 573.1h0.90v2.4h-0.90zM535.16 573.1h0.90v2.4h-0.90zM484.85 573.1h0.90v2.4h-0.90zM545.14 573.1h0.90v2.4h-0.90zM541.34 573.1h0.90v2.4h-0.90zM540.23 573.1h0.90v2.4h-0.90zM549.72 573.1h0.90v2.4h-0.90zM565.68 573.1h0.90v2.4h-0.90zM556.76 573.1h0.90v2.4h-0.90zM579.06 573.1h0.90v2.4h-0.90zM596.91 573.1h0.90v2.4h-0.90z" fill="#34466d" fill-opacity="0.30"/>
<rect x="471.50" y="568.50" width="153.00" height="8.00" fill="none" stroke="#262626" stroke-width="1.2"/>
<rect x="471.50" y="577.50" width="153.00" height="8.00" fill="#fff"/>
<defs><linearGradient id="pg5775_471" x1="0" x2="1"><stop offset="0" stop-color="#f6d2cf"/><stop offset="0.04" stop-color="#f8e6e4"/><stop offset="0.06" stop-color="#f5f5f5"/><stop offset="1" stop-color="#f2f2f5"/></linearGradient></defs>
<rect x="472.00" y="582.10" width="152.00" height="2.40" fill="url(#pg5775_471)"/>
<path d="M477.00 578h0.90v4.1h-0.90zM476.01 578h0.90v4.1h-0.90zM495.18 578h0.90v4.1h-0.90zM503.46 578h0.90v4.1h-0.90zM512.78 578h0.90v4.1h-0.90zM502.81 578h0.90v4.1h-0.90zM507.90 578h0.90v4.1h-0.90zM516.75 578h0.90v4.1h-0.90zM521.83 578h0.90v4.1h-0.90zM519.88 578h0.90v4.1h-0.90zM522.11 578h0.90v4.1h-0.90zM532.52 578h0.90v4.1h-0.90zM555.50 578h0.90v4.1h-0.90zM568.36 578h0.90v4.1h-0.90zM573.99 578h0.90v4.1h-0.90zM573.83 578h0.90v4.1h-0.90zM562.28 578h0.90v4.1h-0.90zM576.45 578h0.90v4.1h-0.90zM608.05 578h0.90v4.1h-0.90zM618.03 578h0.90v4.1h-0.90z" fill="#e6803a" fill-opacity="0.6"/>
<path d="M477.00 582.1h0.90v2.4h-0.90zM476.01 582.1h0.90v2.4h-0.90zM495.18 582.1h0.90v2.4h-0.90zM503.46 582.1h0.90v2.4h-0.90zM512.78 582.1h0.90v2.4h-0.90zM502.81 582.1h0.90v2.4h-0.90zM507.90 582.1h0.90v2.4h-0.90zM516.75 582.1h0.90v2.4h-0.90zM521.83 582.1h0.90v2.4h-0.90zM519.88 582.1h0.90v2.4h-0.90zM522.11 582.1h0.90v2.4h-0.90zM532.52 582.1h0.90v2.4h-0.90zM555.50 582.1h0.90v2.4h-0.90zM568.36 582.1h0.90v2.4h-0.90zM573.99 582.1h0.90v2.4h-0.90zM573.83 582.1h0.90v2.4h-0.90zM562.28 582.1h0.90v2.4h-0.90zM576.45 582.1h0.90v2.4h-0.90zM608.05 582.1h0.90v2.4h-0.90zM618.03 582.1h0.90v2.4h-0.90z" fill="#e6803a" fill-opacity="0.18"/>
<path d="M485.83 578h0.90v4.1h-0.90zM481.21 578h0.90v4.1h-0.90zM475.93 578h0.90v4.1h-0.90zM488.67 578h0.90v4.1h-0.90zM483.12 578h0.90v4.1h-0.90zM496.40 578h0.90v4.1h-0.90zM505.09 578h0.90v4.1h-0.90zM523.19 578h0.90v4.1h-0.90zM517.98 578h0.90v4.1h-0.90zM574.81 578h0.90v4.1h-0.90zM599.82 578h0.90v4.1h-0.90z" fill="#e6803a" fill-opacity="0.7"/>
<path d="M485.83 582.1h0.90v2.4h-0.90zM481.21 582.1h0.90v2.4h-0.90zM475.93 582.1h0.90v2.4h-0.90zM488.67 582.1h0.90v2.4h-0.90zM483.12 582.1h0.90v2.4h-0.90zM496.40 582.1h0.90v2.4h-0.90zM505.09 582.1h0.90v2.4h-0.90zM523.19 582.1h0.90v2.4h-0.90zM517.98 582.1h0.90v2.4h-0.90zM574.81 582.1h0.90v2.4h-0.90zM599.82 582.1h0.90v2.4h-0.90z" fill="#e6803a" fill-opacity="0.21"/>
<path d="M473.72 578h0.90v4.1h-0.90zM485.96 578h0.90v4.1h-0.90zM472.78 578h0.90v4.1h-0.90zM485.27 578h0.90v4.1h-0.90zM489.15 578h0.90v4.1h-0.90zM478.33 578h0.90v4.1h-0.90zM494.20 578h0.90v4.1h-0.90zM509.90 578h0.90v4.1h-0.90zM514.06 578h0.90v4.1h-0.90zM510.87 578h0.90v4.1h-0.90zM521.31 578h0.90v4.1h-0.90zM521.32 578h0.90v4.1h-0.90zM515.54 578h0.90v4.1h-0.90zM521.95 578h0.90v4.1h-0.90zM538.54 578h0.90v4.1h-0.90zM540.27 578h0.90v4.1h-0.90zM544.24 578h0.90v4.1h-0.90zM561.27 578h0.90v4.1h-0.90zM576.39 578h0.90v4.1h-0.90zM563.70 578h0.90v4.1h-0.90zM589.67 578h0.90v4.1h-0.90zM590.62 578h0.90v4.1h-0.90zM609.89 578h0.90v4.1h-0.90zM617.38 578h0.90v4.1h-0.90zM621.43 578h0.90v4.1h-0.90z" fill="#e6803a" fill-opacity="0.8"/>
<path d="M473.72 582.1h0.90v2.4h-0.90zM485.96 582.1h0.90v2.4h-0.90zM472.78 582.1h0.90v2.4h-0.90zM485.27 582.1h0.90v2.4h-0.90zM489.15 582.1h0.90v2.4h-0.90zM478.33 582.1h0.90v2.4h-0.90zM494.20 582.1h0.90v2.4h-0.90zM509.90 582.1h0.90v2.4h-0.90zM514.06 582.1h0.90v2.4h-0.90zM510.87 582.1h0.90v2.4h-0.90zM521.31 582.1h0.90v2.4h-0.90zM521.32 582.1h0.90v2.4h-0.90zM515.54 582.1h0.90v2.4h-0.90zM521.95 582.1h0.90v2.4h-0.90zM538.54 582.1h0.90v2.4h-0.90zM540.27 582.1h0.90v2.4h-0.90zM544.24 582.1h0.90v2.4h-0.90zM561.27 582.1h0.90v2.4h-0.90zM576.39 582.1h0.90v2.4h-0.90zM563.70 582.1h0.90v2.4h-0.90zM589.67 582.1h0.90v2.4h-0.90zM590.62 582.1h0.90v2.4h-0.90zM609.89 582.1h0.90v2.4h-0.90zM617.38 582.1h0.90v2.4h-0.90zM621.43 582.1h0.90v2.4h-0.90z" fill="#e6803a" fill-opacity="0.24"/>
<path d="M490.78 578h0.90v4.1h-0.90zM480.45 578h0.90v4.1h-0.90zM473.79 578h0.90v4.1h-0.90zM477.85 578h0.90v4.1h-0.90zM480.48 578h0.90v4.1h-0.90zM499.11 578h0.90v4.1h-0.90zM506.27 578h0.90v4.1h-0.90zM506.20 578h0.90v4.1h-0.90zM521.18 578h0.90v4.1h-0.90zM530.12 578h0.90v4.1h-0.90zM532.64 578h0.90v4.1h-0.90zM543.79 578h0.90v4.1h-0.90zM555.66 578h0.90v4.1h-0.90zM571.06 578h0.90v4.1h-0.90zM563.55 578h0.90v4.1h-0.90zM569.23 578h0.90v4.1h-0.90zM569.46 578h0.90v4.1h-0.90zM565.69 578h0.90v4.1h-0.90zM568.87 578h0.90v4.1h-0.90zM574.53 578h0.90v4.1h-0.90zM588.04 578h0.90v4.1h-0.90zM606.34 578h0.90v4.1h-0.90zM616.12 578h0.90v4.1h-0.90z" fill="#e6803a" fill-opacity="0.9"/>
<path d="M490.78 582.1h0.90v2.4h-0.90zM480.45 582.1h0.90v2.4h-0.90zM473.79 582.1h0.90v2.4h-0.90zM477.85 582.1h0.90v2.4h-0.90zM480.48 582.1h0.90v2.4h-0.90zM499.11 582.1h0.90v2.4h-0.90zM506.27 582.1h0.90v2.4h-0.90zM506.20 582.1h0.90v2.4h-0.90zM521.18 582.1h0.90v2.4h-0.90zM530.12 582.1h0.90v2.4h-0.90zM532.64 582.1h0.90v2.4h-0.90zM543.79 582.1h0.90v2.4h-0.90zM555.66 582.1h0.90v2.4h-0.90zM571.06 582.1h0.90v2.4h-0.90zM563.55 582.1h0.90v2.4h-0.90zM569.23 582.1h0.90v2.4h-0.90zM569.46 582.1h0.90v2.4h-0.90zM565.69 582.1h0.90v2.4h-0.90zM568.87 582.1h0.90v2.4h-0.90zM574.53 582.1h0.90v2.4h-0.90zM588.04 582.1h0.90v2.4h-0.90zM606.34 582.1h0.90v2.4h-0.90zM616.12 582.1h0.90v2.4h-0.90z" fill="#e6803a" fill-opacity="0.27"/>
<path d="M483.71 578h0.90v4.1h-0.90zM487.28 578h0.90v4.1h-0.90zM498.23 578h0.90v4.1h-0.90zM522.98 578h0.90v4.1h-0.90zM542.01 578h0.90v4.1h-0.90zM577.00 578h0.90v4.1h-0.90zM565.43 578h0.90v4.1h-0.90zM602.31 578h0.90v4.1h-0.90z" fill="#e6803a" fill-opacity="1.0"/>
<path d="M483.71 582.1h0.90v2.4h-0.90zM487.28 582.1h0.90v2.4h-0.90zM498.23 582.1h0.90v2.4h-0.90zM522.98 582.1h0.90v2.4h-0.90zM542.01 582.1h0.90v2.4h-0.90zM577.00 582.1h0.90v2.4h-0.90zM565.43 582.1h0.90v2.4h-0.90zM602.31 582.1h0.90v2.4h-0.90z" fill="#e6803a" fill-opacity="0.30"/>
<rect x="471.50" y="577.50" width="153.00" height="8.00" fill="none" stroke="#262626" stroke-width="1.2"/>
<rect x="471.50" y="587.50" width="153.00" height="8.00" fill="#fff"/>
<defs><linearGradient id="pg5875_471" x1="0" x2="1"><stop offset="0" stop-color="#f6d2cf"/><stop offset="0.04" stop-color="#f8e6e4"/><stop offset="0.06" stop-color="#f5f5f5"/><stop offset="1" stop-color="#f2f2f5"/></linearGradient></defs>
<rect x="472.00" y="592.10" width="152.00" height="2.40" fill="url(#pg5875_471)"/>
<path d="M482.46 588h0.90v4.1h-0.90zM494.80 588h0.90v4.1h-0.90zM493.26 588h0.90v4.1h-0.90zM499.97 588h0.90v4.1h-0.90zM503.55 588h0.90v4.1h-0.90zM530.99 588h0.90v4.1h-0.90zM519.98 588h0.90v4.1h-0.90zM529.28 588h0.90v4.1h-0.90zM515.75 588h0.90v4.1h-0.90zM532.40 588h0.90v4.1h-0.90zM518.75 588h0.90v4.1h-0.90zM517.30 588h0.90v4.1h-0.90zM525.40 588h0.90v4.1h-0.90zM518.67 588h0.90v4.1h-0.90zM544.29 588h0.90v4.1h-0.90zM569.41 588h0.90v4.1h-0.90zM561.36 588h0.90v4.1h-0.90zM567.66 588h0.90v4.1h-0.90zM590.06 588h0.90v4.1h-0.90z" fill="#3aa85a" fill-opacity="0.6"/>
<path d="M482.46 592.1h0.90v2.4h-0.90zM494.80 592.1h0.90v2.4h-0.90zM493.26 592.1h0.90v2.4h-0.90zM499.97 592.1h0.90v2.4h-0.90zM503.55 592.1h0.90v2.4h-0.90zM530.99 592.1h0.90v2.4h-0.90zM519.98 592.1h0.90v2.4h-0.90zM529.28 592.1h0.90v2.4h-0.90zM515.75 592.1h0.90v2.4h-0.90zM532.40 592.1h0.90v2.4h-0.90zM518.75 592.1h0.90v2.4h-0.90zM517.30 592.1h0.90v2.4h-0.90zM525.40 592.1h0.90v2.4h-0.90zM518.67 592.1h0.90v2.4h-0.90zM544.29 592.1h0.90v2.4h-0.90zM569.41 592.1h0.90v2.4h-0.90zM561.36 592.1h0.90v2.4h-0.90zM567.66 592.1h0.90v2.4h-0.90zM590.06 592.1h0.90v2.4h-0.90z" fill="#3aa85a" fill-opacity="0.18"/>
<path d="M481.75 588h0.90v4.1h-0.90zM490.08 588h0.90v4.1h-0.90zM487.11 588h0.90v4.1h-0.90zM492.29 588h0.90v4.1h-0.90zM501.58 588h0.90v4.1h-0.90zM507.76 588h0.90v4.1h-0.90zM513.93 588h0.90v4.1h-0.90zM530.01 588h0.90v4.1h-0.90zM567.71 588h0.90v4.1h-0.90zM572.16 588h0.90v4.1h-0.90zM569.98 588h0.90v4.1h-0.90zM573.66 588h0.90v4.1h-0.90zM590.26 588h0.90v4.1h-0.90zM599.55 588h0.90v4.1h-0.90zM615.33 588h0.90v4.1h-0.90z" fill="#3aa85a" fill-opacity="0.7"/>
<path d="M481.75 592.1h0.90v2.4h-0.90zM490.08 592.1h0.90v2.4h-0.90zM487.11 592.1h0.90v2.4h-0.90zM492.29 592.1h0.90v2.4h-0.90zM501.58 592.1h0.90v2.4h-0.90zM507.76 592.1h0.90v2.4h-0.90zM513.93 592.1h0.90v2.4h-0.90zM530.01 592.1h0.90v2.4h-0.90zM567.71 592.1h0.90v2.4h-0.90zM572.16 592.1h0.90v2.4h-0.90zM569.98 592.1h0.90v2.4h-0.90zM573.66 592.1h0.90v2.4h-0.90zM590.26 592.1h0.90v2.4h-0.90zM599.55 592.1h0.90v2.4h-0.90zM615.33 592.1h0.90v2.4h-0.90z" fill="#3aa85a" fill-opacity="0.21"/>
<path d="M481.86 588h0.90v4.1h-0.90zM487.90 588h0.90v4.1h-0.90zM486.40 588h0.90v4.1h-0.90zM487.08 588h0.90v4.1h-0.90zM501.31 588h0.90v4.1h-0.90zM498.33 588h0.90v4.1h-0.90zM503.56 588h0.90v4.1h-0.90zM499.37 588h0.90v4.1h-0.90zM504.95 588h0.90v4.1h-0.90zM507.69 588h0.90v4.1h-0.90zM525.10 588h0.90v4.1h-0.90zM563.97 588h0.90v4.1h-0.90zM561.08 588h0.90v4.1h-0.90zM569.39 588h0.90v4.1h-0.90zM588.28 588h0.90v4.1h-0.90zM609.20 588h0.90v4.1h-0.90z" fill="#3aa85a" fill-opacity="0.8"/>
<path d="M481.86 592.1h0.90v2.4h-0.90zM487.90 592.1h0.90v2.4h-0.90zM486.40 592.1h0.90v2.4h-0.90zM487.08 592.1h0.90v2.4h-0.90zM501.31 592.1h0.90v2.4h-0.90zM498.33 592.1h0.90v2.4h-0.90zM503.56 592.1h0.90v2.4h-0.90zM499.37 592.1h0.90v2.4h-0.90zM504.95 592.1h0.90v2.4h-0.90zM507.69 592.1h0.90v2.4h-0.90zM525.10 592.1h0.90v2.4h-0.90zM563.97 592.1h0.90v2.4h-0.90zM561.08 592.1h0.90v2.4h-0.90zM569.39 592.1h0.90v2.4h-0.90zM588.28 592.1h0.90v2.4h-0.90zM609.20 592.1h0.90v2.4h-0.90z" fill="#3aa85a" fill-opacity="0.24"/>
<path d="M498.10 588h0.90v4.1h-0.90zM506.27 588h0.90v4.1h-0.90zM519.63 588h0.90v4.1h-0.90zM522.49 588h0.90v4.1h-0.90zM524.30 588h0.90v4.1h-0.90zM524.24 588h0.90v4.1h-0.90zM542.12 588h0.90v4.1h-0.90zM571.40 588h0.90v4.1h-0.90zM575.22 588h0.90v4.1h-0.90zM571.47 588h0.90v4.1h-0.90zM576.99 588h0.90v4.1h-0.90zM572.26 588h0.90v4.1h-0.90zM575.28 588h0.90v4.1h-0.90zM571.28 588h0.90v4.1h-0.90z" fill="#3aa85a" fill-opacity="0.9"/>
<path d="M498.10 592.1h0.90v2.4h-0.90zM506.27 592.1h0.90v2.4h-0.90zM519.63 592.1h0.90v2.4h-0.90zM522.49 592.1h0.90v2.4h-0.90zM524.30 592.1h0.90v2.4h-0.90zM524.24 592.1h0.90v2.4h-0.90zM542.12 592.1h0.90v2.4h-0.90zM571.40 592.1h0.90v2.4h-0.90zM575.22 592.1h0.90v2.4h-0.90zM571.47 592.1h0.90v2.4h-0.90zM576.99 592.1h0.90v2.4h-0.90zM572.26 592.1h0.90v2.4h-0.90zM575.28 592.1h0.90v2.4h-0.90zM571.28 592.1h0.90v2.4h-0.90z" fill="#3aa85a" fill-opacity="0.27"/>
<path d="M495.13 588h0.90v4.1h-0.90zM493.64 588h0.90v4.1h-0.90zM511.87 588h0.90v4.1h-0.90zM511.53 588h0.90v4.1h-0.90zM527.39 588h0.90v4.1h-0.90zM543.89 588h0.90v4.1h-0.90zM540.25 588h0.90v4.1h-0.90zM562.61 588h0.90v4.1h-0.90zM608.25 588h0.90v4.1h-0.90z" fill="#3aa85a" fill-opacity="1.0"/>
<path d="M495.13 592.1h0.90v2.4h-0.90zM493.64 592.1h0.90v2.4h-0.90zM511.87 592.1h0.90v2.4h-0.90zM511.53 592.1h0.90v2.4h-0.90zM527.39 592.1h0.90v2.4h-0.90zM543.89 592.1h0.90v2.4h-0.90zM540.25 592.1h0.90v2.4h-0.90zM562.61 592.1h0.90v2.4h-0.90zM608.25 592.1h0.90v2.4h-0.90z" fill="#3aa85a" fill-opacity="0.30"/>
<rect x="471.50" y="587.50" width="153.00" height="8.00" fill="none" stroke="#262626" stroke-width="1.2"/>
<rect x="471.50" y="597.50" width="153.00" height="7.00" fill="#fff"/>
<defs><linearGradient id="pg5975_471" x1="0" x2="1"><stop offset="0" stop-color="#f6d2cf"/><stop offset="0.04" stop-color="#f8e6e4"/><stop offset="0.06" stop-color="#f5f5f5"/><stop offset="1" stop-color="#f2f2f5"/></linearGradient></defs>
<rect x="472.00" y="601.40" width="152.00" height="2.10" fill="url(#pg5975_471)"/>
<path d="M495.19 598h0.90v3.4h-0.90zM476.73 598h0.90v3.4h-0.90zM483.18 598h0.90v3.4h-0.90zM491.80 598h0.90v3.4h-0.90zM487.86 598h0.90v3.4h-0.90zM502.76 598h0.90v3.4h-0.90zM501.92 598h0.90v3.4h-0.90zM510.15 598h0.90v3.4h-0.90zM526.01 598h0.90v3.4h-0.90zM519.00 598h0.90v3.4h-0.90zM524.69 598h0.90v3.4h-0.90zM528.63 598h0.90v3.4h-0.90zM542.48 598h0.90v3.4h-0.90zM545.21 598h0.90v3.4h-0.90zM544.83 598h0.90v3.4h-0.90zM558.61 598h0.90v3.4h-0.90zM575.18 598h0.90v3.4h-0.90zM596.26 598h0.90v3.4h-0.90zM608.37 598h0.90v3.4h-0.90zM614.84 598h0.90v3.4h-0.90z" fill="#7d4bb2" fill-opacity="0.6"/>
<path d="M495.19 601.4h0.90v2.1h-0.90zM476.73 601.4h0.90v2.1h-0.90zM483.18 601.4h0.90v2.1h-0.90zM491.80 601.4h0.90v2.1h-0.90zM487.86 601.4h0.90v2.1h-0.90zM502.76 601.4h0.90v2.1h-0.90zM501.92 601.4h0.90v2.1h-0.90zM510.15 601.4h0.90v2.1h-0.90zM526.01 601.4h0.90v2.1h-0.90zM519.00 601.4h0.90v2.1h-0.90zM524.69 601.4h0.90v2.1h-0.90zM528.63 601.4h0.90v2.1h-0.90zM542.48 601.4h0.90v2.1h-0.90zM545.21 601.4h0.90v2.1h-0.90zM544.83 601.4h0.90v2.1h-0.90zM558.61 601.4h0.90v2.1h-0.90zM575.18 601.4h0.90v2.1h-0.90zM596.26 601.4h0.90v2.1h-0.90zM608.37 601.4h0.90v2.1h-0.90zM614.84 601.4h0.90v2.1h-0.90z" fill="#7d4bb2" fill-opacity="0.18"/>
<path d="M486.31 598h0.90v3.4h-0.90zM480.82 598h0.90v3.4h-0.90zM494.49 598h0.90v3.4h-0.90zM503.89 598h0.90v3.4h-0.90zM513.83 598h0.90v3.4h-0.90zM523.42 598h0.90v3.4h-0.90zM525.64 598h0.90v3.4h-0.90zM528.30 598h0.90v3.4h-0.90zM521.73 598h0.90v3.4h-0.90zM543.56 598h0.90v3.4h-0.90zM560.68 598h0.90v3.4h-0.90zM569.15 598h0.90v3.4h-0.90zM563.93 598h0.90v3.4h-0.90zM569.78 598h0.90v3.4h-0.90zM563.98 598h0.90v3.4h-0.90zM595.42 598h0.90v3.4h-0.90zM589.78 598h0.90v3.4h-0.90z" fill="#7d4bb2" fill-opacity="0.7"/>
<path d="M486.31 601.4h0.90v2.1h-0.90zM480.82 601.4h0.90v2.1h-0.90zM494.49 601.4h0.90v2.1h-0.90zM503.89 601.4h0.90v2.1h-0.90zM513.83 601.4h0.90v2.1h-0.90zM523.42 601.4h0.90v2.1h-0.90zM525.64 601.4h0.90v2.1h-0.90zM528.30 601.4h0.90v2.1h-0.90zM521.73 601.4h0.90v2.1h-0.90zM543.56 601.4h0.90v2.1h-0.90zM560.68 601.4h0.90v2.1h-0.90zM569.15 601.4h0.90v2.1h-0.90zM563.93 601.4h0.90v2.1h-0.90zM569.78 601.4h0.90v2.1h-0.90zM563.98 601.4h0.90v2.1h-0.90zM595.42 601.4h0.90v2.1h-0.90zM589.78 601.4h0.90v2.1h-0.90z" fill="#7d4bb2" fill-opacity="0.21"/>
<path d="M488.83 598h0.90v3.4h-0.90zM495.58 598h0.90v3.4h-0.90zM486.65 598h0.90v3.4h-0.90zM494.93 598h0.90v3.4h-0.90zM495.48 598h0.90v3.4h-0.90zM478.90 598h0.90v3.4h-0.90zM479.08 598h0.90v3.4h-0.90zM506.53 598h0.90v3.4h-0.90zM508.63 598h0.90v3.4h-0.90zM504.94 598h0.90v3.4h-0.90zM509.73 598h0.90v3.4h-0.90zM526.37 598h0.90v3.4h-0.90zM523.19 598h0.90v3.4h-0.90zM529.07 598h0.90v3.4h-0.90zM529.18 598h0.90v3.4h-0.90zM527.44 598h0.90v3.4h-0.90zM525.80 598h0.90v3.4h-0.90zM558.79 598h0.90v3.4h-0.90zM565.84 598h0.90v3.4h-0.90zM563.15 598h0.90v3.4h-0.90zM569.77 598h0.90v3.4h-0.90zM562.42 598h0.90v3.4h-0.90zM576.32 598h0.90v3.4h-0.90zM591.01 598h0.90v3.4h-0.90z" fill="#7d4bb2" fill-opacity="0.8"/>
<path d="M488.83 601.4h0.90v2.1h-0.90zM495.58 601.4h0.90v2.1h-0.90zM486.65 601.4h0.90v2.1h-0.90zM494.93 601.4h0.90v2.1h-0.90zM495.48 601.4h0.90v2.1h-0.90zM478.90 601.4h0.90v2.1h-0.90zM479.08 601.4h0.90v2.1h-0.90zM506.53 601.4h0.90v2.1h-0.90zM508.63 601.4h0.90v2.1h-0.90zM504.94 601.4h0.90v2.1h-0.90zM509.73 601.4h0.90v2.1h-0.90zM526.37 601.4h0.90v2.1h-0.90zM523.19 601.4h0.90v2.1h-0.90zM529.07 601.4h0.90v2.1h-0.90zM529.18 601.4h0.90v2.1h-0.90zM527.44 601.4h0.90v2.1h-0.90zM525.80 601.4h0.90v2.1h-0.90zM558.79 601.4h0.90v2.1h-0.90zM565.84 601.4h0.90v2.1h-0.90zM563.15 601.4h0.90v2.1h-0.90zM569.77 601.4h0.90v2.1h-0.90zM562.42 601.4h0.90v2.1h-0.90zM576.32 601.4h0.90v2.1h-0.90zM591.01 601.4h0.90v2.1h-0.90z" fill="#7d4bb2" fill-opacity="0.24"/>
<path d="M489.65 598h0.90v3.4h-0.90zM487.94 598h0.90v3.4h-0.90zM487.59 598h0.90v3.4h-0.90zM502.55 598h0.90v3.4h-0.90zM500.48 598h0.90v3.4h-0.90zM504.29 598h0.90v3.4h-0.90zM513.92 598h0.90v3.4h-0.90zM517.43 598h0.90v3.4h-0.90zM531.48 598h0.90v3.4h-0.90zM568.79 598h0.90v3.4h-0.90zM558.96 598h0.90v3.4h-0.90zM595.79 598h0.90v3.4h-0.90zM608.54 598h0.90v3.4h-0.90z" fill="#7d4bb2" fill-opacity="0.9"/>
<path d="M489.65 601.4h0.90v2.1h-0.90zM487.94 601.4h0.90v2.1h-0.90zM487.59 601.4h0.90v2.1h-0.90zM502.55 601.4h0.90v2.1h-0.90zM500.48 601.4h0.90v2.1h-0.90zM504.29 601.4h0.90v2.1h-0.90zM513.92 601.4h0.90v2.1h-0.90zM517.43 601.4h0.90v2.1h-0.90zM531.48 601.4h0.90v2.1h-0.90zM568.79 601.4h0.90v2.1h-0.90zM558.96 601.4h0.90v2.1h-0.90zM595.79 601.4h0.90v2.1h-0.90zM608.54 601.4h0.90v2.1h-0.90z" fill="#7d4bb2" fill-opacity="0.27"/>
<path d="M480.71 598h0.90v3.4h-0.90zM476.62 598h0.90v3.4h-0.90zM514.08 598h0.90v3.4h-0.90zM499.12 598h0.90v3.4h-0.90zM506.47 598h0.90v3.4h-0.90zM532.91 598h0.90v3.4h-0.90zM519.80 598h0.90v3.4h-0.90zM567.41 598h0.90v3.4h-0.90zM568.81 598h0.90v3.4h-0.90z" fill="#7d4bb2" fill-opacity="1.0"/>
<path d="M480.71 601.4h0.90v2.1h-0.90zM476.62 601.4h0.90v2.1h-0.90zM514.08 601.4h0.90v2.1h-0.90zM499.12 601.4h0.90v2.1h-0.90zM506.47 601.4h0.90v2.1h-0.90zM532.91 601.4h0.90v2.1h-0.90zM519.80 601.4h0.90v2.1h-0.90zM567.41 601.4h0.90v2.1h-0.90zM568.81 601.4h0.90v2.1h-0.90z" fill="#7d4bb2" fill-opacity="0.30"/>
<rect x="471.50" y="597.50" width="153.00" height="7.00" fill="none" stroke="#262626" stroke-width="1.2"/>
<rect x="471.00" y="604.50" width="154.00" height="2.00" fill="#a0a0a0"/>
<path d="M472.0,620.3 L472.0,617.3 C475.5,618.8 481.5,619.6999999999999 501.5,620.0999999999999 L594.5,620.5 C614.5,620.9 620.5,621.8 624.0,623.3 L624.0,620.3 Z" fill="#c8c8c8"/>
<line x1="471.5" y1="620.3" x2="624.5" y2="620.3" stroke="#111" stroke-width="0.9" stroke-dasharray="4.7,2.8"/>
<rect x="471.50" y="606.50" width="153.00" height="27.00" fill="none" stroke="#1e1e1e" stroke-width="1.0"/>
<line x1="470" y1="606.7" x2="471.5" y2="606.7" stroke="#444" stroke-width="0.5" />
<text x="470.1" y="608" font-size="3.60" fill="#444" text-anchor="end">5.0</text>
<line x1="470" y1="613.5" x2="471.5" y2="613.5" stroke="#444" stroke-width="0.5" />
<text x="470.1" y="614.8" font-size="3.60" fill="#444" text-anchor="end">2.5</text>
<line x1="470" y1="620.3" x2="471.5" y2="620.3" stroke="#444" stroke-width="0.5" />
<text x="470.1" y="621.6" font-size="3.60" fill="#444" text-anchor="end">0.0</text>
<line x1="470" y1="627.5" x2="471.5" y2="627.5" stroke="#444" stroke-width="0.5" />
<text x="470.1" y="628.8" font-size="3.60" fill="#444" text-anchor="end">−2.5</text>
<text x="460.7" y="620" font-size="4.10" fill="#333" text-anchor="middle" transform="rotate(-90 460.7 620)">Ranked List</text>
<text x="473" y="613.2" font-size="6.20" fill="#222">Treatment</text>
<text x="620.2" y="613.2" font-size="6.20" fill="#222" text-anchor="end">Control</text>
<line x1="522.4" y1="633.5" x2="522.4" y2="635" stroke="#444" stroke-width="0.5" />
<text x="522.4" y="640.8" font-size="4.20" fill="#444" text-anchor="middle">5000</text>
<line x1="575.8" y1="633.5" x2="575.8" y2="635" stroke="#444" stroke-width="0.5" />
<text x="575.8" y="640.8" font-size="4.20" fill="#444" text-anchor="middle">10000</text>
<text x="548.3" y="646.2" font-size="4.20" fill="#333" text-anchor="middle">Rank in Ordered Dataset</text>
<rect x="597.70" y="511.80" width="5.50" height="3.20" fill="#34466d"/>
<text transform="translate(605 515.1) scale(1 1.15)" font-size="4.00" fill="#333">BACH2</text>
<rect x="597.70" y="516.50" width="5.50" height="3.20" fill="#e6803a"/>
<text transform="translate(605 519.8) scale(1 1.15)" font-size="4.00" fill="#333">FOXO1</text>
<rect x="597.70" y="521.20" width="5.50" height="3.20" fill="#3aa85a"/>
<text transform="translate(605 524.5) scale(1 1.15)" font-size="4.00" fill="#333">LEF1</text>
<rect x="597.70" y="526.10" width="5.50" height="3.20" fill="#7d4bb2"/>
<text transform="translate(605 529.4) scale(1 1.15)" font-size="4.00" fill="#333">TCF7</text>
<text x="473.4" y="680.5" font-size="8.76" fill="#111">NR4A Family Transcription Factors</text>
<line x1="471.5" y1="700.5" x2="624.5" y2="700.5" stroke="#111" stroke-width="1.5" stroke-dasharray="8.5,8"/>
<polyline points="471.2,700.1 472.2,700.3 473.3,700.6 474.3,701.2 475.3,701.5 476.4,701.3 477.4,701.9 478.4,702.7 479.4,703.8 480.4,704.4 481.4,703.7 482.5,703.6 483.5,702.8 484.5,702.5 485.6,698.6 486.6,694.6 487.6,694.8 488.6,694.1 489.7,694.7 490.7,694.8 491.7,694.5 492.7,691.9 493.7,689.9 494.7,689.3 495.8,689.3 496.8,689.4 497.8,689.9 498.8,688.6 499.9,688.1 500.9,688 501.9,688.6 502.9,688.2 503.9,688.2 505,686.7 506,686.1 507,686.9 508,686.8 509,688.3 510.1,687.7 511.1,687.6 512.1,686.8 513.1,687.6 514,687.8 514.9,689.1 515.8,688.9 516.7,688.6 517.7,687.7 518.6,687.8 519.5,688.5 520.4,688.9 521.3,689.5 522.3,689.9 523.3,689.7 524.3,689.9 525.4,689.9 526.4,689.1 527.4,690.3 528.4,690.9 529.3,690.6 530.3,691.4 531.2,692.1 532.2,693.2 533.1,694.5 534.1,692.9 535,694 536,695.6 536.9,695.5 537.9,695 538.8,696 539.8,697 540.7,697.9 541.7,697.8 542.6,698.2 543.6,699 544.5,700 545.4,701.7 546.4,702 547.3,701.8 548.2,700.8 549.2,702.1 550.1,702.5 551,703 552,702.9 552.9,704 553.8,703.4 554.7,704.2 555.7,704.9 556.6,705.7 557.5,707 558.5,707.2 559.4,707.7 560.3,708.6 561.3,707.9 562.2,708.3 563.1,708.7 564.1,709.7 565,709.5 565.9,710.3 566.8,710.8 567.8,710.1 568.7,709.7 569.6,709.5 570.5,710.4 571.5,711.1 572.4,712.1 573.3,713 574.3,712.9 575.2,713.9 576.1,714.5 577,714.9 578,715.3 578.9,714.6 579.8,715.1 580.7,714.8 581.7,714.5 582.6,714.9 583.5,715.5 584.4,715.8 585.3,716 586.3,715.8 587.2,716.4 588.1,716.4 589,716 589.9,716.7 590.8,718.1 591.8,718.1 592.7,717.7 593.6,719 594.5,720.2 595.4,719.9 596.3,719.9 597.3,720.1 598.2,722 599.1,721.8 600,722.2 600.9,722.4 601.9,721.3 602.8,721 603.7,720.8 604.6,721.8 605.6,722.4 606.5,723.9 607.4,724 608.3,724.4 609.3,724.8 610.2,725.1 611.1,726.8 612,726.9 613,727.9 613.9,728.5 614.9,724.8 615.9,722.1 616.8,718.7 617.8,715.7 618.8,712.8 619.7,711.7 620.7,710.4 621.6,710.4 622.8,706.3 624,702" fill="none" stroke="#4aa88a" stroke-width="1.2" stroke-linejoin="round" />
<polyline points="471.2,700.4 472.2,700.2 473.2,699.1 474.3,698.3 475.3,697.6 476.3,696.6 477.2,697 478.1,695.3 479,696.1 479.9,695.5 480.9,694 481.8,693.4 482.7,692.6 483.6,692.7 484.5,691.9 485.4,691.8 486.3,692.5 487.2,693 488.1,692.8 489.1,693 490,693.3 490.9,693.7 491.8,693.9 492.7,694 493.6,694.8 494.5,693.9 495.4,694 496.3,694.5 497.3,694.6 498.2,694.6 499.1,694.7 500,695.3 500.9,696.3 501.8,696 502.7,695.6 503.6,695.6 504.5,695.3 505.4,693.9 506.3,694.2 507.2,694 508.1,693.7 509,694.1 509.9,694.3 510.9,694.1 511.8,693 512.8,692.4 513.7,693.1 514.7,693.5 515.6,694.2 516.6,694.6 517.5,694.5 518.5,694 519.4,693.7 520.4,694.1 521.3,693.8 522.2,695 523.2,694.8 524.1,694.4 525,695.2 525.9,694.9 526.9,696.9 527.8,696.8 528.7,697.5 529.6,697.9 530.6,698 531.5,697.6 532.4,697.3 533.4,698.9 534.3,700.2 535.2,702 536.1,701.2 537.1,702 538,702.3 538.9,703.1 539.8,703 540.8,703.8 541.7,704.6 542.6,705.2 543.6,706.4 544.5,706.4 545.4,707.6 546.4,707.3 547.3,708.6 548.2,707.1 549.2,707.8 550.1,707.9 551,708.7 552,710 552.9,710.9 553.8,711.4 554.7,712.8 555.7,712.2 556.6,712.2 557.5,713.7 558.5,714.3 559.4,713.5 560.3,714.4 561.3,714.4 562.2,716.1 563.1,717.1 564.1,717 565,718.1 565.9,717.8 566.8,718.7 567.8,719.3 568.7,719.4 569.6,718.8 570.5,719.1 571.5,718.3 572.4,718.8 573.3,718.5 574.3,720.3 575.2,720.3 576.1,719.6 577,721 578,722 578.9,722.4 579.8,724.3 580.7,725 581.7,725.3 582.6,725.1 583.6,723.8 584.7,725.1 585.7,726.4 586.7,726.6 587.8,726.4 588.8,727.2 589.7,726.4 590.7,726.8 591.6,727.5 592.5,728.5 593.5,728.5 594.4,728.4 595.3,728.7 596.3,729.3 597.2,728.7 598.1,727.7 599.1,727.2 600,726.6 601,726.4 601.9,726.7 602.9,727.2 603.9,727.5 604.9,727.7 605.8,727.6 606.8,728 607.8,728.6 608.8,729 609.7,729.8 610.7,729.3 611.7,728.2 612.7,728.4 613.7,727.5 614.7,726.8 615.7,725.6 616.7,725.4 617.7,722.3 618.8,719.1 619.8,716.6 620.8,713.8 621.9,711.3 622.9,708 624,705" fill="none" stroke="#d94545" stroke-width="1.2" stroke-linejoin="round" />
<polyline points="471.2,700.1 472.2,699.1 473.2,698.5 474.3,697.3 475.3,697.3 476.3,695.5 477.3,695.9 478.4,696.1 479.4,697.2 480.4,697.7 481.3,698.1 482.2,698 483.1,697.6 484,697.1 485,697.3 485.9,697.2 486.8,697.7 487.7,698.2 488.6,698.9 489.5,699 490.5,698.7 491.4,698.4 492.4,698.9 493.3,699.5 494.3,700.9 495.2,701 496.2,702.1 497.1,703 498.1,702.1 499,702.7 500,703.2 500.9,703.8 501.8,703.2 502.7,703.3 503.6,702.5 504.5,702.2 505.4,702 506.3,702.8 507.2,702.3 508.1,702.6 509,702.2 509.9,701.8 510.9,702.1 511.8,702.7 512.8,702.3 513.7,703 514.7,702.7 515.6,702.4 516.6,703 517.5,703.2 518.5,702.9 519.4,702.4 520.4,703.1 521.3,703.8 522.2,704.2 523.2,705 524.1,704.7 525,705.7 525.9,706.6 526.9,707.3 527.8,707.5 528.7,708.1 529.6,708.7 530.6,709.8 531.5,710.3 532.4,710.8 533.4,710.7 534.3,711.7 535.2,712.7 536.1,712.6 537.1,713.3 538,713.8 538.9,714 539.8,713.6 540.8,715.2 541.7,714.4 542.6,715.1 543.6,715.4 544.5,716.7 545.4,716.8 546.4,717.3 547.3,718.1 548.2,718.7 549.2,718.7 550.1,719.5 551,720.1 552,721 552.9,720.9 553.8,721.2 554.7,721.3 555.7,721.3 556.6,722 557.5,722.8 558.5,724.1 559.4,724.1 560.3,724.7 561.3,725.7 562.2,725.8 563.1,726 564.1,726.4 565,726.3 565.9,726.1 566.8,727.3 567.8,727.8 568.7,728.1 569.6,727.8 570.5,728.4 571.5,729.6 572.4,729.3 573.3,729.3 574.3,730.5 575.2,731.8 576.1,732.9 577,732.6 578,733.2 578.9,732.9 579.8,733.6 580.7,733.6 581.7,734.1 582.6,735.3 583.5,735.5 584.4,735.4 585.3,735.6 586.3,735.9 587.2,735.7 588.1,736.1 589,736.7 589.9,737.7 590.8,736.5 591.8,736.1 592.7,735.8 593.6,737 594.5,738.8 595.4,739 596.3,739.1 597.3,739.8 598.2,738.3 599.1,738.6 600,737.2 601,737.8 601.9,737.9 602.9,737.9 603.9,738.4 604.9,738.3 605.8,739.2 606.8,739.1 607.8,739.4 608.8,740.8 609.7,740.1 610.7,740.4 611.7,738.6 612.6,738.3 613.6,737.6 614.5,736.4 615.5,735.7 616.6,732.3 617.7,728.6 618.8,724.1 619.7,719.6 620.7,715.9 621.6,710.5 622.8,705 624,700" fill="none" stroke="#7b4a9e" stroke-width="1.2" stroke-linejoin="round" />
<rect x="477.50" y="718.50" width="61.00" height="19.95" fill="#fff"/>
<rect x="478.00" y="719.00" width="9.90" height="3.40" fill="#c9c9c9"/>
<text x="482.9" y="721.9" font-size="3.30" fill="#222" text-anchor="middle" font-weight="bold">NES</text>
<rect x="490.00" y="719.00" width="13.80" height="3.40" fill="#c9c9c9"/>
<text x="496.9" y="721.9" font-size="3.30" fill="#222" text-anchor="middle" font-weight="bold">Pvalue</text>
<rect x="505.60" y="719.00" width="32.40" height="3.40" fill="#c9c9c9"/>
<text x="521.8" y="721.9" font-size="3.30" fill="#222" text-anchor="middle" font-weight="bold">Adjusted Pvalue</text>
<rect x="478.00" y="723.45" width="9.90" height="4.00" fill="#e9e9e9"/>
<text x="482.9" y="726.7" font-size="3.40" fill="#4aa88a" text-anchor="middle" font-weight="bold">−1.09</text>
<rect x="490.00" y="723.45" width="13.80" height="4.00" fill="#e9e9e9"/>
<text x="496.9" y="726.7" font-size="3.40" fill="#4aa88a" text-anchor="middle" font-weight="bold">0.20</text>
<rect x="505.60" y="723.45" width="32.40" height="4.00" fill="#e9e9e9"/>
<text x="521.8" y="726.7" font-size="3.40" fill="#4aa88a" text-anchor="middle" font-weight="bold">0.20</text>
<rect x="478.00" y="728.50" width="9.90" height="4.00" fill="#dcdcdc"/>
<text x="482.9" y="731.7" font-size="3.40" fill="#d94545" text-anchor="middle" font-weight="bold">−1.24</text>
<rect x="490.00" y="728.50" width="13.80" height="4.00" fill="#dcdcdc"/>
<text x="496.9" y="731.7" font-size="3.40" fill="#d94545" text-anchor="middle" font-weight="bold">0.06</text>
<rect x="505.60" y="728.50" width="32.40" height="4.00" fill="#dcdcdc"/>
<text x="521.8" y="731.7" font-size="3.40" fill="#d94545" text-anchor="middle" font-weight="bold">0.09</text>
<rect x="478.00" y="733.55" width="9.90" height="4.00" fill="#e9e9e9"/>
<text x="482.9" y="736.8" font-size="3.40" fill="#7b4a9e" text-anchor="middle" font-weight="bold">−1.60</text>
<rect x="490.00" y="733.55" width="13.80" height="4.00" fill="#e9e9e9"/>
<text x="496.9" y="736.8" font-size="3.40" fill="#7b4a9e" text-anchor="middle" font-weight="bold">0.01</text>
<rect x="505.60" y="733.55" width="32.40" height="4.00" fill="#e9e9e9"/>
<text x="521.8" y="736.8" font-size="3.40" fill="#7b4a9e" text-anchor="middle" font-weight="bold">0.01</text>
<rect x="471.50" y="683.50" width="153.00" height="59.00" fill="none" stroke="#1e1e1e" stroke-width="1.0"/>
<line x1="470" y1="684.2" x2="471.5" y2="684.2" stroke="#444" stroke-width="0.5" />
<text x="470.1" y="685.5" font-size="3.60" fill="#444" text-anchor="end">0.2</text>
<line x1="470" y1="700.5" x2="471.5" y2="700.5" stroke="#444" stroke-width="0.5" />
<text x="470.1" y="701.8" font-size="3.60" fill="#444" text-anchor="end">0.0</text>
<line x1="470" y1="717.5" x2="471.5" y2="717.5" stroke="#444" stroke-width="0.5" />
<text x="470.1" y="718.8" font-size="3.60" fill="#444" text-anchor="end">−0.2</text>
<line x1="470" y1="734.3" x2="471.5" y2="734.3" stroke="#444" stroke-width="0.5" />
<text x="470.1" y="735.6" font-size="3.60" fill="#444" text-anchor="end">−0.4</text>
<text x="460.7" y="713" font-size="4.10" fill="#333" text-anchor="middle" transform="rotate(-90 460.7 713)">Running Enrichment Score</text>
<rect x="471.50" y="743.50" width="153.00" height="12.00" fill="#fff"/>
<defs><linearGradient id="pg7435_471" x1="0" x2="1"><stop offset="0" stop-color="#f6d2cf"/><stop offset="0.1" stop-color="#f8e6e4"/><stop offset="0.12000000000000001" stop-color="#f5f5f5"/><stop offset="1" stop-color="#f2f2f5"/></linearGradient></defs>
<rect x="472.00" y="750.90" width="152.00" height="3.60" fill="url(#pg7435_471)"/>
<path d="M522.34 744h0.90v6.9h-0.90zM500.47 744h0.90v6.9h-0.90zM558.08 744h0.90v6.9h-0.90zM556.77 744h0.90v6.9h-0.90zM568.46 744h0.90v6.9h-0.90zM546.86 744h0.90v6.9h-0.90zM612.06 744h0.90v6.9h-0.90z" fill="#4aa88a" fill-opacity="0.6"/>
<path d="M522.34 750.9h0.90v3.6h-0.90zM500.47 750.9h0.90v3.6h-0.90zM558.08 750.9h0.90v3.6h-0.90zM556.77 750.9h0.90v3.6h-0.90zM568.46 750.9h0.90v3.6h-0.90zM546.86 750.9h0.90v3.6h-0.90zM612.06 750.9h0.90v3.6h-0.90z" fill="#4aa88a" fill-opacity="0.18"/>
<path d="M492.86 744h0.90v6.9h-0.90zM480.38 744h0.90v6.9h-0.90zM478.60 744h0.90v6.9h-0.90zM481.61 744h0.90v6.9h-0.90zM482.39 744h0.90v6.9h-0.90zM494.86 744h0.90v6.9h-0.90zM517.62 744h0.90v6.9h-0.90zM509.89 744h0.90v6.9h-0.90zM525.70 744h0.90v6.9h-0.90zM536.93 744h0.90v6.9h-0.90zM551.77 744h0.90v6.9h-0.90zM547.53 744h0.90v6.9h-0.90zM551.19 744h0.90v6.9h-0.90zM563.17 744h0.90v6.9h-0.90zM551.20 744h0.90v6.9h-0.90zM589.95 744h0.90v6.9h-0.90zM596.43 744h0.90v6.9h-0.90zM599.78 744h0.90v6.9h-0.90zM618.49 744h0.90v6.9h-0.90zM614.17 744h0.90v6.9h-0.90z" fill="#4aa88a" fill-opacity="0.7"/>
<path d="M492.86 750.9h0.90v3.6h-0.90zM480.38 750.9h0.90v3.6h-0.90zM478.60 750.9h0.90v3.6h-0.90zM481.61 750.9h0.90v3.6h-0.90zM482.39 750.9h0.90v3.6h-0.90zM494.86 750.9h0.90v3.6h-0.90zM517.62 750.9h0.90v3.6h-0.90zM509.89 750.9h0.90v3.6h-0.90zM525.70 750.9h0.90v3.6h-0.90zM536.93 750.9h0.90v3.6h-0.90zM551.77 750.9h0.90v3.6h-0.90zM547.53 750.9h0.90v3.6h-0.90zM551.19 750.9h0.90v3.6h-0.90zM563.17 750.9h0.90v3.6h-0.90zM551.20 750.9h0.90v3.6h-0.90zM589.95 750.9h0.90v3.6h-0.90zM596.43 750.9h0.90v3.6h-0.90zM599.78 750.9h0.90v3.6h-0.90zM618.49 750.9h0.90v3.6h-0.90zM614.17 750.9h0.90v3.6h-0.90z" fill="#4aa88a" fill-opacity="0.21"/>
<path d="M490.45 744h0.90v6.9h-0.90zM495.69 744h0.90v6.9h-0.90zM477.23 744h0.90v6.9h-0.90zM492.70 744h0.90v6.9h-0.90zM493.71 744h0.90v6.9h-0.90zM498.59 744h0.90v6.9h-0.90zM514.44 744h0.90v6.9h-0.90zM527.26 744h0.90v6.9h-0.90zM500.49 744h0.90v6.9h-0.90zM527.32 744h0.90v6.9h-0.90zM512.91 744h0.90v6.9h-0.90zM523.01 744h0.90v6.9h-0.90zM537.48 744h0.90v6.9h-0.90zM549.16 744h0.90v6.9h-0.90zM547.62 744h0.90v6.9h-0.90zM580.10 744h0.90v6.9h-0.90zM588.36 744h0.90v6.9h-0.90zM596.90 744h0.90v6.9h-0.90zM610.18 744h0.90v6.9h-0.90zM619.20 744h0.90v6.9h-0.90zM621.21 744h0.90v6.9h-0.90zM613.46 744h0.90v6.9h-0.90z" fill="#4aa88a" fill-opacity="0.8"/>
<path d="M490.45 750.9h0.90v3.6h-0.90zM495.69 750.9h0.90v3.6h-0.90zM477.23 750.9h0.90v3.6h-0.90zM492.70 750.9h0.90v3.6h-0.90zM493.71 750.9h0.90v3.6h-0.90zM498.59 750.9h0.90v3.6h-0.90zM514.44 750.9h0.90v3.6h-0.90zM527.26 750.9h0.90v3.6h-0.90zM500.49 750.9h0.90v3.6h-0.90zM527.32 750.9h0.90v3.6h-0.90zM512.91 750.9h0.90v3.6h-0.90zM523.01 750.9h0.90v3.6h-0.90zM537.48 750.9h0.90v3.6h-0.90zM549.16 750.9h0.90v3.6h-0.90zM547.62 750.9h0.90v3.6h-0.90zM580.10 750.9h0.90v3.6h-0.90zM588.36 750.9h0.90v3.6h-0.90zM596.90 750.9h0.90v3.6h-0.90zM610.18 750.9h0.90v3.6h-0.90zM619.20 750.9h0.90v3.6h-0.90zM621.21 750.9h0.90v3.6h-0.90zM613.46 750.9h0.90v3.6h-0.90z" fill="#4aa88a" fill-opacity="0.24"/>
<path d="M496.24 744h0.90v6.9h-0.90zM476.76 744h0.90v6.9h-0.90zM514.52 744h0.90v6.9h-0.90zM520.30 744h0.90v6.9h-0.90zM502.29 744h0.90v6.9h-0.90zM504.61 744h0.90v6.9h-0.90zM513.75 744h0.90v6.9h-0.90zM519.81 744h0.90v6.9h-0.90zM523.83 744h0.90v6.9h-0.90zM523.24 744h0.90v6.9h-0.90zM535.96 744h0.90v6.9h-0.90zM552.68 744h0.90v6.9h-0.90zM550.84 744h0.90v6.9h-0.90zM579.26 744h0.90v6.9h-0.90zM614.81 744h0.90v6.9h-0.90z" fill="#4aa88a" fill-opacity="0.9"/>
<path d="M496.24 750.9h0.90v3.6h-0.90zM476.76 750.9h0.90v3.6h-0.90zM514.52 750.9h0.90v3.6h-0.90zM520.30 750.9h0.90v3.6h-0.90zM502.29 750.9h0.90v3.6h-0.90zM504.61 750.9h0.90v3.6h-0.90zM513.75 750.9h0.90v3.6h-0.90zM519.81 750.9h0.90v3.6h-0.90zM523.83 750.9h0.90v3.6h-0.90zM523.24 750.9h0.90v3.6h-0.90zM535.96 750.9h0.90v3.6h-0.90zM552.68 750.9h0.90v3.6h-0.90zM550.84 750.9h0.90v3.6h-0.90zM579.26 750.9h0.90v3.6h-0.90zM614.81 750.9h0.90v3.6h-0.90z" fill="#4aa88a" fill-opacity="0.27"/>
<path d="M495.82 744h0.90v6.9h-0.90zM567.45 744h0.90v6.9h-0.90zM554.33 744h0.90v6.9h-0.90zM562.86 744h0.90v6.9h-0.90zM583.95 744h0.90v6.9h-0.90zM591.88 744h0.90v6.9h-0.90zM613.57 744h0.90v6.9h-0.90zM618.22 744h0.90v6.9h-0.90z" fill="#4aa88a" fill-opacity="1.0"/>
<path d="M495.82 750.9h0.90v3.6h-0.90zM567.45 750.9h0.90v3.6h-0.90zM554.33 750.9h0.90v3.6h-0.90zM562.86 750.9h0.90v3.6h-0.90zM583.95 750.9h0.90v3.6h-0.90zM591.88 750.9h0.90v3.6h-0.90zM613.57 750.9h0.90v3.6h-0.90zM618.22 750.9h0.90v3.6h-0.90z" fill="#4aa88a" fill-opacity="0.30"/>
<rect x="471.50" y="743.50" width="153.00" height="12.00" fill="none" stroke="#262626" stroke-width="1.2"/>
<rect x="471.50" y="755.50" width="153.00" height="13.00" fill="#fff"/>
<defs><linearGradient id="pg7555_471" x1="0" x2="1"><stop offset="0" stop-color="#f6d2cf"/><stop offset="0.1" stop-color="#f8e6e4"/><stop offset="0.12000000000000001" stop-color="#f5f5f5"/><stop offset="1" stop-color="#f2f2f5"/></linearGradient></defs>
<rect x="472.00" y="763.60" width="152.00" height="3.90" fill="url(#pg7555_471)"/>
<path d="M490.63 756h0.90v7.6h-0.90zM495.78 756h0.90v7.6h-0.90zM493.45 756h0.90v7.6h-0.90zM520.56 756h0.90v7.6h-0.90zM505.97 756h0.90v7.6h-0.90zM521.30 756h0.90v7.6h-0.90zM535.17 756h0.90v7.6h-0.90zM536.11 756h0.90v7.6h-0.90zM550.40 756h0.90v7.6h-0.90zM550.70 756h0.90v7.6h-0.90zM609.39 756h0.90v7.6h-0.90zM616.76 756h0.90v7.6h-0.90zM606.52 756h0.90v7.6h-0.90zM587.84 756h0.90v7.6h-0.90zM615.78 756h0.90v7.6h-0.90zM607.30 756h0.90v7.6h-0.90zM609.91 756h0.90v7.6h-0.90z" fill="#d94545" fill-opacity="0.6"/>
<path d="M490.63 763.6h0.90v3.9h-0.90zM495.78 763.6h0.90v3.9h-0.90zM493.45 763.6h0.90v3.9h-0.90zM520.56 763.6h0.90v3.9h-0.90zM505.97 763.6h0.90v3.9h-0.90zM521.30 763.6h0.90v3.9h-0.90zM535.17 763.6h0.90v3.9h-0.90zM536.11 763.6h0.90v3.9h-0.90zM550.40 763.6h0.90v3.9h-0.90zM550.70 763.6h0.90v3.9h-0.90zM609.39 763.6h0.90v3.9h-0.90zM616.76 763.6h0.90v3.9h-0.90zM606.52 763.6h0.90v3.9h-0.90zM587.84 763.6h0.90v3.9h-0.90zM615.78 763.6h0.90v3.9h-0.90zM607.30 763.6h0.90v3.9h-0.90zM609.91 763.6h0.90v3.9h-0.90z" fill="#d94545" fill-opacity="0.18"/>
<path d="M474.34 756h0.90v7.6h-0.90zM494.25 756h0.90v7.6h-0.90zM492.50 756h0.90v7.6h-0.90zM507.45 756h0.90v7.6h-0.90zM501.13 756h0.90v7.6h-0.90zM501.93 756h0.90v7.6h-0.90zM499.42 756h0.90v7.6h-0.90zM518.16 756h0.90v7.6h-0.90zM515.63 756h0.90v7.6h-0.90zM507.10 756h0.90v7.6h-0.90zM518.73 756h0.90v7.6h-0.90zM518.53 756h0.90v7.6h-0.90zM537.41 756h0.90v7.6h-0.90zM532.27 756h0.90v7.6h-0.90zM579.80 756h0.90v7.6h-0.90zM549.20 756h0.90v7.6h-0.90zM528.18 756h0.90v7.6h-0.90zM533.20 756h0.90v7.6h-0.90zM589.69 756h0.90v7.6h-0.90zM606.97 756h0.90v7.6h-0.90zM610.52 756h0.90v7.6h-0.90zM591.86 756h0.90v7.6h-0.90zM605.50 756h0.90v7.6h-0.90zM607.25 756h0.90v7.6h-0.90z" fill="#d94545" fill-opacity="0.7"/>
<path d="M474.34 763.6h0.90v3.9h-0.90zM494.25 763.6h0.90v3.9h-0.90zM492.50 763.6h0.90v3.9h-0.90zM507.45 763.6h0.90v3.9h-0.90zM501.13 763.6h0.90v3.9h-0.90zM501.93 763.6h0.90v3.9h-0.90zM499.42 763.6h0.90v3.9h-0.90zM518.16 763.6h0.90v3.9h-0.90zM515.63 763.6h0.90v3.9h-0.90zM507.10 763.6h0.90v3.9h-0.90zM518.73 763.6h0.90v3.9h-0.90zM518.53 763.6h0.90v3.9h-0.90zM537.41 763.6h0.90v3.9h-0.90zM532.27 763.6h0.90v3.9h-0.90zM579.80 763.6h0.90v3.9h-0.90zM549.20 763.6h0.90v3.9h-0.90zM528.18 763.6h0.90v3.9h-0.90zM533.20 763.6h0.90v3.9h-0.90zM589.69 763.6h0.90v3.9h-0.90zM606.97 763.6h0.90v3.9h-0.90zM610.52 763.6h0.90v3.9h-0.90zM591.86 763.6h0.90v3.9h-0.90zM605.50 763.6h0.90v3.9h-0.90zM607.25 763.6h0.90v3.9h-0.90z" fill="#d94545" fill-opacity="0.21"/>
<path d="M484.56 756h0.90v7.6h-0.90zM496.77 756h0.90v7.6h-0.90zM486.18 756h0.90v7.6h-0.90zM521.37 756h0.90v7.6h-0.90zM514.24 756h0.90v7.6h-0.90zM509.18 756h0.90v7.6h-0.90zM509.62 756h0.90v7.6h-0.90zM524.47 756h0.90v7.6h-0.90zM575.01 756h0.90v7.6h-0.90zM556.39 756h0.90v7.6h-0.90zM564.90 756h0.90v7.6h-0.90zM546.70 756h0.90v7.6h-0.90zM574.34 756h0.90v7.6h-0.90zM578.79 756h0.90v7.6h-0.90zM547.29 756h0.90v7.6h-0.90zM583.59 756h0.90v7.6h-0.90zM599.76 756h0.90v7.6h-0.90zM606.36 756h0.90v7.6h-0.90zM616.28 756h0.90v7.6h-0.90zM595.40 756h0.90v7.6h-0.90zM600.50 756h0.90v7.6h-0.90zM593.91 756h0.90v7.6h-0.90z" fill="#d94545" fill-opacity="0.8"/>
<path d="M484.56 763.6h0.90v3.9h-0.90zM496.77 763.6h0.90v3.9h-0.90zM486.18 763.6h0.90v3.9h-0.90zM521.37 763.6h0.90v3.9h-0.90zM514.24 763.6h0.90v3.9h-0.90zM509.18 763.6h0.90v3.9h-0.90zM509.62 763.6h0.90v3.9h-0.90zM524.47 763.6h0.90v3.9h-0.90zM575.01 763.6h0.90v3.9h-0.90zM556.39 763.6h0.90v3.9h-0.90zM564.90 763.6h0.90v3.9h-0.90zM546.70 763.6h0.90v3.9h-0.90zM574.34 763.6h0.90v3.9h-0.90zM578.79 763.6h0.90v3.9h-0.90zM547.29 763.6h0.90v3.9h-0.90zM583.59 763.6h0.90v3.9h-0.90zM599.76 763.6h0.90v3.9h-0.90zM606.36 763.6h0.90v3.9h-0.90zM616.28 763.6h0.90v3.9h-0.90zM595.40 763.6h0.90v3.9h-0.90zM600.50 763.6h0.90v3.9h-0.90zM593.91 763.6h0.90v3.9h-0.90z" fill="#d94545" fill-opacity="0.24"/>
<path d="M476.09 756h0.90v7.6h-0.90zM472.26 756h0.90v7.6h-0.90zM493.96 756h0.90v7.6h-0.90zM503.32 756h0.90v7.6h-0.90zM511.64 756h0.90v7.6h-0.90zM508.75 756h0.90v7.6h-0.90zM565.90 756h0.90v7.6h-0.90zM571.00 756h0.90v7.6h-0.90zM550.05 756h0.90v7.6h-0.90zM583.31 756h0.90v7.6h-0.90zM556.27 756h0.90v7.6h-0.90zM536.18 756h0.90v7.6h-0.90zM535.23 756h0.90v7.6h-0.90zM612.58 756h0.90v7.6h-0.90zM607.55 756h0.90v7.6h-0.90zM591.12 756h0.90v7.6h-0.90zM597.13 756h0.90v7.6h-0.90zM610.98 756h0.90v7.6h-0.90z" fill="#d94545" fill-opacity="0.9"/>
<path d="M476.09 763.6h0.90v3.9h-0.90zM472.26 763.6h0.90v3.9h-0.90zM493.96 763.6h0.90v3.9h-0.90zM503.32 763.6h0.90v3.9h-0.90zM511.64 763.6h0.90v3.9h-0.90zM508.75 763.6h0.90v3.9h-0.90zM565.90 763.6h0.90v3.9h-0.90zM571.00 763.6h0.90v3.9h-0.90zM550.05 763.6h0.90v3.9h-0.90zM583.31 763.6h0.90v3.9h-0.90zM556.27 763.6h0.90v3.9h-0.90zM536.18 763.6h0.90v3.9h-0.90zM535.23 763.6h0.90v3.9h-0.90zM612.58 763.6h0.90v3.9h-0.90zM607.55 763.6h0.90v3.9h-0.90zM591.12 763.6h0.90v3.9h-0.90zM597.13 763.6h0.90v3.9h-0.90zM610.98 763.6h0.90v3.9h-0.90z" fill="#d94545" fill-opacity="0.27"/>
<path d="M511.49 756h0.90v7.6h-0.90zM499.37 756h0.90v7.6h-0.90zM593.82 756h0.90v7.6h-0.90zM598.60 756h0.90v7.6h-0.90zM591.17 756h0.90v7.6h-0.90zM591.59 756h0.90v7.6h-0.90zM619.60 756h0.90v7.6h-0.90zM622.42 756h0.90v7.6h-0.90z" fill="#d94545" fill-opacity="1.0"/>
<path d="M511.49 763.6h0.90v3.9h-0.90zM499.37 763.6h0.90v3.9h-0.90zM593.82 763.6h0.90v3.9h-0.90zM598.60 763.6h0.90v3.9h-0.90zM591.17 763.6h0.90v3.9h-0.90zM591.59 763.6h0.90v3.9h-0.90zM619.60 763.6h0.90v3.9h-0.90zM622.42 763.6h0.90v3.9h-0.90z" fill="#d94545" fill-opacity="0.30"/>
<rect x="471.50" y="755.50" width="153.00" height="13.00" fill="none" stroke="#262626" stroke-width="1.2"/>
<rect x="471.50" y="768.50" width="153.00" height="12.00" fill="#fff"/>
<defs><linearGradient id="pg7685_471" x1="0" x2="1"><stop offset="0" stop-color="#f6d2cf"/><stop offset="0.1" stop-color="#f8e6e4"/><stop offset="0.12000000000000001" stop-color="#f5f5f5"/><stop offset="1" stop-color="#f2f2f5"/></linearGradient></defs>
<rect x="472.00" y="775.90" width="152.00" height="3.60" fill="url(#pg7685_471)"/>
<path d="M489.46 769h0.90v6.9h-0.90zM504.75 769h0.90v6.9h-0.90zM508.57 769h0.90v6.9h-0.90zM503.56 769h0.90v6.9h-0.90zM547.59 769h0.90v6.9h-0.90zM525.65 769h0.90v6.9h-0.90zM564.35 769h0.90v6.9h-0.90zM561.45 769h0.90v6.9h-0.90zM572.35 769h0.90v6.9h-0.90zM561.45 769h0.90v6.9h-0.90zM576.64 769h0.90v6.9h-0.90zM598.32 769h0.90v6.9h-0.90zM589.56 769h0.90v6.9h-0.90zM598.24 769h0.90v6.9h-0.90zM615.76 769h0.90v6.9h-0.90z" fill="#7b4a9e" fill-opacity="0.6"/>
<path d="M489.46 775.9h0.90v3.6h-0.90zM504.75 775.9h0.90v3.6h-0.90zM508.57 775.9h0.90v3.6h-0.90zM503.56 775.9h0.90v3.6h-0.90zM547.59 775.9h0.90v3.6h-0.90zM525.65 775.9h0.90v3.6h-0.90zM564.35 775.9h0.90v3.6h-0.90zM561.45 775.9h0.90v3.6h-0.90zM572.35 775.9h0.90v3.6h-0.90zM561.45 775.9h0.90v3.6h-0.90zM576.64 775.9h0.90v3.6h-0.90zM598.32 775.9h0.90v3.6h-0.90zM589.56 775.9h0.90v3.6h-0.90zM598.24 775.9h0.90v3.6h-0.90zM615.76 775.9h0.90v3.6h-0.90z" fill="#7b4a9e" fill-opacity="0.18"/>
<path d="M484.30 769h0.90v6.9h-0.90zM510.79 769h0.90v6.9h-0.90zM507.30 769h0.90v6.9h-0.90zM507.63 769h0.90v6.9h-0.90zM504.55 769h0.90v6.9h-0.90zM522.82 769h0.90v6.9h-0.90zM528.19 769h0.90v6.9h-0.90zM570.84 769h0.90v6.9h-0.90zM598.74 769h0.90v6.9h-0.90zM582.30 769h0.90v6.9h-0.90zM580.92 769h0.90v6.9h-0.90zM611.18 769h0.90v6.9h-0.90zM616.81 769h0.90v6.9h-0.90zM609.03 769h0.90v6.9h-0.90zM619.18 769h0.90v6.9h-0.90z" fill="#7b4a9e" fill-opacity="0.7"/>
<path d="M484.30 775.9h0.90v3.6h-0.90zM510.79 775.9h0.90v3.6h-0.90zM507.30 775.9h0.90v3.6h-0.90zM507.63 775.9h0.90v3.6h-0.90zM504.55 775.9h0.90v3.6h-0.90zM522.82 775.9h0.90v3.6h-0.90zM528.19 775.9h0.90v3.6h-0.90zM570.84 775.9h0.90v3.6h-0.90zM598.74 775.9h0.90v3.6h-0.90zM582.30 775.9h0.90v3.6h-0.90zM580.92 775.9h0.90v3.6h-0.90zM611.18 775.9h0.90v3.6h-0.90zM616.81 775.9h0.90v3.6h-0.90zM609.03 775.9h0.90v3.6h-0.90zM619.18 775.9h0.90v3.6h-0.90z" fill="#7b4a9e" fill-opacity="0.21"/>
<path d="M496.87 769h0.90v6.9h-0.90zM482.73 769h0.90v6.9h-0.90zM485.74 769h0.90v6.9h-0.90zM510.51 769h0.90v6.9h-0.90zM502.00 769h0.90v6.9h-0.90zM518.61 769h0.90v6.9h-0.90zM557.22 769h0.90v6.9h-0.90zM554.50 769h0.90v6.9h-0.90zM613.36 769h0.90v6.9h-0.90zM621.13 769h0.90v6.9h-0.90zM621.78 769h0.90v6.9h-0.90zM611.91 769h0.90v6.9h-0.90zM614.39 769h0.90v6.9h-0.90zM611.94 769h0.90v6.9h-0.90z" fill="#7b4a9e" fill-opacity="0.8"/>
<path d="M496.87 775.9h0.90v3.6h-0.90zM482.73 775.9h0.90v3.6h-0.90zM485.74 775.9h0.90v3.6h-0.90zM510.51 775.9h0.90v3.6h-0.90zM502.00 775.9h0.90v3.6h-0.90zM518.61 775.9h0.90v3.6h-0.90zM557.22 775.9h0.90v3.6h-0.90zM554.50 775.9h0.90v3.6h-0.90zM613.36 775.9h0.90v3.6h-0.90zM621.13 775.9h0.90v3.6h-0.90zM621.78 775.9h0.90v3.6h-0.90zM611.91 775.9h0.90v3.6h-0.90zM614.39 775.9h0.90v3.6h-0.90zM611.94 775.9h0.90v3.6h-0.90z" fill="#7b4a9e" fill-opacity="0.24"/>
<path d="M488.25 769h0.90v6.9h-0.90zM491.70 769h0.90v6.9h-0.90zM493.76 769h0.90v6.9h-0.90zM500.98 769h0.90v6.9h-0.90zM537.59 769h0.90v6.9h-0.90zM529.03 769h0.90v6.9h-0.90zM522.04 769h0.90v6.9h-0.90zM517.72 769h0.90v6.9h-0.90zM545.63 769h0.90v6.9h-0.90zM550.11 769h0.90v6.9h-0.90zM554.23 769h0.90v6.9h-0.90zM604.44 769h0.90v6.9h-0.90zM596.74 769h0.90v6.9h-0.90zM611.51 769h0.90v6.9h-0.90zM610.53 769h0.90v6.9h-0.90z" fill="#7b4a9e" fill-opacity="0.9"/>
<path d="M488.25 775.9h0.90v3.6h-0.90zM491.70 775.9h0.90v3.6h-0.90zM493.76 775.9h0.90v3.6h-0.90zM500.98 775.9h0.90v3.6h-0.90zM537.59 775.9h0.90v3.6h-0.90zM529.03 775.9h0.90v3.6h-0.90zM522.04 775.9h0.90v3.6h-0.90zM517.72 775.9h0.90v3.6h-0.90zM545.63 775.9h0.90v3.6h-0.90zM550.11 775.9h0.90v3.6h-0.90zM554.23 775.9h0.90v3.6h-0.90zM604.44 775.9h0.90v3.6h-0.90zM596.74 775.9h0.90v3.6h-0.90zM611.51 775.9h0.90v3.6h-0.90zM610.53 775.9h0.90v3.6h-0.90z" fill="#7b4a9e" fill-opacity="0.27"/>
<path d="M484.70 769h0.90v6.9h-0.90zM486.76 769h0.90v6.9h-0.90zM506.31 769h0.90v6.9h-0.90zM510.42 769h0.90v6.9h-0.90zM546.20 769h0.90v6.9h-0.90zM534.13 769h0.90v6.9h-0.90zM573.30 769h0.90v6.9h-0.90zM556.90 769h0.90v6.9h-0.90zM571.91 769h0.90v6.9h-0.90zM597.76 769h0.90v6.9h-0.90zM609.07 769h0.90v6.9h-0.90z" fill="#7b4a9e" fill-opacity="1.0"/>
<path d="M484.70 775.9h0.90v3.6h-0.90zM486.76 775.9h0.90v3.6h-0.90zM506.31 775.9h0.90v3.6h-0.90zM510.42 775.9h0.90v3.6h-0.90zM546.20 775.9h0.90v3.6h-0.90zM534.13 775.9h0.90v3.6h-0.90zM573.30 775.9h0.90v3.6h-0.90zM556.90 775.9h0.90v3.6h-0.90zM571.91 775.9h0.90v3.6h-0.90zM597.76 775.9h0.90v3.6h-0.90zM609.07 775.9h0.90v3.6h-0.90z" fill="#7b4a9e" fill-opacity="0.30"/>
<rect x="471.50" y="768.50" width="153.00" height="12.00" fill="none" stroke="#262626" stroke-width="1.2"/>
<rect x="471.00" y="780.50" width="154.00" height="1.00" fill="#a0a0a0"/>
<path d="M472.0,796.2 L472.0,793.2 C475.5,794.7 481.5,795.6 501.5,796.0 L594.5,796.4000000000001 C614.5,796.8000000000001 620.5,797.7 624.0,799.2 L624.0,796.2 Z" fill="#c8c8c8"/>
<line x1="471.5" y1="796.2" x2="624.5" y2="796.2" stroke="#111" stroke-width="0.9" stroke-dasharray="4.7,2.8"/>
<rect x="471.50" y="781.50" width="153.00" height="28.00" fill="none" stroke="#1e1e1e" stroke-width="1.0"/>
<line x1="470" y1="782.3" x2="471.5" y2="782.3" stroke="#444" stroke-width="0.5" />
<text x="470.1" y="783.6" font-size="3.60" fill="#444" text-anchor="end">5.0</text>
<line x1="470" y1="789.9" x2="471.5" y2="789.9" stroke="#444" stroke-width="0.5" />
<text x="470.1" y="791.2" font-size="3.60" fill="#444" text-anchor="end">2.5</text>
<line x1="470" y1="796.2" x2="471.5" y2="796.2" stroke="#444" stroke-width="0.5" />
<text x="470.1" y="797.5" font-size="3.60" fill="#444" text-anchor="end">0.0</text>
<line x1="470" y1="803.3" x2="471.5" y2="803.3" stroke="#444" stroke-width="0.5" />
<text x="470.1" y="804.6" font-size="3.60" fill="#444" text-anchor="end">−2.5</text>
<text x="460.7" y="795.5" font-size="4.10" fill="#333" text-anchor="middle" transform="rotate(-90 460.7 795.5)">Ranked List</text>
<text x="473" y="788.2" font-size="6.20" fill="#222">Treatment</text>
<text x="620.2" y="788.2" font-size="6.20" fill="#222" text-anchor="end">Control</text>
<line x1="523.8" y1="809.5" x2="523.8" y2="811" stroke="#444" stroke-width="0.5" />
<text x="523.8" y="816.8" font-size="4.20" fill="#444" text-anchor="middle">5000</text>
<line x1="575.4" y1="809.5" x2="575.4" y2="811" stroke="#444" stroke-width="0.5" />
<text x="575.4" y="816.8" font-size="4.20" fill="#444" text-anchor="middle">10000</text>
<text x="548.3" y="820.9" font-size="4.20" fill="#333" text-anchor="middle">Rank in Ordered Dataset</text>
<rect x="597.70" y="685.20" width="5.50" height="3.20" fill="#4aa88a"/>
<text transform="translate(605 688.5) scale(1 1.15)" font-size="4.00" fill="#333">NR4A1</text>
<rect x="597.70" y="689.90" width="5.50" height="3.20" fill="#d94545"/>
<text transform="translate(605 693.2) scale(1 1.15)" font-size="4.00" fill="#333">NR4A2</text>
<rect x="597.70" y="694.60" width="5.50" height="3.20" fill="#7b4a9e"/>
<text transform="translate(605 697.9) scale(1 1.15)" font-size="4.00" fill="#333">NR4A3</text>
</svg></body></html>
